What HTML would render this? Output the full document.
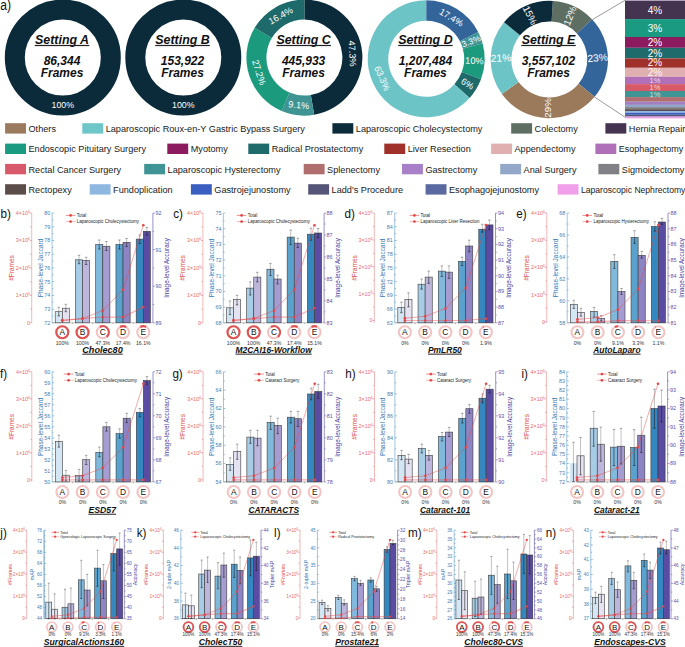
<!DOCTYPE html>
<html><head><meta charset="utf-8"><style>
html,body{margin:0;padding:0;background:#fff;width:685px;height:647px;overflow:hidden}
svg{display:block;font-family:"Liberation Sans",sans-serif}
.bi{font-weight:bold;font-style:italic;fill:#111}
</style></head><body>
<svg width="685" height="647" viewBox="0 0 685 647">
<rect width="685" height="647" fill="#fff"/>
<circle cx="62.8" cy="57.6" r="48" fill="none" stroke="#0b2b3b" stroke-width="20"/>
<text x="62.8" y="108.3" font-size="8.8" fill="#fff" text-anchor="middle">100%</text>
<text x="62" y="44" class="bi" font-size="12.4" text-anchor="middle">Setting A</text>
<rect x="34.8" y="44.9" width="54.5" height="1.2" fill="#222"/>
<text x="62" y="64.6" class="bi" font-size="12" text-anchor="middle">86,344</text>
<text x="62" y="76.7" class="bi" font-size="12" text-anchor="middle">Frames</text>
<circle cx="183.3" cy="57.6" r="48" fill="none" stroke="#0b2b3b" stroke-width="20"/>
<text x="183.3" y="108.3" font-size="8.8" fill="#fff" text-anchor="middle">100%</text>
<text x="182.5" y="44" class="bi" font-size="12.4" text-anchor="middle">Setting B</text>
<rect x="155.3" y="44.9" width="54.5" height="1.2" fill="#222"/>
<text x="182.5" y="64.6" class="bi" font-size="12" text-anchor="middle">153,922</text>
<text x="182.5" y="76.7" class="bi" font-size="12" text-anchor="middle">Frames</text>
<path d="M304.4,-0.4A58,58 0 0 1 314.19,114.77L310.82,95.05A38,38 0 0 0 304.4,19.6Z" fill="#0b2b3b"/>
<path d="M314.19,114.77A58,58 0 0 1 281.7,110.97L289.53,92.57A38,38 0 0 0 310.82,95.05Z" fill="#3f9393"/>
<path d="M281.7,110.97A58,58 0 0 1 254.66,27.76L271.81,38.05A38,38 0 0 0 289.53,92.57Z" fill="#1c9a7e"/>
<path d="M254.66,27.76A58,58 0 0 1 304.4,-0.4L304.4,19.6A38,38 0 0 0 271.81,38.05Z" fill="#1e6a6a"/>
<text x="352.23" y="53.53" transform="rotate(87 352.23 53.53)" font-size="9.2" fill="#fff" text-anchor="middle" dominant-baseline="central">47.3%</text>
<text x="298.83" y="105.28" transform="rotate(5 298.83 105.28)" font-size="9.2" fill="#fff" text-anchor="middle" dominant-baseline="central">9.1%</text>
<text x="258.75" y="72.43" transform="rotate(72 258.75 72.43)" font-size="9.2" fill="#fff" text-anchor="middle" dominant-baseline="central">27.2%</text>
<text x="280.75" y="15.83" transform="rotate(-29 280.75 15.83)" font-size="9.2" fill="#fff" text-anchor="middle" dominant-baseline="central">16.4%</text>
<text x="303.6" y="44" class="bi" font-size="12.4" text-anchor="middle">Setting C</text>
<rect x="276.4" y="44.9" width="54.5" height="1.2" fill="#222"/>
<text x="303.6" y="64.6" class="bi" font-size="12" text-anchor="middle">445,933</text>
<text x="303.6" y="76.7" class="bi" font-size="12" text-anchor="middle">Frames</text>
<path d="M426.2,0.3A58.5,58.5 0 0 1 478.16,31.91L459.95,41.34A38,38 0 0 0 426.2,20.8Z" fill="#33649a"/>
<path d="M478.16,31.91A58.5,58.5 0 0 1 482.58,43.19L462.82,48.66A38,38 0 0 0 459.95,41.34Z" fill="#3f9393"/>
<path d="M482.58,43.19A58.5,58.5 0 0 1 480.99,79.31L461.79,72.12A38,38 0 0 0 462.82,48.66Z" fill="#1c9a7e"/>
<path d="M480.99,79.31A58.5,58.5 0 0 1 469.59,98.04L454.39,84.29A38,38 0 0 0 461.79,72.12Z" fill="#1e6a6a"/>
<path d="M469.59,98.04A58.5,58.5 0 1 1 426.2,0.3L426.2,20.8A38,38 0 1 0 454.39,84.29Z" fill="#6dc4c7"/>
<text x="451.28" y="17.58" transform="rotate(31 451.28 17.58)" font-size="9.2" fill="#fff" text-anchor="middle" dominant-baseline="central">17.4%</text>
<text x="471.12" y="41.18" transform="rotate(-21 471.12 41.18)" font-size="8.6" fill="#fff" text-anchor="middle" dominant-baseline="central">3.3%</text>
<text x="474.4" y="60.92" transform="rotate(2 474.4 60.92)" font-size="9.3" fill="#fff" text-anchor="middle" dominant-baseline="central">10%</text>
<text x="467.42" y="83.88" transform="rotate(31 467.42 83.88)" font-size="9.2" fill="#fff" text-anchor="middle" dominant-baseline="central">6%</text>
<text x="382.1" y="78.38" transform="rotate(66 382.1 78.38)" font-size="9.2" fill="#fff" text-anchor="middle" dominant-baseline="central">63.3%</text>
<text x="425.4" y="44" class="bi" font-size="12.4" text-anchor="middle">Setting D</text>
<rect x="398.2" y="44.9" width="54.5" height="1.2" fill="#222"/>
<text x="425.4" y="64.6" class="bi" font-size="12" text-anchor="middle">1,207,484</text>
<text x="425.4" y="76.7" class="bi" font-size="12" text-anchor="middle">Frames</text>
<path d="M552.88,0.91A58.7,58.7 0 0 1 592.02,19.24L576.96,33.44A38,38 0 0 0 551.62,21.57Z" fill="#5e6e62"/>
<path d="M592.02,19.24A58.7,58.7 0 0 1 594.59,96.84L578.62,83.67A38,38 0 0 0 576.96,33.44Z" fill="#33649a"/>
<path d="M594.59,96.84A58.7,58.7 0 0 1 501.87,94.09L518.6,81.89A38,38 0 0 0 578.62,83.67Z" fill="#9b7a5c"/>
<path d="M501.87,94.09A58.7,58.7 0 0 1 504.01,22.16L519.98,35.33A38,38 0 0 0 518.6,81.89Z" fill="#6dc4c7"/>
<path d="M504.01,22.16A58.7,58.7 0 0 1 552.88,0.91L551.62,21.57A38,38 0 0 0 519.98,35.33Z" fill="#0b2b3b"/>
<text x="569.81" y="15.72" transform="rotate(-68 569.81 15.72)" font-size="9.8" fill="#fff" text-anchor="middle" dominant-baseline="central">12%</text>
<text x="597.62" y="57.9" transform="rotate(-5 597.62 57.9)" font-size="10.3" fill="#fff" text-anchor="middle" dominant-baseline="central">23%</text>
<text x="547.87" y="107.83" transform="rotate(-90 547.87 107.83)" font-size="9.8" fill="#fff" text-anchor="middle" dominant-baseline="central">29%</text>
<text x="500.97" y="58.07" transform="rotate(-2 500.97 58.07)" font-size="10.3" fill="#fff" text-anchor="middle" dominant-baseline="central">21%</text>
<text x="530.02" y="15.16" transform="rotate(63 530.02 15.16)" font-size="9.8" fill="#fff" text-anchor="middle" dominant-baseline="central">15%</text>
<text x="548.5" y="44" class="bi" font-size="12.4" text-anchor="middle">Setting E</text>
<rect x="521.3" y="44.9" width="54.5" height="1.2" fill="#222"/>
<text x="548.5" y="64.6" class="bi" font-size="12" text-anchor="middle">3,557,102</text>
<text x="548.5" y="76.7" class="bi" font-size="12" text-anchor="middle">Frames</text>
<path d="M592.5,19.5L625,0.3M594.5,97L625,117.2" stroke="#555" stroke-width="0.6" fill="none"/>
<rect x="625" y="0" width="60" height="0.9" fill="#b0a6c0"/>
<rect x="625" y="0.9" width="60" height="18.2" fill="#44344f"/>
<rect x="625" y="19.1" width="60" height="17.9" fill="#1a9a80"/>
<rect x="625" y="37" width="60" height="10.8" fill="#8b1a5e"/>
<rect x="625" y="47.8" width="60" height="10.6" fill="#1f6a6b"/>
<rect x="625" y="58.4" width="60" height="9.4" fill="#a0302a"/>
<rect x="625" y="67.8" width="60" height="9" fill="#e0b0b0"/>
<rect x="625" y="76.8" width="60" height="7.3" fill="#b070b8"/>
<rect x="625" y="84.1" width="60" height="6.9" fill="#d85a68"/>
<rect x="625" y="91" width="60" height="6.1" fill="#3f9595"/>
<rect x="625" y="97.1" width="60" height="4.6" fill="#b06e6e"/>
<rect x="625" y="101.7" width="60" height="3.2" fill="#a080c0"/>
<rect x="625" y="104.9" width="60" height="2.2" fill="#90a8c8"/>
<rect x="625" y="107.1" width="60" height="2.1" fill="#808085"/>
<rect x="625" y="109.2" width="60" height="1.8" fill="#5a4d4a"/>
<rect x="625" y="111" width="60" height="1.7" fill="#8fb8e0"/>
<rect x="625" y="112.7" width="60" height="2.1" fill="#3a5fc0"/>
<rect x="625" y="114.8" width="60" height="1.8" fill="#555577"/>
<rect x="625" y="116.6" width="60" height="1.8" fill="#f0a0e8"/>
<text x="655" y="13.6" font-size="10" fill="#fff" fill-opacity="1" text-anchor="middle">4%</text>
<text x="655" y="31.7" font-size="10" fill="#fff" fill-opacity="1" text-anchor="middle">3%</text>
<text x="655" y="45.5" font-size="10" fill="#fff" fill-opacity="1" text-anchor="middle">2%</text>
<text x="655" y="56.7" font-size="10" fill="#fff" fill-opacity="1" text-anchor="middle">2%</text>
<text x="655" y="66.2" font-size="10" fill="#fff" fill-opacity="1" text-anchor="middle">2%</text>
<text x="655" y="76" font-size="10" fill="#fff" fill-opacity="0.9" text-anchor="middle">2%</text>
<text x="655" y="82.8" font-size="7.5" fill="#fff" fill-opacity="0.75" text-anchor="middle">1%</text>
<text x="655" y="90.3" font-size="7.5" fill="#fff" fill-opacity="0.75" text-anchor="middle">1%</text>
<text x="655" y="96.7" font-size="7.5" fill="#fff" fill-opacity="0.75" text-anchor="middle">1%</text>
<rect x="5.1" y="123.2" width="20.9" height="10.4" fill="#9b7b5e"/>
<text x="28.5" y="131.8" font-size="9.6" fill="#1a1a1a" textLength="27.46" lengthAdjust="spacingAndGlyphs">Others</text>
<rect x="82.3" y="123.2" width="20.9" height="10.4" fill="#6ec6c9"/>
<text x="105.7" y="131.8" font-size="9.6" fill="#1a1a1a" textLength="199.18" lengthAdjust="spacingAndGlyphs">Laparoscopic Roux-en-Y Gastric Bypass Surgery</text>
<rect x="332.4" y="123.2" width="20.9" height="10.4" fill="#0b2b3b"/>
<text x="355.8" y="131.8" font-size="9.6" fill="#1a1a1a" textLength="126.63" lengthAdjust="spacingAndGlyphs">Laparoscopic Cholecystectomy</text>
<rect x="511.2" y="123.2" width="20.9" height="10.4" fill="#5e6e62"/>
<text x="534.6" y="131.8" font-size="9.6" fill="#1a1a1a" textLength="43.22" lengthAdjust="spacingAndGlyphs">Colectomy</text>
<rect x="605.4" y="123.2" width="20.9" height="10.4" fill="#44344f"/>
<text x="628.8" y="131.8" font-size="9.6" fill="#1a1a1a" textLength="56.45" lengthAdjust="spacingAndGlyphs">Hernia Repair</text>
<rect x="5.1" y="143.6" width="20.9" height="10.4" fill="#1a9a80"/>
<text x="28.5" y="152.2" font-size="9.6" fill="#1a1a1a" textLength="117.47" lengthAdjust="spacingAndGlyphs">Endoscopic Pituitary Surgery</text>
<rect x="167.3" y="143.6" width="20.9" height="10.4" fill="#8b1a5e"/>
<text x="190.7" y="152.2" font-size="9.6" fill="#1a1a1a" textLength="37.11" lengthAdjust="spacingAndGlyphs">Myotomy</text>
<rect x="248.3" y="143.6" width="20.9" height="10.4" fill="#1f6b6b"/>
<text x="271.7" y="152.2" font-size="9.6" fill="#1a1a1a" textLength="91.53" lengthAdjust="spacingAndGlyphs">Radical Prostatectomy</text>
<rect x="384.3" y="143.6" width="20.9" height="10.4" fill="#a0302a"/>
<text x="407.7" y="152.2" font-size="9.6" fill="#1a1a1a" textLength="63.06" lengthAdjust="spacingAndGlyphs">Liver Resection</text>
<rect x="491.1" y="143.6" width="20.9" height="10.4" fill="#e0b0b0"/>
<text x="514.5" y="152.2" font-size="9.6" fill="#1a1a1a" textLength="61.03" lengthAdjust="spacingAndGlyphs">Appendectomy</text>
<rect x="595.4" y="143.6" width="20.9" height="10.4" fill="#b070b8"/>
<text x="618.8" y="152.2" font-size="9.6" fill="#1a1a1a" textLength="64.5" lengthAdjust="spacingAndGlyphs">Esophagectomy</text>
<rect x="5.1" y="163.9" width="20.9" height="10.4" fill="#d85a6a"/>
<text x="28.5" y="172.5" font-size="9.6" fill="#1a1a1a" textLength="92.55" lengthAdjust="spacingAndGlyphs">Rectal Cancer Surgery</text>
<rect x="144.2" y="163.9" width="20.9" height="10.4" fill="#3f9595"/>
<text x="167.6" y="172.5" font-size="9.6" fill="#1a1a1a" textLength="112.89" lengthAdjust="spacingAndGlyphs">Laparoscopic Hysterectomy</text>
<rect x="303.7" y="163.9" width="20.9" height="10.4" fill="#b06e6e"/>
<text x="327.1" y="172.5" font-size="9.6" fill="#1a1a1a" textLength="52.89" lengthAdjust="spacingAndGlyphs">Splenectomy</text>
<rect x="402" y="163.9" width="20.9" height="10.4" fill="#a880c8"/>
<text x="425.4" y="172.5" font-size="9.6" fill="#1a1a1a" textLength="51.86" lengthAdjust="spacingAndGlyphs">Gastrectomy</text>
<rect x="500.2" y="163.9" width="20.9" height="10.4" fill="#93a8c8"/>
<text x="523.6" y="172.5" font-size="9.6" fill="#1a1a1a" textLength="52.89" lengthAdjust="spacingAndGlyphs">Anal Surgery</text>
<rect x="598.4" y="163.9" width="20.9" height="10.4" fill="#808085"/>
<text x="621.8" y="172.5" font-size="9.6" fill="#1a1a1a" textLength="62.55" lengthAdjust="spacingAndGlyphs">Sigmoidectomy</text>
<rect x="5.1" y="184.2" width="20.9" height="10.4" fill="#5a4d4a"/>
<text x="28.5" y="192.8" font-size="9.6" fill="#1a1a1a" textLength="43.23" lengthAdjust="spacingAndGlyphs">Rectopexy</text>
<rect x="89.7" y="184.2" width="20.9" height="10.4" fill="#8fb8e0"/>
<text x="113.1" y="192.8" font-size="9.6" fill="#1a1a1a" textLength="59.51" lengthAdjust="spacingAndGlyphs">Fundoplication</text>
<rect x="190.9" y="184.2" width="20.9" height="10.4" fill="#3a5fc0"/>
<text x="214.3" y="192.8" font-size="9.6" fill="#1a1a1a" textLength="76.28" lengthAdjust="spacingAndGlyphs">Gastrojejunostomy</text>
<rect x="308.2" y="184.2" width="20.9" height="10.4" fill="#555577"/>
<text x="331.6" y="192.8" font-size="9.6" fill="#1a1a1a" textLength="71.43" lengthAdjust="spacingAndGlyphs">Ladd's Procedure</text>
<rect x="425.6" y="184.2" width="20.9" height="10.4" fill="#5a6aa0"/>
<text x="449" y="192.8" font-size="9.6" fill="#1a1a1a" textLength="90.03" lengthAdjust="spacingAndGlyphs">Esophagojejunostomy</text>
<rect x="557.6" y="184.2" width="20.9" height="10.4" fill="#f0a0e8"/>
<text x="581" y="192.8" font-size="9.6" fill="#1a1a1a" textLength="104.4" lengthAdjust="spacingAndGlyphs">Laparoscopic Nephrectomy</text>
<text x="0.6" y="217.8" font-size="12.4" fill="#111" textLength="10.36" lengthAdjust="spacingAndGlyphs">b)</text>
<line x1="31.7" y1="213.1" x2="31.7" y2="322.8" stroke="#ef9a9a" stroke-width="0.7"/>
<line x1="29.7" y1="322.8" x2="31.7" y2="322.8" stroke="#e57373" stroke-width="0.6"/>
<line x1="30.4" y1="309.09" x2="31.7" y2="309.09" stroke="#e57373" stroke-width="0.6"/>
<line x1="29.7" y1="295.38" x2="31.7" y2="295.38" stroke="#e57373" stroke-width="0.6"/>
<line x1="30.4" y1="281.66" x2="31.7" y2="281.66" stroke="#e57373" stroke-width="0.6"/>
<line x1="29.7" y1="267.95" x2="31.7" y2="267.95" stroke="#e57373" stroke-width="0.6"/>
<line x1="30.4" y1="254.24" x2="31.7" y2="254.24" stroke="#e57373" stroke-width="0.6"/>
<line x1="29.7" y1="240.53" x2="31.7" y2="240.53" stroke="#e57373" stroke-width="0.6"/>
<line x1="30.4" y1="226.81" x2="31.7" y2="226.81" stroke="#e57373" stroke-width="0.6"/>
<line x1="29.7" y1="213.1" x2="31.7" y2="213.1" stroke="#e57373" stroke-width="0.6"/>
<text x="29.9" y="324.74" font-size="5.4" fill="#e86a6a" text-anchor="end">0</text>
<text x="29.9" y="297.32" font-size="5.4" fill="#e86a6a" text-anchor="end">1×10<tspan font-size="3.51" dy="-2.16">6</tspan></text>
<text x="29.9" y="269.89" font-size="5.4" fill="#e86a6a" text-anchor="end">2×10<tspan font-size="3.51" dy="-2.16">6</tspan></text>
<text x="29.9" y="242.47" font-size="5.4" fill="#e86a6a" text-anchor="end">3×10<tspan font-size="3.51" dy="-2.16">6</tspan></text>
<text x="29.9" y="215.04" font-size="5.4" fill="#e86a6a" text-anchor="end">4×10<tspan font-size="3.51" dy="-2.16">6</tspan></text>
<text transform="translate(11.5 267.95) rotate(-90)" font-size="6.5" fill="#e04a4a" text-anchor="middle" dominant-baseline="central">#Frames</text>
<line x1="52.1" y1="213.1" x2="52.1" y2="322.8" stroke="#7aaad0" stroke-width="0.7"/>
<line x1="52.1" y1="322.8" x2="54.1" y2="322.8" stroke="#5b95c5" stroke-width="0.6"/>
<text x="50.2" y="324.74" font-size="5.4" fill="#3f80b8" text-anchor="end">72</text>
<line x1="52.1" y1="315.94" x2="53.4" y2="315.94" stroke="#5b95c5" stroke-width="0.6"/>
<line x1="52.1" y1="309.09" x2="54.1" y2="309.09" stroke="#5b95c5" stroke-width="0.6"/>
<text x="50.2" y="311.03" font-size="5.4" fill="#3f80b8" text-anchor="end">73</text>
<line x1="52.1" y1="302.23" x2="53.4" y2="302.23" stroke="#5b95c5" stroke-width="0.6"/>
<line x1="52.1" y1="295.38" x2="54.1" y2="295.38" stroke="#5b95c5" stroke-width="0.6"/>
<text x="50.2" y="297.32" font-size="5.4" fill="#3f80b8" text-anchor="end">74</text>
<line x1="52.1" y1="288.52" x2="53.4" y2="288.52" stroke="#5b95c5" stroke-width="0.6"/>
<line x1="52.1" y1="281.66" x2="54.1" y2="281.66" stroke="#5b95c5" stroke-width="0.6"/>
<text x="50.2" y="283.61" font-size="5.4" fill="#3f80b8" text-anchor="end">75</text>
<line x1="52.1" y1="274.81" x2="53.4" y2="274.81" stroke="#5b95c5" stroke-width="0.6"/>
<line x1="52.1" y1="267.95" x2="54.1" y2="267.95" stroke="#5b95c5" stroke-width="0.6"/>
<text x="50.2" y="269.89" font-size="5.4" fill="#3f80b8" text-anchor="end">76</text>
<line x1="52.1" y1="261.09" x2="53.4" y2="261.09" stroke="#5b95c5" stroke-width="0.6"/>
<line x1="52.1" y1="254.24" x2="54.1" y2="254.24" stroke="#5b95c5" stroke-width="0.6"/>
<text x="50.2" y="256.18" font-size="5.4" fill="#3f80b8" text-anchor="end">77</text>
<line x1="52.1" y1="247.38" x2="53.4" y2="247.38" stroke="#5b95c5" stroke-width="0.6"/>
<line x1="52.1" y1="240.53" x2="54.1" y2="240.53" stroke="#5b95c5" stroke-width="0.6"/>
<text x="50.2" y="242.47" font-size="5.4" fill="#3f80b8" text-anchor="end">78</text>
<line x1="52.1" y1="233.67" x2="53.4" y2="233.67" stroke="#5b95c5" stroke-width="0.6"/>
<line x1="52.1" y1="226.81" x2="54.1" y2="226.81" stroke="#5b95c5" stroke-width="0.6"/>
<text x="50.2" y="228.76" font-size="5.4" fill="#3f80b8" text-anchor="end">79</text>
<line x1="52.1" y1="219.96" x2="53.4" y2="219.96" stroke="#5b95c5" stroke-width="0.6"/>
<line x1="52.1" y1="213.1" x2="54.1" y2="213.1" stroke="#5b95c5" stroke-width="0.6"/>
<text x="50.2" y="215.04" font-size="5.4" fill="#3f80b8" text-anchor="end">80</text>
<text transform="translate(40.1 267.95) rotate(-90)" font-size="6.5" fill="#2f76b3" text-anchor="middle" dominant-baseline="central">Phase-level Jaccard</text>
<line x1="152.9" y1="213.1" x2="152.9" y2="322.8" stroke="#7d77c2" stroke-width="0.8"/>
<line x1="152.9" y1="322.8" x2="154.9" y2="322.8" stroke="#6a62b0" stroke-width="0.6"/>
<text x="155.4" y="324.74" font-size="5.4" fill="#5a52a8">89</text>
<line x1="152.9" y1="304.52" x2="154.2" y2="304.52" stroke="#6a62b0" stroke-width="0.6"/>
<line x1="152.9" y1="286.23" x2="154.9" y2="286.23" stroke="#6a62b0" stroke-width="0.6"/>
<text x="155.4" y="288.18" font-size="5.4" fill="#5a52a8">90</text>
<line x1="152.9" y1="267.95" x2="154.2" y2="267.95" stroke="#6a62b0" stroke-width="0.6"/>
<line x1="152.9" y1="249.67" x2="154.9" y2="249.67" stroke="#6a62b0" stroke-width="0.6"/>
<text x="155.4" y="251.61" font-size="5.4" fill="#5a52a8">91</text>
<line x1="152.9" y1="231.38" x2="154.2" y2="231.38" stroke="#6a62b0" stroke-width="0.6"/>
<line x1="152.9" y1="213.1" x2="154.9" y2="213.1" stroke="#6a62b0" stroke-width="0.6"/>
<text x="155.4" y="215.04" font-size="5.4" fill="#5a52a8">92</text>
<text transform="translate(166.3 267.95) rotate(-90)" font-size="6.3" fill="#4a41a0" text-anchor="middle" dominant-baseline="central">Image-level Accuracy</text>
<line x1="52.1" y1="322.8" x2="152.9" y2="322.8" stroke="#999" stroke-width="0.6"/>
<line x1="72.42" y1="322.8" x2="72.42" y2="324" stroke="#666" stroke-width="0.5"/>
<line x1="92.67" y1="322.8" x2="92.67" y2="324" stroke="#666" stroke-width="0.5"/>
<line x1="112.92" y1="322.8" x2="112.92" y2="324" stroke="#666" stroke-width="0.5"/>
<line x1="133.18" y1="322.8" x2="133.18" y2="324" stroke="#666" stroke-width="0.5"/>
<rect x="55.2" y="311.7" width="7.1" height="11.1" fill="#d4e6f3" stroke="#3a3a3a" stroke-width="0.6"/>
<rect x="62.3" y="308.2" width="7.1" height="14.6" fill="#e5e3f2" stroke="#3a3a3a" stroke-width="0.6"/>
<rect x="75.45" y="259.8" width="7.1" height="63" fill="#a7cce5" stroke="#3a3a3a" stroke-width="0.6"/>
<rect x="82.55" y="260.3" width="7.1" height="62.5" fill="#bcb6dc" stroke="#3a3a3a" stroke-width="0.6"/>
<rect x="95.7" y="244.5" width="7.1" height="78.3" fill="#80b9dc" stroke="#3a3a3a" stroke-width="0.6"/>
<rect x="102.8" y="246.2" width="7.1" height="76.6" fill="#a59dd1" stroke="#3a3a3a" stroke-width="0.6"/>
<rect x="115.95" y="244.5" width="7.1" height="78.3" fill="#58a2cd" stroke="#3a3a3a" stroke-width="0.6"/>
<rect x="123.05" y="242.3" width="7.1" height="80.5" fill="#8d84c4" stroke="#3a3a3a" stroke-width="0.6"/>
<rect x="136.2" y="239.1" width="7.1" height="83.7" fill="#3587bf" stroke="#3a3a3a" stroke-width="0.6"/>
<rect x="143.3" y="231.3" width="7.1" height="91.5" fill="#5a4ca2" stroke="#3a3a3a" stroke-width="0.6"/>
<path d="M58.75,307.3V311.7" stroke="#999" stroke-width="0.6" fill="none"/>
<path d="M57.55,307.3h2.4" stroke="#666" stroke-width="0.6" fill="none"/>
<path d="M58.75,311.7V315.9M57.55,315.9h2.4" stroke="#222" stroke-width="0.6" fill="none"/>
<path d="M65.85,304.3V308.2" stroke="#999" stroke-width="0.6" fill="none"/>
<path d="M64.65,304.3h2.4" stroke="#666" stroke-width="0.6" fill="none"/>
<path d="M65.85,308.2V311.7M64.65,311.7h2.4" stroke="#222" stroke-width="0.6" fill="none"/>
<path d="M79,255.3V259.8" stroke="#999" stroke-width="0.6" fill="none"/>
<path d="M77.8,255.3h2.4" stroke="#666" stroke-width="0.6" fill="none"/>
<path d="M79,259.8V263.7M77.8,263.7h2.4" stroke="#222" stroke-width="0.6" fill="none"/>
<path d="M86.1,257.3V260.3" stroke="#999" stroke-width="0.6" fill="none"/>
<path d="M84.9,257.3h2.4" stroke="#666" stroke-width="0.6" fill="none"/>
<path d="M86.1,260.3V264.5M84.9,264.5h2.4" stroke="#222" stroke-width="0.6" fill="none"/>
<path d="M99.25,240V244.5" stroke="#999" stroke-width="0.6" fill="none"/>
<path d="M98.05,240h2.4" stroke="#666" stroke-width="0.6" fill="none"/>
<path d="M99.25,244.5V249M98.05,249h2.4" stroke="#222" stroke-width="0.6" fill="none"/>
<path d="M106.35,241.5V246.2" stroke="#999" stroke-width="0.6" fill="none"/>
<path d="M105.15,241.5h2.4" stroke="#666" stroke-width="0.6" fill="none"/>
<path d="M106.35,246.2V250.5M105.15,250.5h2.4" stroke="#222" stroke-width="0.6" fill="none"/>
<path d="M119.5,240V244.5" stroke="#999" stroke-width="0.6" fill="none"/>
<path d="M118.3,240h2.4" stroke="#666" stroke-width="0.6" fill="none"/>
<path d="M119.5,244.5V249M118.3,249h2.4" stroke="#222" stroke-width="0.6" fill="none"/>
<path d="M126.6,238.5V242.3" stroke="#999" stroke-width="0.6" fill="none"/>
<path d="M125.4,238.5h2.4" stroke="#666" stroke-width="0.6" fill="none"/>
<path d="M126.6,242.3V246.5M125.4,246.5h2.4" stroke="#222" stroke-width="0.6" fill="none"/>
<path d="M139.75,235V239.1" stroke="#999" stroke-width="0.6" fill="none"/>
<path d="M138.55,235h2.4" stroke="#666" stroke-width="0.6" fill="none"/>
<path d="M139.75,239.1V243.5M138.55,243.5h2.4" stroke="#222" stroke-width="0.6" fill="none"/>
<path d="M146.85,227.5V231.3" stroke="#999" stroke-width="0.6" fill="none"/>
<path d="M145.65,227.5h2.4" stroke="#666" stroke-width="0.6" fill="none"/>
<path d="M146.85,231.3V235M145.65,235h2.4" stroke="#222" stroke-width="0.6" fill="none"/>
<polyline points="62.3,320.43 82.55,318.58 102.8,310.57 123.05,289.68 143.3,225.25" fill="none" stroke="#e64545" stroke-opacity="0.7" stroke-width="0.65"/>
<polyline points="62.3,320.43 82.55,318.58 102.8,317.02 123.05,317.04 143.3,307.09" fill="none" stroke="#e64545" stroke-opacity="0.42" stroke-width="1.2"/>
<circle cx="62.3" cy="320.43" r="1.35" fill="#e44848"/>
<circle cx="62.3" cy="320.43" r="1.35" fill="#e44848"/>
<circle cx="82.55" cy="318.58" r="1.35" fill="#e44848"/>
<circle cx="82.55" cy="318.58" r="1.35" fill="#e44848"/>
<circle cx="102.8" cy="310.57" r="1.35" fill="#e44848"/>
<circle cx="102.8" cy="317.02" r="1.35" fill="#e44848"/>
<circle cx="123.05" cy="289.68" r="1.35" fill="#e44848"/>
<circle cx="123.05" cy="317.04" r="1.35" fill="#e44848"/>
<circle cx="143.3" cy="225.25" r="1.35" fill="#e44848"/>
<circle cx="143.3" cy="307.09" r="1.35" fill="#e44848"/>
<line x1="65.8" y1="215.4" x2="75.4" y2="215.4" stroke="#e84a4a" stroke-opacity="0.9" stroke-width="0.7"/>
<circle cx="70.6" cy="215.4" r="1.4" fill="#e44848"/>
<text x="76.8" y="217.02" font-size="4.5" fill="#222">Total</text>
<line x1="65.8" y1="221.6" x2="75.4" y2="221.6" stroke="#e84a4a" stroke-opacity="0.45" stroke-width="0.9"/>
<circle cx="70.6" cy="221.6" r="1.4" fill="#e44848"/>
<text x="76.8" y="223.22" font-size="4.5" fill="#222">Laparoscopic Cholecystectomy</text>
<circle cx="62.3" cy="332.2" r="6" fill="#fff" stroke="#f3c4c4" stroke-width="2.1"/>
<circle cx="62.3" cy="332.2" r="6" fill="none" stroke="#de5454" stroke-width="2.1"/>
<text x="62.3" y="332.2" font-size="8.4" fill="#111" text-anchor="middle" dominant-baseline="central">A</text>
<text x="62.3" y="344.5" font-size="5.2" fill="#333" text-anchor="middle">100%</text>
<circle cx="82.55" cy="332.2" r="6" fill="#fff" stroke="#f3c4c4" stroke-width="2.1"/>
<circle cx="82.55" cy="332.2" r="6" fill="none" stroke="#de5454" stroke-width="2.1"/>
<text x="82.55" y="332.2" font-size="8.4" fill="#111" text-anchor="middle" dominant-baseline="central">B</text>
<text x="82.55" y="344.5" font-size="5.2" fill="#333" text-anchor="middle">100%</text>
<circle cx="102.8" cy="332.2" r="6" fill="#fff" stroke="#f3c4c4" stroke-width="2.1"/>
<path d="M99.8,327A6.0,6.0 0 0 1 106.63,336.82" fill="none" stroke="#de5454" stroke-width="2.1"/>
<text x="102.8" y="332.2" font-size="8.4" fill="#111" text-anchor="middle" dominant-baseline="central">C</text>
<text x="102.8" y="344.5" font-size="5.2" fill="#333" text-anchor="middle">47.3%</text>
<circle cx="123.05" cy="332.2" r="6" fill="#fff" stroke="#f3c4c4" stroke-width="2.1"/>
<path d="M120.05,327A6.0,6.0 0 0 1 126.29,327.15" fill="none" stroke="#de5454" stroke-width="2.1"/>
<text x="123.05" y="332.2" font-size="8.4" fill="#111" text-anchor="middle" dominant-baseline="central">D</text>
<text x="123.05" y="344.5" font-size="5.2" fill="#333" text-anchor="middle">17.4%</text>
<circle cx="143.3" cy="332.2" r="6" fill="#fff" stroke="#f3c4c4" stroke-width="2.1"/>
<path d="M140.3,327A6.0,6.0 0 0 1 146.11,326.9" fill="none" stroke="#de5454" stroke-width="2.1"/>
<text x="143.3" y="332.2" font-size="8.4" fill="#111" text-anchor="middle" dominant-baseline="central">E</text>
<text x="143.3" y="344.5" font-size="5.2" fill="#333" text-anchor="middle">16.1%</text>
<text x="102.5" y="352.6" class="bi" font-size="8.9" text-anchor="middle" textLength="40.4" lengthAdjust="spacingAndGlyphs">Cholec80</text>
<rect x="82.3" y="353.6" width="40.4" height="1.1" fill="#333"/>
<text x="173.3" y="217.8" font-size="12.4" fill="#111" textLength="9.71" lengthAdjust="spacingAndGlyphs">c)</text>
<line x1="202.9" y1="213.1" x2="202.9" y2="322.8" stroke="#ef9a9a" stroke-width="0.7"/>
<line x1="200.9" y1="322.8" x2="202.9" y2="322.8" stroke="#e57373" stroke-width="0.6"/>
<line x1="201.6" y1="309.09" x2="202.9" y2="309.09" stroke="#e57373" stroke-width="0.6"/>
<line x1="200.9" y1="295.38" x2="202.9" y2="295.38" stroke="#e57373" stroke-width="0.6"/>
<line x1="201.6" y1="281.66" x2="202.9" y2="281.66" stroke="#e57373" stroke-width="0.6"/>
<line x1="200.9" y1="267.95" x2="202.9" y2="267.95" stroke="#e57373" stroke-width="0.6"/>
<line x1="201.6" y1="254.24" x2="202.9" y2="254.24" stroke="#e57373" stroke-width="0.6"/>
<line x1="200.9" y1="240.53" x2="202.9" y2="240.53" stroke="#e57373" stroke-width="0.6"/>
<line x1="201.6" y1="226.81" x2="202.9" y2="226.81" stroke="#e57373" stroke-width="0.6"/>
<line x1="200.9" y1="213.1" x2="202.9" y2="213.1" stroke="#e57373" stroke-width="0.6"/>
<text x="201.1" y="324.74" font-size="5.4" fill="#e86a6a" text-anchor="end">0</text>
<text x="201.1" y="297.32" font-size="5.4" fill="#e86a6a" text-anchor="end">1×10<tspan font-size="3.51" dy="-2.16">6</tspan></text>
<text x="201.1" y="269.89" font-size="5.4" fill="#e86a6a" text-anchor="end">2×10<tspan font-size="3.51" dy="-2.16">6</tspan></text>
<text x="201.1" y="242.47" font-size="5.4" fill="#e86a6a" text-anchor="end">3×10<tspan font-size="3.51" dy="-2.16">6</tspan></text>
<text x="201.1" y="215.04" font-size="5.4" fill="#e86a6a" text-anchor="end">4×10<tspan font-size="3.51" dy="-2.16">6</tspan></text>
<text transform="translate(182.7 267.95) rotate(-90)" font-size="6.5" fill="#e04a4a" text-anchor="middle" dominant-baseline="central">#Frames</text>
<line x1="223.3" y1="213.1" x2="223.3" y2="322.8" stroke="#7aaad0" stroke-width="0.7"/>
<line x1="223.3" y1="322.8" x2="225.3" y2="322.8" stroke="#5b95c5" stroke-width="0.6"/>
<text x="221.4" y="324.74" font-size="5.4" fill="#3f80b8" text-anchor="end">68</text>
<line x1="223.3" y1="314.96" x2="224.6" y2="314.96" stroke="#5b95c5" stroke-width="0.6"/>
<line x1="223.3" y1="307.13" x2="225.3" y2="307.13" stroke="#5b95c5" stroke-width="0.6"/>
<text x="221.4" y="309.07" font-size="5.4" fill="#3f80b8" text-anchor="end">69</text>
<line x1="223.3" y1="299.29" x2="224.6" y2="299.29" stroke="#5b95c5" stroke-width="0.6"/>
<line x1="223.3" y1="291.46" x2="225.3" y2="291.46" stroke="#5b95c5" stroke-width="0.6"/>
<text x="221.4" y="293.4" font-size="5.4" fill="#3f80b8" text-anchor="end">70</text>
<line x1="223.3" y1="283.62" x2="224.6" y2="283.62" stroke="#5b95c5" stroke-width="0.6"/>
<line x1="223.3" y1="275.79" x2="225.3" y2="275.79" stroke="#5b95c5" stroke-width="0.6"/>
<text x="221.4" y="277.73" font-size="5.4" fill="#3f80b8" text-anchor="end">71</text>
<line x1="223.3" y1="267.95" x2="224.6" y2="267.95" stroke="#5b95c5" stroke-width="0.6"/>
<line x1="223.3" y1="260.11" x2="225.3" y2="260.11" stroke="#5b95c5" stroke-width="0.6"/>
<text x="221.4" y="262.06" font-size="5.4" fill="#3f80b8" text-anchor="end">72</text>
<line x1="223.3" y1="252.28" x2="224.6" y2="252.28" stroke="#5b95c5" stroke-width="0.6"/>
<line x1="223.3" y1="244.44" x2="225.3" y2="244.44" stroke="#5b95c5" stroke-width="0.6"/>
<text x="221.4" y="246.39" font-size="5.4" fill="#3f80b8" text-anchor="end">73</text>
<line x1="223.3" y1="236.61" x2="224.6" y2="236.61" stroke="#5b95c5" stroke-width="0.6"/>
<line x1="223.3" y1="228.77" x2="225.3" y2="228.77" stroke="#5b95c5" stroke-width="0.6"/>
<text x="221.4" y="230.72" font-size="5.4" fill="#3f80b8" text-anchor="end">74</text>
<line x1="223.3" y1="220.94" x2="224.6" y2="220.94" stroke="#5b95c5" stroke-width="0.6"/>
<line x1="223.3" y1="213.1" x2="225.3" y2="213.1" stroke="#5b95c5" stroke-width="0.6"/>
<text x="221.4" y="215.04" font-size="5.4" fill="#3f80b8" text-anchor="end">75</text>
<text transform="translate(211.3 267.95) rotate(-90)" font-size="6.5" fill="#2f76b3" text-anchor="middle" dominant-baseline="central">Phase-level Jaccard</text>
<line x1="324.1" y1="213.1" x2="324.1" y2="322.8" stroke="#7d77c2" stroke-width="0.8"/>
<line x1="324.1" y1="322.8" x2="326.1" y2="322.8" stroke="#6a62b0" stroke-width="0.6"/>
<text x="326.6" y="324.74" font-size="5.4" fill="#5a52a8">83</text>
<line x1="324.1" y1="311.83" x2="325.4" y2="311.83" stroke="#6a62b0" stroke-width="0.6"/>
<line x1="324.1" y1="300.86" x2="326.1" y2="300.86" stroke="#6a62b0" stroke-width="0.6"/>
<text x="326.6" y="302.8" font-size="5.4" fill="#5a52a8">84</text>
<line x1="324.1" y1="289.89" x2="325.4" y2="289.89" stroke="#6a62b0" stroke-width="0.6"/>
<line x1="324.1" y1="278.92" x2="326.1" y2="278.92" stroke="#6a62b0" stroke-width="0.6"/>
<text x="326.6" y="280.86" font-size="5.4" fill="#5a52a8">85</text>
<line x1="324.1" y1="267.95" x2="325.4" y2="267.95" stroke="#6a62b0" stroke-width="0.6"/>
<line x1="324.1" y1="256.98" x2="326.1" y2="256.98" stroke="#6a62b0" stroke-width="0.6"/>
<text x="326.6" y="258.92" font-size="5.4" fill="#5a52a8">86</text>
<line x1="324.1" y1="246.01" x2="325.4" y2="246.01" stroke="#6a62b0" stroke-width="0.6"/>
<line x1="324.1" y1="235.04" x2="326.1" y2="235.04" stroke="#6a62b0" stroke-width="0.6"/>
<text x="326.6" y="236.98" font-size="5.4" fill="#5a52a8">87</text>
<line x1="324.1" y1="224.07" x2="325.4" y2="224.07" stroke="#6a62b0" stroke-width="0.6"/>
<line x1="324.1" y1="213.1" x2="326.1" y2="213.1" stroke="#6a62b0" stroke-width="0.6"/>
<text x="326.6" y="215.04" font-size="5.4" fill="#5a52a8">88</text>
<text transform="translate(337.5 267.95) rotate(-90)" font-size="6.3" fill="#4a41a0" text-anchor="middle" dominant-baseline="central">Image-level Accuracy</text>
<line x1="223.3" y1="322.8" x2="324.1" y2="322.8" stroke="#999" stroke-width="0.6"/>
<line x1="243.62" y1="322.8" x2="243.62" y2="324" stroke="#666" stroke-width="0.5"/>
<line x1="263.88" y1="322.8" x2="263.88" y2="324" stroke="#666" stroke-width="0.5"/>
<line x1="284.12" y1="322.8" x2="284.12" y2="324" stroke="#666" stroke-width="0.5"/>
<line x1="304.38" y1="322.8" x2="304.38" y2="324" stroke="#666" stroke-width="0.5"/>
<rect x="226.4" y="307.8" width="7.1" height="15" fill="#d4e6f3" stroke="#3a3a3a" stroke-width="0.6"/>
<rect x="233.5" y="299.3" width="7.1" height="23.5" fill="#e5e3f2" stroke="#3a3a3a" stroke-width="0.6"/>
<rect x="246.65" y="288.1" width="7.1" height="34.7" fill="#a7cce5" stroke="#3a3a3a" stroke-width="0.6"/>
<rect x="253.75" y="277.1" width="7.1" height="45.7" fill="#bcb6dc" stroke="#3a3a3a" stroke-width="0.6"/>
<rect x="266.9" y="269.2" width="7.1" height="53.6" fill="#80b9dc" stroke="#3a3a3a" stroke-width="0.6"/>
<rect x="274" y="279" width="7.1" height="43.8" fill="#a59dd1" stroke="#3a3a3a" stroke-width="0.6"/>
<rect x="287.15" y="237.1" width="7.1" height="85.7" fill="#58a2cd" stroke="#3a3a3a" stroke-width="0.6"/>
<rect x="294.25" y="243.1" width="7.1" height="79.7" fill="#8d84c4" stroke="#3a3a3a" stroke-width="0.6"/>
<rect x="307.4" y="234.2" width="7.1" height="88.6" fill="#3587bf" stroke="#3a3a3a" stroke-width="0.6"/>
<rect x="314.5" y="233" width="7.1" height="89.8" fill="#5a4ca2" stroke="#3a3a3a" stroke-width="0.6"/>
<path d="M229.95,301V307.8" stroke="#999" stroke-width="0.6" fill="none"/>
<path d="M228.75,301h2.4" stroke="#666" stroke-width="0.6" fill="none"/>
<path d="M229.95,307.8V314.6M228.75,314.6h2.4" stroke="#222" stroke-width="0.6" fill="none"/>
<path d="M237.05,295.3V299.3" stroke="#999" stroke-width="0.6" fill="none"/>
<path d="M235.85,295.3h2.4" stroke="#666" stroke-width="0.6" fill="none"/>
<path d="M237.05,299.3V304.9M235.85,304.9h2.4" stroke="#222" stroke-width="0.6" fill="none"/>
<path d="M250.2,281.9V288.1" stroke="#999" stroke-width="0.6" fill="none"/>
<path d="M249,281.9h2.4" stroke="#666" stroke-width="0.6" fill="none"/>
<path d="M250.2,288.1V295M249,295h2.4" stroke="#222" stroke-width="0.6" fill="none"/>
<path d="M257.3,272.3V277.1" stroke="#999" stroke-width="0.6" fill="none"/>
<path d="M256.1,272.3h2.4" stroke="#666" stroke-width="0.6" fill="none"/>
<path d="M257.3,277.1V281.9M256.1,281.9h2.4" stroke="#222" stroke-width="0.6" fill="none"/>
<path d="M270.45,263.4V269.2" stroke="#999" stroke-width="0.6" fill="none"/>
<path d="M269.25,263.4h2.4" stroke="#666" stroke-width="0.6" fill="none"/>
<path d="M270.45,269.2V275.5M269.25,275.5h2.4" stroke="#222" stroke-width="0.6" fill="none"/>
<path d="M277.55,275.2V279" stroke="#999" stroke-width="0.6" fill="none"/>
<path d="M276.35,275.2h2.4" stroke="#666" stroke-width="0.6" fill="none"/>
<path d="M277.55,279V283.9M276.35,283.9h2.4" stroke="#222" stroke-width="0.6" fill="none"/>
<path d="M290.7,230.1V237.1" stroke="#999" stroke-width="0.6" fill="none"/>
<path d="M289.5,230.1h2.4" stroke="#666" stroke-width="0.6" fill="none"/>
<path d="M290.7,237.1V244.6M289.5,244.6h2.4" stroke="#222" stroke-width="0.6" fill="none"/>
<path d="M297.8,238.2V243.1" stroke="#999" stroke-width="0.6" fill="none"/>
<path d="M296.6,238.2h2.4" stroke="#666" stroke-width="0.6" fill="none"/>
<path d="M297.8,243.1V247.5M296.6,247.5h2.4" stroke="#222" stroke-width="0.6" fill="none"/>
<path d="M310.95,228.2V234.2" stroke="#999" stroke-width="0.6" fill="none"/>
<path d="M309.75,228.2h2.4" stroke="#666" stroke-width="0.6" fill="none"/>
<path d="M310.95,234.2V240.2M309.75,240.2h2.4" stroke="#222" stroke-width="0.6" fill="none"/>
<path d="M318.05,228.6V233" stroke="#999" stroke-width="0.6" fill="none"/>
<path d="M316.85,228.6h2.4" stroke="#666" stroke-width="0.6" fill="none"/>
<path d="M318.05,233V237.5M316.85,237.5h2.4" stroke="#222" stroke-width="0.6" fill="none"/>
<polyline points="233.5,320.43 253.75,318.58 274,310.57 294.25,289.68 314.5,225.25" fill="none" stroke="#e64545" stroke-opacity="0.7" stroke-width="0.65"/>
<polyline points="233.5,320.43 253.75,318.58 274,317.02 294.25,317.04 314.5,308.07" fill="none" stroke="#e64545" stroke-opacity="0.42" stroke-width="1.2"/>
<circle cx="233.5" cy="320.43" r="1.35" fill="#e44848"/>
<circle cx="233.5" cy="320.43" r="1.35" fill="#e44848"/>
<circle cx="253.75" cy="318.58" r="1.35" fill="#e44848"/>
<circle cx="253.75" cy="318.58" r="1.35" fill="#e44848"/>
<circle cx="274" cy="310.57" r="1.35" fill="#e44848"/>
<circle cx="274" cy="317.02" r="1.35" fill="#e44848"/>
<circle cx="294.25" cy="289.68" r="1.35" fill="#e44848"/>
<circle cx="294.25" cy="317.04" r="1.35" fill="#e44848"/>
<circle cx="314.5" cy="225.25" r="1.35" fill="#e44848"/>
<circle cx="314.5" cy="308.07" r="1.35" fill="#e44848"/>
<line x1="236.8" y1="215.4" x2="246.4" y2="215.4" stroke="#e84a4a" stroke-opacity="0.9" stroke-width="0.7"/>
<circle cx="241.6" cy="215.4" r="1.4" fill="#e44848"/>
<text x="247.8" y="217.02" font-size="4.5" fill="#222">Total</text>
<line x1="236.8" y1="221.6" x2="246.4" y2="221.6" stroke="#e84a4a" stroke-opacity="0.45" stroke-width="0.9"/>
<circle cx="241.6" cy="221.6" r="1.4" fill="#e44848"/>
<text x="247.8" y="223.22" font-size="4.5" fill="#222">Laparoscopic Cholecystectomy</text>
<circle cx="233.5" cy="332.2" r="6" fill="#fff" stroke="#f3c4c4" stroke-width="2.1"/>
<circle cx="233.5" cy="332.2" r="6" fill="none" stroke="#de5454" stroke-width="2.1"/>
<text x="233.5" y="332.2" font-size="8.4" fill="#111" text-anchor="middle" dominant-baseline="central">A</text>
<text x="233.5" y="344.5" font-size="5.2" fill="#333" text-anchor="middle">100%</text>
<circle cx="253.75" cy="332.2" r="6" fill="#fff" stroke="#f3c4c4" stroke-width="2.1"/>
<circle cx="253.75" cy="332.2" r="6" fill="none" stroke="#de5454" stroke-width="2.1"/>
<text x="253.75" y="332.2" font-size="8.4" fill="#111" text-anchor="middle" dominant-baseline="central">B</text>
<text x="253.75" y="344.5" font-size="5.2" fill="#333" text-anchor="middle">100%</text>
<circle cx="274" cy="332.2" r="6" fill="#fff" stroke="#f3c4c4" stroke-width="2.1"/>
<path d="M271,327A6.0,6.0 0 0 1 277.83,336.82" fill="none" stroke="#de5454" stroke-width="2.1"/>
<text x="274" y="332.2" font-size="8.4" fill="#111" text-anchor="middle" dominant-baseline="central">C</text>
<text x="274" y="344.5" font-size="5.2" fill="#333" text-anchor="middle">47.3%</text>
<circle cx="294.25" cy="332.2" r="6" fill="#fff" stroke="#f3c4c4" stroke-width="2.1"/>
<path d="M291.25,327A6.0,6.0 0 0 1 297.49,327.15" fill="none" stroke="#de5454" stroke-width="2.1"/>
<text x="294.25" y="332.2" font-size="8.4" fill="#111" text-anchor="middle" dominant-baseline="central">D</text>
<text x="294.25" y="344.5" font-size="5.2" fill="#333" text-anchor="middle">17.4%</text>
<circle cx="314.5" cy="332.2" r="6" fill="#fff" stroke="#f3c4c4" stroke-width="2.1"/>
<path d="M311.5,327A6.0,6.0 0 0 1 316.97,326.73" fill="none" stroke="#de5454" stroke-width="2.1"/>
<text x="314.5" y="332.2" font-size="8.4" fill="#111" text-anchor="middle" dominant-baseline="central">E</text>
<text x="314.5" y="344.5" font-size="5.2" fill="#333" text-anchor="middle">15.1%</text>
<text x="273.6" y="352.6" class="bi" font-size="8.9" text-anchor="middle" textLength="76.2" lengthAdjust="spacingAndGlyphs">M2CAI16-Workflow</text>
<rect x="235.5" y="353.6" width="76.2" height="1.1" fill="#333"/>
<text x="344.6" y="217.8" font-size="12.4" fill="#111" textLength="10.36" lengthAdjust="spacingAndGlyphs">d)</text>
<line x1="374.3" y1="213.1" x2="374.3" y2="322.8" stroke="#ef9a9a" stroke-width="0.7"/>
<line x1="372.3" y1="320.5" x2="374.3" y2="320.5" stroke="#e57373" stroke-width="0.6"/>
<line x1="373" y1="307.07" x2="374.3" y2="307.07" stroke="#e57373" stroke-width="0.6"/>
<line x1="372.3" y1="293.65" x2="374.3" y2="293.65" stroke="#e57373" stroke-width="0.6"/>
<line x1="373" y1="280.23" x2="374.3" y2="280.23" stroke="#e57373" stroke-width="0.6"/>
<line x1="372.3" y1="266.8" x2="374.3" y2="266.8" stroke="#e57373" stroke-width="0.6"/>
<line x1="373" y1="253.38" x2="374.3" y2="253.38" stroke="#e57373" stroke-width="0.6"/>
<line x1="372.3" y1="239.95" x2="374.3" y2="239.95" stroke="#e57373" stroke-width="0.6"/>
<line x1="373" y1="226.52" x2="374.3" y2="226.52" stroke="#e57373" stroke-width="0.6"/>
<line x1="372.3" y1="213.1" x2="374.3" y2="213.1" stroke="#e57373" stroke-width="0.6"/>
<text x="372.5" y="322.44" font-size="5.4" fill="#e86a6a" text-anchor="end">0</text>
<text x="372.5" y="295.59" font-size="5.4" fill="#e86a6a" text-anchor="end">1×10<tspan font-size="3.51" dy="-2.16">6</tspan></text>
<text x="372.5" y="268.74" font-size="5.4" fill="#e86a6a" text-anchor="end">2×10<tspan font-size="3.51" dy="-2.16">6</tspan></text>
<text x="372.5" y="241.89" font-size="5.4" fill="#e86a6a" text-anchor="end">3×10<tspan font-size="3.51" dy="-2.16">6</tspan></text>
<text x="372.5" y="215.04" font-size="5.4" fill="#e86a6a" text-anchor="end">4×10<tspan font-size="3.51" dy="-2.16">6</tspan></text>
<text transform="translate(354.1 267.95) rotate(-90)" font-size="6.5" fill="#e04a4a" text-anchor="middle" dominant-baseline="central">#Frames</text>
<line x1="394.7" y1="213.1" x2="394.7" y2="322.8" stroke="#7aaad0" stroke-width="0.7"/>
<line x1="394.7" y1="322.8" x2="396.7" y2="322.8" stroke="#5b95c5" stroke-width="0.6"/>
<text x="392.8" y="324.74" font-size="5.4" fill="#3f80b8" text-anchor="end">63</text>
<line x1="394.7" y1="315.94" x2="396" y2="315.94" stroke="#5b95c5" stroke-width="0.6"/>
<line x1="394.7" y1="309.09" x2="396.7" y2="309.09" stroke="#5b95c5" stroke-width="0.6"/>
<text x="392.8" y="311.03" font-size="5.4" fill="#3f80b8" text-anchor="end">66</text>
<line x1="394.7" y1="302.23" x2="396" y2="302.23" stroke="#5b95c5" stroke-width="0.6"/>
<line x1="394.7" y1="295.38" x2="396.7" y2="295.38" stroke="#5b95c5" stroke-width="0.6"/>
<text x="392.8" y="297.32" font-size="5.4" fill="#3f80b8" text-anchor="end">69</text>
<line x1="394.7" y1="288.52" x2="396" y2="288.52" stroke="#5b95c5" stroke-width="0.6"/>
<line x1="394.7" y1="281.66" x2="396.7" y2="281.66" stroke="#5b95c5" stroke-width="0.6"/>
<text x="392.8" y="283.61" font-size="5.4" fill="#3f80b8" text-anchor="end">72</text>
<line x1="394.7" y1="274.81" x2="396" y2="274.81" stroke="#5b95c5" stroke-width="0.6"/>
<line x1="394.7" y1="267.95" x2="396.7" y2="267.95" stroke="#5b95c5" stroke-width="0.6"/>
<text x="392.8" y="269.89" font-size="5.4" fill="#3f80b8" text-anchor="end">75</text>
<line x1="394.7" y1="261.09" x2="396" y2="261.09" stroke="#5b95c5" stroke-width="0.6"/>
<line x1="394.7" y1="254.24" x2="396.7" y2="254.24" stroke="#5b95c5" stroke-width="0.6"/>
<text x="392.8" y="256.18" font-size="5.4" fill="#3f80b8" text-anchor="end">78</text>
<line x1="394.7" y1="247.38" x2="396" y2="247.38" stroke="#5b95c5" stroke-width="0.6"/>
<line x1="394.7" y1="240.53" x2="396.7" y2="240.53" stroke="#5b95c5" stroke-width="0.6"/>
<text x="392.8" y="242.47" font-size="5.4" fill="#3f80b8" text-anchor="end">81</text>
<line x1="394.7" y1="233.67" x2="396" y2="233.67" stroke="#5b95c5" stroke-width="0.6"/>
<line x1="394.7" y1="226.81" x2="396.7" y2="226.81" stroke="#5b95c5" stroke-width="0.6"/>
<text x="392.8" y="228.76" font-size="5.4" fill="#3f80b8" text-anchor="end">84</text>
<line x1="394.7" y1="219.96" x2="396" y2="219.96" stroke="#5b95c5" stroke-width="0.6"/>
<line x1="394.7" y1="213.1" x2="396.7" y2="213.1" stroke="#5b95c5" stroke-width="0.6"/>
<text x="392.8" y="215.04" font-size="5.4" fill="#3f80b8" text-anchor="end">87</text>
<text transform="translate(382.7 267.95) rotate(-90)" font-size="6.5" fill="#2f76b3" text-anchor="middle" dominant-baseline="central">Phase-level Jaccard</text>
<line x1="495.5" y1="213.1" x2="495.5" y2="322.8" stroke="#7d77c2" stroke-width="0.8"/>
<line x1="495.5" y1="322.8" x2="497.5" y2="322.8" stroke="#6a62b0" stroke-width="0.6"/>
<text x="498" y="324.74" font-size="5.4" fill="#5a52a8">87</text>
<line x1="495.5" y1="314.96" x2="496.8" y2="314.96" stroke="#6a62b0" stroke-width="0.6"/>
<line x1="495.5" y1="307.13" x2="497.5" y2="307.13" stroke="#6a62b0" stroke-width="0.6"/>
<text x="498" y="309.07" font-size="5.4" fill="#5a52a8">88</text>
<line x1="495.5" y1="299.29" x2="496.8" y2="299.29" stroke="#6a62b0" stroke-width="0.6"/>
<line x1="495.5" y1="291.46" x2="497.5" y2="291.46" stroke="#6a62b0" stroke-width="0.6"/>
<text x="498" y="293.4" font-size="5.4" fill="#5a52a8">89</text>
<line x1="495.5" y1="283.62" x2="496.8" y2="283.62" stroke="#6a62b0" stroke-width="0.6"/>
<line x1="495.5" y1="275.79" x2="497.5" y2="275.79" stroke="#6a62b0" stroke-width="0.6"/>
<text x="498" y="277.73" font-size="5.4" fill="#5a52a8">90</text>
<line x1="495.5" y1="267.95" x2="496.8" y2="267.95" stroke="#6a62b0" stroke-width="0.6"/>
<line x1="495.5" y1="260.11" x2="497.5" y2="260.11" stroke="#6a62b0" stroke-width="0.6"/>
<text x="498" y="262.06" font-size="5.4" fill="#5a52a8">91</text>
<line x1="495.5" y1="252.28" x2="496.8" y2="252.28" stroke="#6a62b0" stroke-width="0.6"/>
<line x1="495.5" y1="244.44" x2="497.5" y2="244.44" stroke="#6a62b0" stroke-width="0.6"/>
<text x="498" y="246.39" font-size="5.4" fill="#5a52a8">92</text>
<line x1="495.5" y1="236.61" x2="496.8" y2="236.61" stroke="#6a62b0" stroke-width="0.6"/>
<line x1="495.5" y1="228.77" x2="497.5" y2="228.77" stroke="#6a62b0" stroke-width="0.6"/>
<text x="498" y="230.72" font-size="5.4" fill="#5a52a8">93</text>
<line x1="495.5" y1="220.94" x2="496.8" y2="220.94" stroke="#6a62b0" stroke-width="0.6"/>
<line x1="495.5" y1="213.1" x2="497.5" y2="213.1" stroke="#6a62b0" stroke-width="0.6"/>
<text x="498" y="215.04" font-size="5.4" fill="#5a52a8">94</text>
<text transform="translate(508.9 267.95) rotate(-90)" font-size="6.3" fill="#4a41a0" text-anchor="middle" dominant-baseline="central">Image-level Accuracy</text>
<line x1="394.7" y1="322.8" x2="495.5" y2="322.8" stroke="#999" stroke-width="0.6"/>
<line x1="415.02" y1="322.8" x2="415.02" y2="324" stroke="#666" stroke-width="0.5"/>
<line x1="435.27" y1="322.8" x2="435.27" y2="324" stroke="#666" stroke-width="0.5"/>
<line x1="455.52" y1="322.8" x2="455.52" y2="324" stroke="#666" stroke-width="0.5"/>
<line x1="475.77" y1="322.8" x2="475.77" y2="324" stroke="#666" stroke-width="0.5"/>
<rect x="397.8" y="307.4" width="7.1" height="15.4" fill="#d4e6f3" stroke="#3a3a3a" stroke-width="0.6"/>
<rect x="404.9" y="299.3" width="7.1" height="23.5" fill="#e5e3f2" stroke="#3a3a3a" stroke-width="0.6"/>
<rect x="418.05" y="284.2" width="7.1" height="38.6" fill="#a7cce5" stroke="#3a3a3a" stroke-width="0.6"/>
<rect x="425.15" y="277.1" width="7.1" height="45.7" fill="#bcb6dc" stroke="#3a3a3a" stroke-width="0.6"/>
<rect x="438.3" y="271.1" width="7.1" height="51.7" fill="#80b9dc" stroke="#3a3a3a" stroke-width="0.6"/>
<rect x="445.4" y="272.1" width="7.1" height="50.7" fill="#a59dd1" stroke="#3a3a3a" stroke-width="0.6"/>
<rect x="458.55" y="261.4" width="7.1" height="61.4" fill="#58a2cd" stroke="#3a3a3a" stroke-width="0.6"/>
<rect x="465.65" y="246" width="7.1" height="76.8" fill="#8d84c4" stroke="#3a3a3a" stroke-width="0.6"/>
<rect x="478.8" y="229.2" width="7.1" height="93.6" fill="#3587bf" stroke="#3a3a3a" stroke-width="0.6"/>
<rect x="485.9" y="224.9" width="7.1" height="97.9" fill="#5a4ca2" stroke="#3a3a3a" stroke-width="0.6"/>
<path d="M401.35,302.2V307.4" stroke="#999" stroke-width="0.6" fill="none"/>
<path d="M400.15,302.2h2.4" stroke="#666" stroke-width="0.6" fill="none"/>
<path d="M401.35,307.4V312.7M400.15,312.7h2.4" stroke="#222" stroke-width="0.6" fill="none"/>
<path d="M408.45,292.9V299.3" stroke="#999" stroke-width="0.6" fill="none"/>
<path d="M407.25,292.9h2.4" stroke="#666" stroke-width="0.6" fill="none"/>
<path d="M408.45,299.3V306.9M407.25,306.9h2.4" stroke="#222" stroke-width="0.6" fill="none"/>
<path d="M421.6,279V284.2" stroke="#999" stroke-width="0.6" fill="none"/>
<path d="M420.4,279h2.4" stroke="#666" stroke-width="0.6" fill="none"/>
<path d="M421.6,284.2V289.1M420.4,289.1h2.4" stroke="#222" stroke-width="0.6" fill="none"/>
<path d="M428.7,271.1V277.1" stroke="#999" stroke-width="0.6" fill="none"/>
<path d="M427.5,271.1h2.4" stroke="#666" stroke-width="0.6" fill="none"/>
<path d="M428.7,277.1V283.3M427.5,283.3h2.4" stroke="#222" stroke-width="0.6" fill="none"/>
<path d="M441.85,265.9V271.1" stroke="#999" stroke-width="0.6" fill="none"/>
<path d="M440.65,265.9h2.4" stroke="#666" stroke-width="0.6" fill="none"/>
<path d="M441.85,271.1V276.5M440.65,276.5h2.4" stroke="#222" stroke-width="0.6" fill="none"/>
<path d="M448.95,265.9V272.1" stroke="#999" stroke-width="0.6" fill="none"/>
<path d="M447.75,265.9h2.4" stroke="#666" stroke-width="0.6" fill="none"/>
<path d="M448.95,272.1V278.4M447.75,278.4h2.4" stroke="#222" stroke-width="0.6" fill="none"/>
<path d="M462.1,257.2V261.4" stroke="#999" stroke-width="0.6" fill="none"/>
<path d="M460.9,257.2h2.4" stroke="#666" stroke-width="0.6" fill="none"/>
<path d="M462.1,261.4V265.5M460.9,265.5h2.4" stroke="#222" stroke-width="0.6" fill="none"/>
<path d="M469.2,240.2V246" stroke="#999" stroke-width="0.6" fill="none"/>
<path d="M468,240.2h2.4" stroke="#666" stroke-width="0.6" fill="none"/>
<path d="M469.2,246V251.8M468,251.8h2.4" stroke="#222" stroke-width="0.6" fill="none"/>
<path d="M482.35,224.3V229.2" stroke="#999" stroke-width="0.6" fill="none"/>
<path d="M481.15,224.3h2.4" stroke="#666" stroke-width="0.6" fill="none"/>
<path d="M482.35,229.2V232.1M481.15,232.1h2.4" stroke="#222" stroke-width="0.6" fill="none"/>
<path d="M489.45,220.1V224.9" stroke="#999" stroke-width="0.6" fill="none"/>
<path d="M488.25,220.1h2.4" stroke="#666" stroke-width="0.6" fill="none"/>
<path d="M489.45,224.9V229.7M488.25,229.7h2.4" stroke="#222" stroke-width="0.6" fill="none"/>
<polyline points="404.9,318.18 425.15,316.37 445.4,308.53 465.65,288.08 485.9,224.99" fill="none" stroke="#e64545" stroke-opacity="0.7" stroke-width="0.65"/>
<polyline points="404.9,320.5 425.15,320.5 445.4,320.5 465.65,320.5 485.9,318.69" fill="none" stroke="#e64545" stroke-opacity="0.42" stroke-width="1.2"/>
<circle cx="404.9" cy="318.18" r="1.35" fill="#e44848"/>
<circle cx="404.9" cy="320.5" r="1.35" fill="#e44848"/>
<circle cx="425.15" cy="316.37" r="1.35" fill="#e44848"/>
<circle cx="425.15" cy="320.5" r="1.35" fill="#e44848"/>
<circle cx="445.4" cy="308.53" r="1.35" fill="#e44848"/>
<circle cx="445.4" cy="320.5" r="1.35" fill="#e44848"/>
<circle cx="465.65" cy="288.08" r="1.35" fill="#e44848"/>
<circle cx="465.65" cy="320.5" r="1.35" fill="#e44848"/>
<circle cx="485.9" cy="224.99" r="1.35" fill="#e44848"/>
<circle cx="485.9" cy="318.69" r="1.35" fill="#e44848"/>
<line x1="409.6" y1="215.4" x2="419.2" y2="215.4" stroke="#e84a4a" stroke-opacity="0.9" stroke-width="0.7"/>
<circle cx="414.4" cy="215.4" r="1.4" fill="#e44848"/>
<text x="420.6" y="217.02" font-size="4.5" fill="#222">Total</text>
<line x1="409.6" y1="221.6" x2="419.2" y2="221.6" stroke="#e84a4a" stroke-opacity="0.45" stroke-width="0.9"/>
<circle cx="414.4" cy="221.6" r="1.4" fill="#e44848"/>
<text x="420.6" y="223.22" font-size="4.5" fill="#222">Laparoscopic Liver Resection</text>
<circle cx="404.9" cy="332.2" r="6" fill="#fff" stroke="#f3c4c4" stroke-width="2.1"/>
<text x="404.9" y="332.2" font-size="8.4" fill="#111" text-anchor="middle" dominant-baseline="central">A</text>
<text x="404.9" y="344.5" font-size="5.2" fill="#333" text-anchor="middle">0%</text>
<circle cx="425.15" cy="332.2" r="6" fill="#fff" stroke="#f3c4c4" stroke-width="2.1"/>
<text x="425.15" y="332.2" font-size="8.4" fill="#111" text-anchor="middle" dominant-baseline="central">B</text>
<text x="425.15" y="344.5" font-size="5.2" fill="#333" text-anchor="middle">0%</text>
<circle cx="445.4" cy="332.2" r="6" fill="#fff" stroke="#f3c4c4" stroke-width="2.1"/>
<text x="445.4" y="332.2" font-size="8.4" fill="#111" text-anchor="middle" dominant-baseline="central">C</text>
<text x="445.4" y="344.5" font-size="5.2" fill="#333" text-anchor="middle">0%</text>
<circle cx="465.65" cy="332.2" r="6" fill="#fff" stroke="#f3c4c4" stroke-width="2.1"/>
<text x="465.65" y="332.2" font-size="8.4" fill="#111" text-anchor="middle" dominant-baseline="central">D</text>
<text x="465.65" y="344.5" font-size="5.2" fill="#333" text-anchor="middle">0%</text>
<circle cx="485.9" cy="332.2" r="6" fill="#fff" stroke="#f3c4c4" stroke-width="2.1"/>
<path d="M482.9,327A6.0,6.0 0 0 1 483.54,326.68" fill="none" stroke="#de5454" stroke-width="2.1"/>
<text x="485.9" y="332.2" font-size="8.4" fill="#111" text-anchor="middle" dominant-baseline="central">E</text>
<text x="485.9" y="344.5" font-size="5.2" fill="#333" text-anchor="middle">1.9%</text>
<text x="444.9" y="352.6" class="bi" font-size="8.9" text-anchor="middle" textLength="33.9" lengthAdjust="spacingAndGlyphs">PmLR50</text>
<rect x="427.95" y="353.6" width="33.9" height="1.1" fill="#333"/>
<text x="516.2" y="217.8" font-size="12.4" fill="#111" textLength="10.36" lengthAdjust="spacingAndGlyphs">e)</text>
<line x1="546.8" y1="213.1" x2="546.8" y2="322.8" stroke="#ef9a9a" stroke-width="0.7"/>
<line x1="544.8" y1="321.8" x2="546.8" y2="321.8" stroke="#e57373" stroke-width="0.6"/>
<line x1="545.5" y1="308.21" x2="546.8" y2="308.21" stroke="#e57373" stroke-width="0.6"/>
<line x1="544.8" y1="294.62" x2="546.8" y2="294.62" stroke="#e57373" stroke-width="0.6"/>
<line x1="545.5" y1="281.04" x2="546.8" y2="281.04" stroke="#e57373" stroke-width="0.6"/>
<line x1="544.8" y1="267.45" x2="546.8" y2="267.45" stroke="#e57373" stroke-width="0.6"/>
<line x1="545.5" y1="253.86" x2="546.8" y2="253.86" stroke="#e57373" stroke-width="0.6"/>
<line x1="544.8" y1="240.28" x2="546.8" y2="240.28" stroke="#e57373" stroke-width="0.6"/>
<line x1="545.5" y1="226.69" x2="546.8" y2="226.69" stroke="#e57373" stroke-width="0.6"/>
<line x1="544.8" y1="213.1" x2="546.8" y2="213.1" stroke="#e57373" stroke-width="0.6"/>
<text x="545" y="323.74" font-size="5.4" fill="#e86a6a" text-anchor="end">0</text>
<text x="545" y="296.57" font-size="5.4" fill="#e86a6a" text-anchor="end">1×10<tspan font-size="3.51" dy="-2.16">6</tspan></text>
<text x="545" y="269.39" font-size="5.4" fill="#e86a6a" text-anchor="end">2×10<tspan font-size="3.51" dy="-2.16">6</tspan></text>
<text x="545" y="242.22" font-size="5.4" fill="#e86a6a" text-anchor="end">3×10<tspan font-size="3.51" dy="-2.16">6</tspan></text>
<text x="545" y="215.04" font-size="5.4" fill="#e86a6a" text-anchor="end">4×10<tspan font-size="3.51" dy="-2.16">6</tspan></text>
<text transform="translate(526.6 267.95) rotate(-90)" font-size="6.5" fill="#e04a4a" text-anchor="middle" dominant-baseline="central">#Frames</text>
<line x1="567.2" y1="213.1" x2="567.2" y2="322.8" stroke="#7aaad0" stroke-width="0.7"/>
<line x1="567.2" y1="322.8" x2="569.2" y2="322.8" stroke="#5b95c5" stroke-width="0.6"/>
<text x="565.3" y="324.74" font-size="5.4" fill="#3f80b8" text-anchor="end">58</text>
<line x1="567.2" y1="311.83" x2="568.5" y2="311.83" stroke="#5b95c5" stroke-width="0.6"/>
<line x1="567.2" y1="300.86" x2="569.2" y2="300.86" stroke="#5b95c5" stroke-width="0.6"/>
<text x="565.3" y="302.8" font-size="5.4" fill="#3f80b8" text-anchor="end">60</text>
<line x1="567.2" y1="289.89" x2="568.5" y2="289.89" stroke="#5b95c5" stroke-width="0.6"/>
<line x1="567.2" y1="278.92" x2="569.2" y2="278.92" stroke="#5b95c5" stroke-width="0.6"/>
<text x="565.3" y="280.86" font-size="5.4" fill="#3f80b8" text-anchor="end">62</text>
<line x1="567.2" y1="267.95" x2="568.5" y2="267.95" stroke="#5b95c5" stroke-width="0.6"/>
<line x1="567.2" y1="256.98" x2="569.2" y2="256.98" stroke="#5b95c5" stroke-width="0.6"/>
<text x="565.3" y="258.92" font-size="5.4" fill="#3f80b8" text-anchor="end">64</text>
<line x1="567.2" y1="246.01" x2="568.5" y2="246.01" stroke="#5b95c5" stroke-width="0.6"/>
<line x1="567.2" y1="235.04" x2="569.2" y2="235.04" stroke="#5b95c5" stroke-width="0.6"/>
<text x="565.3" y="236.98" font-size="5.4" fill="#3f80b8" text-anchor="end">66</text>
<line x1="567.2" y1="224.07" x2="568.5" y2="224.07" stroke="#5b95c5" stroke-width="0.6"/>
<line x1="567.2" y1="213.1" x2="569.2" y2="213.1" stroke="#5b95c5" stroke-width="0.6"/>
<text x="565.3" y="215.04" font-size="5.4" fill="#3f80b8" text-anchor="end">68</text>
<text transform="translate(555.2 267.95) rotate(-90)" font-size="6.5" fill="#2f76b3" text-anchor="middle" dominant-baseline="central">Phase-level Jaccard</text>
<line x1="668" y1="213.1" x2="668" y2="322.8" stroke="#7d77c2" stroke-width="0.8"/>
<line x1="668" y1="322.8" x2="670" y2="322.8" stroke="#6a62b0" stroke-width="0.6"/>
<text x="670.5" y="324.74" font-size="5.4" fill="#5a52a8">81</text>
<line x1="668" y1="314.96" x2="669.3" y2="314.96" stroke="#6a62b0" stroke-width="0.6"/>
<line x1="668" y1="307.13" x2="670" y2="307.13" stroke="#6a62b0" stroke-width="0.6"/>
<text x="670.5" y="309.07" font-size="5.4" fill="#5a52a8">82</text>
<line x1="668" y1="299.29" x2="669.3" y2="299.29" stroke="#6a62b0" stroke-width="0.6"/>
<line x1="668" y1="291.46" x2="670" y2="291.46" stroke="#6a62b0" stroke-width="0.6"/>
<text x="670.5" y="293.4" font-size="5.4" fill="#5a52a8">83</text>
<line x1="668" y1="283.62" x2="669.3" y2="283.62" stroke="#6a62b0" stroke-width="0.6"/>
<line x1="668" y1="275.79" x2="670" y2="275.79" stroke="#6a62b0" stroke-width="0.6"/>
<text x="670.5" y="277.73" font-size="5.4" fill="#5a52a8">84</text>
<line x1="668" y1="267.95" x2="669.3" y2="267.95" stroke="#6a62b0" stroke-width="0.6"/>
<line x1="668" y1="260.11" x2="670" y2="260.11" stroke="#6a62b0" stroke-width="0.6"/>
<text x="670.5" y="262.06" font-size="5.4" fill="#5a52a8">85</text>
<line x1="668" y1="252.28" x2="669.3" y2="252.28" stroke="#6a62b0" stroke-width="0.6"/>
<line x1="668" y1="244.44" x2="670" y2="244.44" stroke="#6a62b0" stroke-width="0.6"/>
<text x="670.5" y="246.39" font-size="5.4" fill="#5a52a8">86</text>
<line x1="668" y1="236.61" x2="669.3" y2="236.61" stroke="#6a62b0" stroke-width="0.6"/>
<line x1="668" y1="228.77" x2="670" y2="228.77" stroke="#6a62b0" stroke-width="0.6"/>
<text x="670.5" y="230.72" font-size="5.4" fill="#5a52a8">87</text>
<line x1="668" y1="220.94" x2="669.3" y2="220.94" stroke="#6a62b0" stroke-width="0.6"/>
<line x1="668" y1="213.1" x2="670" y2="213.1" stroke="#6a62b0" stroke-width="0.6"/>
<text x="670.5" y="215.04" font-size="5.4" fill="#5a52a8">88</text>
<text transform="translate(681.4 267.95) rotate(-90)" font-size="6.3" fill="#4a41a0" text-anchor="middle" dominant-baseline="central">Image-level Accuracy</text>
<line x1="567.2" y1="322.8" x2="668" y2="322.8" stroke="#999" stroke-width="0.6"/>
<line x1="587.52" y1="322.8" x2="587.52" y2="324" stroke="#666" stroke-width="0.5"/>
<line x1="607.77" y1="322.8" x2="607.77" y2="324" stroke="#666" stroke-width="0.5"/>
<line x1="628.02" y1="322.8" x2="628.02" y2="324" stroke="#666" stroke-width="0.5"/>
<line x1="648.27" y1="322.8" x2="648.27" y2="324" stroke="#666" stroke-width="0.5"/>
<rect x="570.3" y="304.5" width="7.1" height="18.3" fill="#d4e6f3" stroke="#3a3a3a" stroke-width="0.6"/>
<rect x="577.4" y="312.3" width="7.1" height="10.5" fill="#e5e3f2" stroke="#3a3a3a" stroke-width="0.6"/>
<rect x="590.55" y="311.3" width="7.1" height="11.5" fill="#a7cce5" stroke="#3a3a3a" stroke-width="0.6"/>
<rect x="597.65" y="318.5" width="7.1" height="4.3" fill="#bcb6dc" stroke="#3a3a3a" stroke-width="0.6"/>
<rect x="610.8" y="261.4" width="7.1" height="61.4" fill="#80b9dc" stroke="#3a3a3a" stroke-width="0.6"/>
<rect x="617.9" y="291.4" width="7.1" height="31.4" fill="#a59dd1" stroke="#3a3a3a" stroke-width="0.6"/>
<rect x="631.05" y="237.3" width="7.1" height="85.5" fill="#58a2cd" stroke="#3a3a3a" stroke-width="0.6"/>
<rect x="638.15" y="255.3" width="7.1" height="67.5" fill="#8d84c4" stroke="#3a3a3a" stroke-width="0.6"/>
<rect x="651.3" y="226.5" width="7.1" height="96.3" fill="#3587bf" stroke="#3a3a3a" stroke-width="0.6"/>
<rect x="658.4" y="222" width="7.1" height="100.8" fill="#5a4ca2" stroke="#3a3a3a" stroke-width="0.6"/>
<path d="M573.85,300.3V304.5" stroke="#999" stroke-width="0.6" fill="none"/>
<path d="M572.65,300.3h2.4" stroke="#666" stroke-width="0.6" fill="none"/>
<path d="M573.85,304.5V308.4M572.65,308.4h2.4" stroke="#222" stroke-width="0.6" fill="none"/>
<path d="M580.95,308.4V312.3" stroke="#999" stroke-width="0.6" fill="none"/>
<path d="M579.75,308.4h2.4" stroke="#666" stroke-width="0.6" fill="none"/>
<path d="M580.95,312.3V316.1M579.75,316.1h2.4" stroke="#222" stroke-width="0.6" fill="none"/>
<path d="M594.1,307.4V311.3" stroke="#999" stroke-width="0.6" fill="none"/>
<path d="M592.9,307.4h2.4" stroke="#666" stroke-width="0.6" fill="none"/>
<path d="M594.1,311.3V317.1M592.9,317.1h2.4" stroke="#222" stroke-width="0.6" fill="none"/>
<path d="M601.2,315.6V318.5" stroke="#999" stroke-width="0.6" fill="none"/>
<path d="M600,315.6h2.4" stroke="#666" stroke-width="0.6" fill="none"/>
<path d="M601.2,318.5V321M600,321h2.4" stroke="#222" stroke-width="0.6" fill="none"/>
<path d="M614.35,254.7V261.4" stroke="#999" stroke-width="0.6" fill="none"/>
<path d="M613.15,254.7h2.4" stroke="#666" stroke-width="0.6" fill="none"/>
<path d="M614.35,261.4V268.4M613.15,268.4h2.4" stroke="#222" stroke-width="0.6" fill="none"/>
<path d="M621.45,288.5V291.4" stroke="#999" stroke-width="0.6" fill="none"/>
<path d="M620.25,288.5h2.4" stroke="#666" stroke-width="0.6" fill="none"/>
<path d="M621.45,291.4V294.3M620.25,294.3h2.4" stroke="#222" stroke-width="0.6" fill="none"/>
<path d="M634.6,230.7V237.3" stroke="#999" stroke-width="0.6" fill="none"/>
<path d="M633.4,230.7h2.4" stroke="#666" stroke-width="0.6" fill="none"/>
<path d="M634.6,237.3V243.3M633.4,243.3h2.4" stroke="#222" stroke-width="0.6" fill="none"/>
<path d="M641.7,251.4V255.3" stroke="#999" stroke-width="0.6" fill="none"/>
<path d="M640.5,251.4h2.4" stroke="#666" stroke-width="0.6" fill="none"/>
<path d="M641.7,255.3V258.2M640.5,258.2h2.4" stroke="#222" stroke-width="0.6" fill="none"/>
<path d="M654.85,221.8V226.5" stroke="#999" stroke-width="0.6" fill="none"/>
<path d="M653.65,221.8h2.4" stroke="#666" stroke-width="0.6" fill="none"/>
<path d="M654.85,226.5V231.1M653.65,231.1h2.4" stroke="#222" stroke-width="0.6" fill="none"/>
<path d="M661.95,218.5V222" stroke="#999" stroke-width="0.6" fill="none"/>
<path d="M660.75,218.5h2.4" stroke="#666" stroke-width="0.6" fill="none"/>
<path d="M661.95,222V224.3M660.75,224.3h2.4" stroke="#222" stroke-width="0.6" fill="none"/>
<polyline points="577.4,319.45 597.65,317.62 617.9,309.68 638.15,288.99 658.4,225.14" fill="none" stroke="#e64545" stroke-opacity="0.7" stroke-width="0.65"/>
<polyline points="577.4,321.8 597.65,321.8 617.9,320.7 638.15,320.72 658.4,320.74" fill="none" stroke="#e64545" stroke-opacity="0.42" stroke-width="1.2"/>
<circle cx="577.4" cy="319.45" r="1.35" fill="#e44848"/>
<circle cx="577.4" cy="321.8" r="1.35" fill="#e44848"/>
<circle cx="597.65" cy="317.62" r="1.35" fill="#e44848"/>
<circle cx="597.65" cy="321.8" r="1.35" fill="#e44848"/>
<circle cx="617.9" cy="309.68" r="1.35" fill="#e44848"/>
<circle cx="617.9" cy="320.7" r="1.35" fill="#e44848"/>
<circle cx="638.15" cy="288.99" r="1.35" fill="#e44848"/>
<circle cx="638.15" cy="320.72" r="1.35" fill="#e44848"/>
<circle cx="658.4" cy="225.14" r="1.35" fill="#e44848"/>
<circle cx="658.4" cy="320.74" r="1.35" fill="#e44848"/>
<line x1="582.4" y1="215.4" x2="592" y2="215.4" stroke="#e84a4a" stroke-opacity="0.9" stroke-width="0.7"/>
<circle cx="587.2" cy="215.4" r="1.4" fill="#e44848"/>
<text x="593.4" y="217.02" font-size="4.5" fill="#222">Total</text>
<line x1="582.4" y1="221.6" x2="592" y2="221.6" stroke="#e84a4a" stroke-opacity="0.45" stroke-width="0.9"/>
<circle cx="587.2" cy="221.6" r="1.4" fill="#e44848"/>
<text x="593.4" y="223.22" font-size="4.5" fill="#222">Laparoscopic Hysterectomy</text>
<circle cx="577.4" cy="332.2" r="6" fill="#fff" stroke="#f3c4c4" stroke-width="2.1"/>
<text x="577.4" y="332.2" font-size="8.4" fill="#111" text-anchor="middle" dominant-baseline="central">A</text>
<text x="577.4" y="344.5" font-size="5.2" fill="#333" text-anchor="middle">0%</text>
<circle cx="597.65" cy="332.2" r="6" fill="#fff" stroke="#f3c4c4" stroke-width="2.1"/>
<text x="597.65" y="332.2" font-size="8.4" fill="#111" text-anchor="middle" dominant-baseline="central">B</text>
<text x="597.65" y="344.5" font-size="5.2" fill="#333" text-anchor="middle">0%</text>
<circle cx="617.9" cy="332.2" r="6" fill="#fff" stroke="#f3c4c4" stroke-width="2.1"/>
<path d="M614.9,327A6.0,6.0 0 0 1 618.19,326.21" fill="none" stroke="#de5454" stroke-width="2.1"/>
<text x="617.9" y="332.2" font-size="8.4" fill="#111" text-anchor="middle" dominant-baseline="central">C</text>
<text x="617.9" y="344.5" font-size="5.2" fill="#333" text-anchor="middle">9.1%</text>
<circle cx="638.15" cy="332.2" r="6" fill="#fff" stroke="#f3c4c4" stroke-width="2.1"/>
<path d="M635.15,327A6.0,6.0 0 0 1 636.28,326.5" fill="none" stroke="#de5454" stroke-width="2.1"/>
<text x="638.15" y="332.2" font-size="8.4" fill="#111" text-anchor="middle" dominant-baseline="central">D</text>
<text x="638.15" y="344.5" font-size="5.2" fill="#333" text-anchor="middle">3.3%</text>
<circle cx="658.4" cy="332.2" r="6" fill="#fff" stroke="#f3c4c4" stroke-width="2.1"/>
<path d="M655.4,327A6.0,6.0 0 0 1 655.77,326.81" fill="none" stroke="#de5454" stroke-width="2.1"/>
<text x="658.4" y="332.2" font-size="8.4" fill="#111" text-anchor="middle" dominant-baseline="central">E</text>
<text x="658.4" y="344.5" font-size="5.2" fill="#333" text-anchor="middle">1.1%</text>
<text x="616.9" y="352.6" class="bi" font-size="8.9" text-anchor="middle" textLength="47.3" lengthAdjust="spacingAndGlyphs">AutoLaparo</text>
<rect x="593.25" y="353.6" width="47.3" height="1.1" fill="#333"/>
<text x="0" y="377.8" font-size="12.4" fill="#111" textLength="7.12" lengthAdjust="spacingAndGlyphs">f)</text>
<line x1="31.8" y1="371.8" x2="31.8" y2="481.9" stroke="#ef9a9a" stroke-width="0.7"/>
<line x1="29.8" y1="479.9" x2="31.8" y2="479.9" stroke="#e57373" stroke-width="0.6"/>
<line x1="30.5" y1="466.39" x2="31.8" y2="466.39" stroke="#e57373" stroke-width="0.6"/>
<line x1="29.8" y1="452.88" x2="31.8" y2="452.88" stroke="#e57373" stroke-width="0.6"/>
<line x1="30.5" y1="439.36" x2="31.8" y2="439.36" stroke="#e57373" stroke-width="0.6"/>
<line x1="29.8" y1="425.85" x2="31.8" y2="425.85" stroke="#e57373" stroke-width="0.6"/>
<line x1="30.5" y1="412.34" x2="31.8" y2="412.34" stroke="#e57373" stroke-width="0.6"/>
<line x1="29.8" y1="398.82" x2="31.8" y2="398.82" stroke="#e57373" stroke-width="0.6"/>
<line x1="30.5" y1="385.31" x2="31.8" y2="385.31" stroke="#e57373" stroke-width="0.6"/>
<line x1="29.8" y1="371.8" x2="31.8" y2="371.8" stroke="#e57373" stroke-width="0.6"/>
<text x="30" y="481.84" font-size="5.4" fill="#e86a6a" text-anchor="end">0</text>
<text x="30" y="454.82" font-size="5.4" fill="#e86a6a" text-anchor="end">1×10<tspan font-size="3.51" dy="-2.16">6</tspan></text>
<text x="30" y="427.79" font-size="5.4" fill="#e86a6a" text-anchor="end">2×10<tspan font-size="3.51" dy="-2.16">6</tspan></text>
<text x="30" y="400.77" font-size="5.4" fill="#e86a6a" text-anchor="end">3×10<tspan font-size="3.51" dy="-2.16">6</tspan></text>
<text x="30" y="373.74" font-size="5.4" fill="#e86a6a" text-anchor="end">4×10<tspan font-size="3.51" dy="-2.16">6</tspan></text>
<text transform="translate(11.6 426.85) rotate(-90)" font-size="6.5" fill="#e04a4a" text-anchor="middle" dominant-baseline="central">#Frames</text>
<line x1="52.2" y1="371.8" x2="52.2" y2="481.9" stroke="#7aaad0" stroke-width="0.7"/>
<line x1="52.2" y1="481.9" x2="54.2" y2="481.9" stroke="#5b95c5" stroke-width="0.6"/>
<text x="50.3" y="483.84" font-size="5.4" fill="#3f80b8" text-anchor="end">50</text>
<line x1="52.2" y1="476.39" x2="53.5" y2="476.39" stroke="#5b95c5" stroke-width="0.6"/>
<line x1="52.2" y1="470.89" x2="54.2" y2="470.89" stroke="#5b95c5" stroke-width="0.6"/>
<text x="50.3" y="472.83" font-size="5.4" fill="#3f80b8" text-anchor="end">51</text>
<line x1="52.2" y1="465.38" x2="53.5" y2="465.38" stroke="#5b95c5" stroke-width="0.6"/>
<line x1="52.2" y1="459.88" x2="54.2" y2="459.88" stroke="#5b95c5" stroke-width="0.6"/>
<text x="50.3" y="461.82" font-size="5.4" fill="#3f80b8" text-anchor="end">52</text>
<line x1="52.2" y1="454.38" x2="53.5" y2="454.38" stroke="#5b95c5" stroke-width="0.6"/>
<line x1="52.2" y1="448.87" x2="54.2" y2="448.87" stroke="#5b95c5" stroke-width="0.6"/>
<text x="50.3" y="450.81" font-size="5.4" fill="#3f80b8" text-anchor="end">53</text>
<line x1="52.2" y1="443.37" x2="53.5" y2="443.37" stroke="#5b95c5" stroke-width="0.6"/>
<line x1="52.2" y1="437.86" x2="54.2" y2="437.86" stroke="#5b95c5" stroke-width="0.6"/>
<text x="50.3" y="439.8" font-size="5.4" fill="#3f80b8" text-anchor="end">54</text>
<line x1="52.2" y1="432.36" x2="53.5" y2="432.36" stroke="#5b95c5" stroke-width="0.6"/>
<line x1="52.2" y1="426.85" x2="54.2" y2="426.85" stroke="#5b95c5" stroke-width="0.6"/>
<text x="50.3" y="428.79" font-size="5.4" fill="#3f80b8" text-anchor="end">55</text>
<line x1="52.2" y1="421.35" x2="53.5" y2="421.35" stroke="#5b95c5" stroke-width="0.6"/>
<line x1="52.2" y1="415.84" x2="54.2" y2="415.84" stroke="#5b95c5" stroke-width="0.6"/>
<text x="50.3" y="417.78" font-size="5.4" fill="#3f80b8" text-anchor="end">56</text>
<line x1="52.2" y1="410.34" x2="53.5" y2="410.34" stroke="#5b95c5" stroke-width="0.6"/>
<line x1="52.2" y1="404.83" x2="54.2" y2="404.83" stroke="#5b95c5" stroke-width="0.6"/>
<text x="50.3" y="406.77" font-size="5.4" fill="#3f80b8" text-anchor="end">57</text>
<line x1="52.2" y1="399.32" x2="53.5" y2="399.32" stroke="#5b95c5" stroke-width="0.6"/>
<line x1="52.2" y1="393.82" x2="54.2" y2="393.82" stroke="#5b95c5" stroke-width="0.6"/>
<text x="50.3" y="395.76" font-size="5.4" fill="#3f80b8" text-anchor="end">58</text>
<line x1="52.2" y1="388.31" x2="53.5" y2="388.31" stroke="#5b95c5" stroke-width="0.6"/>
<line x1="52.2" y1="382.81" x2="54.2" y2="382.81" stroke="#5b95c5" stroke-width="0.6"/>
<text x="50.3" y="384.75" font-size="5.4" fill="#3f80b8" text-anchor="end">59</text>
<line x1="52.2" y1="377.31" x2="53.5" y2="377.31" stroke="#5b95c5" stroke-width="0.6"/>
<line x1="52.2" y1="371.8" x2="54.2" y2="371.8" stroke="#5b95c5" stroke-width="0.6"/>
<text x="50.3" y="373.74" font-size="5.4" fill="#3f80b8" text-anchor="end">60</text>
<text transform="translate(40.2 426.85) rotate(-90)" font-size="6.5" fill="#2f76b3" text-anchor="middle" dominant-baseline="central">Phase-level Jaccard</text>
<line x1="153" y1="371.8" x2="153" y2="481.9" stroke="#7d77c2" stroke-width="0.8"/>
<line x1="153" y1="481.9" x2="155" y2="481.9" stroke="#6a62b0" stroke-width="0.6"/>
<text x="155.5" y="483.84" font-size="5.4" fill="#5a52a8">67</text>
<line x1="153" y1="470.89" x2="154.3" y2="470.89" stroke="#6a62b0" stroke-width="0.6"/>
<line x1="153" y1="459.88" x2="155" y2="459.88" stroke="#6a62b0" stroke-width="0.6"/>
<text x="155.5" y="461.82" font-size="5.4" fill="#5a52a8">68</text>
<line x1="153" y1="448.87" x2="154.3" y2="448.87" stroke="#6a62b0" stroke-width="0.6"/>
<line x1="153" y1="437.86" x2="155" y2="437.86" stroke="#6a62b0" stroke-width="0.6"/>
<text x="155.5" y="439.8" font-size="5.4" fill="#5a52a8">69</text>
<line x1="153" y1="426.85" x2="154.3" y2="426.85" stroke="#6a62b0" stroke-width="0.6"/>
<line x1="153" y1="415.84" x2="155" y2="415.84" stroke="#6a62b0" stroke-width="0.6"/>
<text x="155.5" y="417.78" font-size="5.4" fill="#5a52a8">70</text>
<line x1="153" y1="404.83" x2="154.3" y2="404.83" stroke="#6a62b0" stroke-width="0.6"/>
<line x1="153" y1="393.82" x2="155" y2="393.82" stroke="#6a62b0" stroke-width="0.6"/>
<text x="155.5" y="395.76" font-size="5.4" fill="#5a52a8">71</text>
<line x1="153" y1="382.81" x2="154.3" y2="382.81" stroke="#6a62b0" stroke-width="0.6"/>
<line x1="153" y1="371.8" x2="155" y2="371.8" stroke="#6a62b0" stroke-width="0.6"/>
<text x="155.5" y="373.74" font-size="5.4" fill="#5a52a8">72</text>
<text transform="translate(166.4 426.85) rotate(-90)" font-size="6.3" fill="#4a41a0" text-anchor="middle" dominant-baseline="central">Image-level Accuracy</text>
<line x1="52.2" y1="481.9" x2="153" y2="481.9" stroke="#999" stroke-width="0.6"/>
<line x1="72.53" y1="481.9" x2="72.53" y2="483.1" stroke="#666" stroke-width="0.5"/>
<line x1="92.78" y1="481.9" x2="92.78" y2="483.1" stroke="#666" stroke-width="0.5"/>
<line x1="113.03" y1="481.9" x2="113.03" y2="483.1" stroke="#666" stroke-width="0.5"/>
<line x1="133.28" y1="481.9" x2="133.28" y2="483.1" stroke="#666" stroke-width="0.5"/>
<rect x="55.3" y="441.3" width="7.1" height="40.6" fill="#d4e6f3" stroke="#3a3a3a" stroke-width="0.6"/>
<rect x="62.4" y="475.2" width="7.1" height="6.7" fill="#e5e3f2" stroke="#3a3a3a" stroke-width="0.6"/>
<rect x="75.55" y="475.6" width="7.1" height="6.3" fill="#a7cce5" stroke="#3a3a3a" stroke-width="0.6"/>
<rect x="82.65" y="459.7" width="7.1" height="22.2" fill="#bcb6dc" stroke="#3a3a3a" stroke-width="0.6"/>
<rect x="95.8" y="452.4" width="7.1" height="29.5" fill="#80b9dc" stroke="#3a3a3a" stroke-width="0.6"/>
<rect x="102.9" y="426.8" width="7.1" height="55.1" fill="#a59dd1" stroke="#3a3a3a" stroke-width="0.6"/>
<rect x="116.05" y="433.6" width="7.1" height="48.3" fill="#58a2cd" stroke="#3a3a3a" stroke-width="0.6"/>
<rect x="123.15" y="418.2" width="7.1" height="63.7" fill="#8d84c4" stroke="#3a3a3a" stroke-width="0.6"/>
<rect x="136.3" y="412.4" width="7.1" height="69.5" fill="#3587bf" stroke="#3a3a3a" stroke-width="0.6"/>
<rect x="143.4" y="380.5" width="7.1" height="101.4" fill="#5a4ca2" stroke="#3a3a3a" stroke-width="0.6"/>
<path d="M58.85,435.2V441.3" stroke="#999" stroke-width="0.6" fill="none"/>
<path d="M57.65,435.2h2.4" stroke="#666" stroke-width="0.6" fill="none"/>
<path d="M58.85,441.3V447.1M57.65,447.1h2.4" stroke="#222" stroke-width="0.6" fill="none"/>
<path d="M65.95,470.3V475.2" stroke="#999" stroke-width="0.6" fill="none"/>
<path d="M64.75,470.3h2.4" stroke="#666" stroke-width="0.6" fill="none"/>
<path d="M65.95,475.2V481M64.75,481h2.4" stroke="#222" stroke-width="0.6" fill="none"/>
<path d="M79.1,469.4V475.6" stroke="#999" stroke-width="0.6" fill="none"/>
<path d="M77.9,469.4h2.4" stroke="#666" stroke-width="0.6" fill="none"/>
<path d="M79.1,475.6V481M77.9,481h2.4" stroke="#222" stroke-width="0.6" fill="none"/>
<path d="M86.2,455.3V459.7" stroke="#999" stroke-width="0.6" fill="none"/>
<path d="M85,455.3h2.4" stroke="#666" stroke-width="0.6" fill="none"/>
<path d="M86.2,459.7V464.5M85,464.5h2.4" stroke="#222" stroke-width="0.6" fill="none"/>
<path d="M99.35,447.1V452.4" stroke="#999" stroke-width="0.6" fill="none"/>
<path d="M98.15,447.1h2.4" stroke="#666" stroke-width="0.6" fill="none"/>
<path d="M99.35,452.4V456.8M98.15,456.8h2.4" stroke="#222" stroke-width="0.6" fill="none"/>
<path d="M106.45,422.4V426.8" stroke="#999" stroke-width="0.6" fill="none"/>
<path d="M105.25,422.4h2.4" stroke="#666" stroke-width="0.6" fill="none"/>
<path d="M106.45,426.8V431.1M105.25,431.1h2.4" stroke="#222" stroke-width="0.6" fill="none"/>
<path d="M119.6,428.8V433.6" stroke="#999" stroke-width="0.6" fill="none"/>
<path d="M118.4,428.8h2.4" stroke="#666" stroke-width="0.6" fill="none"/>
<path d="M119.6,433.6V438.1M118.4,438.1h2.4" stroke="#222" stroke-width="0.6" fill="none"/>
<path d="M126.7,413.3V418.2" stroke="#999" stroke-width="0.6" fill="none"/>
<path d="M125.5,413.3h2.4" stroke="#666" stroke-width="0.6" fill="none"/>
<path d="M126.7,418.2V422.6M125.5,422.6h2.4" stroke="#222" stroke-width="0.6" fill="none"/>
<path d="M139.85,408.5V412.4" stroke="#999" stroke-width="0.6" fill="none"/>
<path d="M138.65,408.5h2.4" stroke="#666" stroke-width="0.6" fill="none"/>
<path d="M139.85,412.4V416.8M138.65,416.8h2.4" stroke="#222" stroke-width="0.6" fill="none"/>
<path d="M146.95,376.6V380.5" stroke="#999" stroke-width="0.6" fill="none"/>
<path d="M145.75,376.6h2.4" stroke="#666" stroke-width="0.6" fill="none"/>
<path d="M146.95,380.5V384.3M145.75,384.3h2.4" stroke="#222" stroke-width="0.6" fill="none"/>
<polyline points="62.4,477.57 82.65,475.74 102.9,467.85 123.15,447.27 143.4,383.77" fill="none" stroke="#e64545" stroke-opacity="0.7" stroke-width="0.65"/>
<polyline points="62.4,479.9 82.65,479.9 102.9,479.9 123.15,479.9 143.4,479.9" fill="none" stroke="#e64545" stroke-opacity="0.42" stroke-width="1.2"/>
<circle cx="62.4" cy="477.57" r="1.35" fill="#e44848"/>
<circle cx="62.4" cy="479.9" r="1.35" fill="#e44848"/>
<circle cx="82.65" cy="475.74" r="1.35" fill="#e44848"/>
<circle cx="82.65" cy="479.9" r="1.35" fill="#e44848"/>
<circle cx="102.9" cy="467.85" r="1.35" fill="#e44848"/>
<circle cx="102.9" cy="479.9" r="1.35" fill="#e44848"/>
<circle cx="123.15" cy="447.27" r="1.35" fill="#e44848"/>
<circle cx="123.15" cy="479.9" r="1.35" fill="#e44848"/>
<circle cx="143.4" cy="383.77" r="1.35" fill="#e44848"/>
<circle cx="143.4" cy="479.9" r="1.35" fill="#e44848"/>
<line x1="63.8" y1="374.1" x2="73.4" y2="374.1" stroke="#e84a4a" stroke-opacity="0.9" stroke-width="0.7"/>
<circle cx="68.6" cy="374.1" r="1.4" fill="#e44848"/>
<text x="74.8" y="375.72" font-size="4.5" fill="#222">Total</text>
<line x1="63.8" y1="380.3" x2="73.4" y2="380.3" stroke="#e84a4a" stroke-opacity="0.45" stroke-width="0.9"/>
<circle cx="68.6" cy="380.3" r="1.4" fill="#e44848"/>
<text x="74.8" y="381.92" font-size="4.5" fill="#222">Laparoscopic Cholecystectomy</text>
<circle cx="62.4" cy="492" r="6" fill="#fff" stroke="#f3c4c4" stroke-width="2.1"/>
<text x="62.4" y="492" font-size="8.4" fill="#111" text-anchor="middle" dominant-baseline="central">A</text>
<text x="62.4" y="504.2" font-size="5.2" fill="#333" text-anchor="middle">0%</text>
<circle cx="82.65" cy="492" r="6" fill="#fff" stroke="#f3c4c4" stroke-width="2.1"/>
<text x="82.65" y="492" font-size="8.4" fill="#111" text-anchor="middle" dominant-baseline="central">B</text>
<text x="82.65" y="504.2" font-size="5.2" fill="#333" text-anchor="middle">0%</text>
<circle cx="102.9" cy="492" r="6" fill="#fff" stroke="#f3c4c4" stroke-width="2.1"/>
<text x="102.9" y="492" font-size="8.4" fill="#111" text-anchor="middle" dominant-baseline="central">C</text>
<text x="102.9" y="504.2" font-size="5.2" fill="#333" text-anchor="middle">0%</text>
<circle cx="123.15" cy="492" r="6" fill="#fff" stroke="#f3c4c4" stroke-width="2.1"/>
<text x="123.15" y="492" font-size="8.4" fill="#111" text-anchor="middle" dominant-baseline="central">D</text>
<text x="123.15" y="504.2" font-size="5.2" fill="#333" text-anchor="middle">0%</text>
<circle cx="143.4" cy="492" r="6" fill="#fff" stroke="#f3c4c4" stroke-width="2.1"/>
<text x="143.4" y="492" font-size="8.4" fill="#111" text-anchor="middle" dominant-baseline="central">E</text>
<text x="143.4" y="504.2" font-size="5.2" fill="#333" text-anchor="middle">0%</text>
<text x="102.2" y="512.7" class="bi" font-size="8.9" text-anchor="middle" textLength="27.6" lengthAdjust="spacingAndGlyphs">ESD57</text>
<rect x="88.4" y="513.7" width="27.6" height="1.1" fill="#333"/>
<text x="172.4" y="377.8" font-size="12.4" fill="#111" textLength="10.36" lengthAdjust="spacingAndGlyphs">g)</text>
<line x1="203.1" y1="371.8" x2="203.1" y2="481.9" stroke="#ef9a9a" stroke-width="0.7"/>
<line x1="201.1" y1="479.9" x2="203.1" y2="479.9" stroke="#e57373" stroke-width="0.6"/>
<line x1="201.8" y1="466.39" x2="203.1" y2="466.39" stroke="#e57373" stroke-width="0.6"/>
<line x1="201.1" y1="452.88" x2="203.1" y2="452.88" stroke="#e57373" stroke-width="0.6"/>
<line x1="201.8" y1="439.36" x2="203.1" y2="439.36" stroke="#e57373" stroke-width="0.6"/>
<line x1="201.1" y1="425.85" x2="203.1" y2="425.85" stroke="#e57373" stroke-width="0.6"/>
<line x1="201.8" y1="412.34" x2="203.1" y2="412.34" stroke="#e57373" stroke-width="0.6"/>
<line x1="201.1" y1="398.82" x2="203.1" y2="398.82" stroke="#e57373" stroke-width="0.6"/>
<line x1="201.8" y1="385.31" x2="203.1" y2="385.31" stroke="#e57373" stroke-width="0.6"/>
<line x1="201.1" y1="371.8" x2="203.1" y2="371.8" stroke="#e57373" stroke-width="0.6"/>
<text x="201.3" y="481.84" font-size="5.4" fill="#e86a6a" text-anchor="end">0</text>
<text x="201.3" y="454.82" font-size="5.4" fill="#e86a6a" text-anchor="end">1×10<tspan font-size="3.51" dy="-2.16">6</tspan></text>
<text x="201.3" y="427.79" font-size="5.4" fill="#e86a6a" text-anchor="end">2×10<tspan font-size="3.51" dy="-2.16">6</tspan></text>
<text x="201.3" y="400.77" font-size="5.4" fill="#e86a6a" text-anchor="end">3×10<tspan font-size="3.51" dy="-2.16">6</tspan></text>
<text x="201.3" y="373.74" font-size="5.4" fill="#e86a6a" text-anchor="end">4×10<tspan font-size="3.51" dy="-2.16">6</tspan></text>
<text transform="translate(182.9 426.85) rotate(-90)" font-size="6.5" fill="#e04a4a" text-anchor="middle" dominant-baseline="central">#Frames</text>
<line x1="223.5" y1="371.8" x2="223.5" y2="481.9" stroke="#7aaad0" stroke-width="0.7"/>
<line x1="223.5" y1="481.9" x2="225.5" y2="481.9" stroke="#5b95c5" stroke-width="0.6"/>
<text x="221.6" y="483.84" font-size="5.4" fill="#3f80b8" text-anchor="end">54</text>
<line x1="223.5" y1="472.72" x2="224.8" y2="472.72" stroke="#5b95c5" stroke-width="0.6"/>
<line x1="223.5" y1="463.55" x2="225.5" y2="463.55" stroke="#5b95c5" stroke-width="0.6"/>
<text x="221.6" y="465.49" font-size="5.4" fill="#3f80b8" text-anchor="end">56</text>
<line x1="223.5" y1="454.37" x2="224.8" y2="454.37" stroke="#5b95c5" stroke-width="0.6"/>
<line x1="223.5" y1="445.2" x2="225.5" y2="445.2" stroke="#5b95c5" stroke-width="0.6"/>
<text x="221.6" y="447.14" font-size="5.4" fill="#3f80b8" text-anchor="end">58</text>
<line x1="223.5" y1="436.02" x2="224.8" y2="436.02" stroke="#5b95c5" stroke-width="0.6"/>
<line x1="223.5" y1="426.85" x2="225.5" y2="426.85" stroke="#5b95c5" stroke-width="0.6"/>
<text x="221.6" y="428.79" font-size="5.4" fill="#3f80b8" text-anchor="end">60</text>
<line x1="223.5" y1="417.68" x2="224.8" y2="417.68" stroke="#5b95c5" stroke-width="0.6"/>
<line x1="223.5" y1="408.5" x2="225.5" y2="408.5" stroke="#5b95c5" stroke-width="0.6"/>
<text x="221.6" y="410.44" font-size="5.4" fill="#3f80b8" text-anchor="end">62</text>
<line x1="223.5" y1="399.32" x2="224.8" y2="399.32" stroke="#5b95c5" stroke-width="0.6"/>
<line x1="223.5" y1="390.15" x2="225.5" y2="390.15" stroke="#5b95c5" stroke-width="0.6"/>
<text x="221.6" y="392.09" font-size="5.4" fill="#3f80b8" text-anchor="end">64</text>
<line x1="223.5" y1="380.98" x2="224.8" y2="380.98" stroke="#5b95c5" stroke-width="0.6"/>
<line x1="223.5" y1="371.8" x2="225.5" y2="371.8" stroke="#5b95c5" stroke-width="0.6"/>
<text x="221.6" y="373.74" font-size="5.4" fill="#3f80b8" text-anchor="end">66</text>
<text transform="translate(211.5 426.85) rotate(-90)" font-size="6.5" fill="#2f76b3" text-anchor="middle" dominant-baseline="central">Phase-level Jaccard</text>
<line x1="324.3" y1="371.8" x2="324.3" y2="481.9" stroke="#7d77c2" stroke-width="0.8"/>
<line x1="324.3" y1="481.9" x2="326.3" y2="481.9" stroke="#6a62b0" stroke-width="0.6"/>
<text x="326.8" y="483.84" font-size="5.4" fill="#5a52a8">78</text>
<line x1="324.3" y1="470.89" x2="325.6" y2="470.89" stroke="#6a62b0" stroke-width="0.6"/>
<line x1="324.3" y1="459.88" x2="326.3" y2="459.88" stroke="#6a62b0" stroke-width="0.6"/>
<text x="326.8" y="461.82" font-size="5.4" fill="#5a52a8">79</text>
<line x1="324.3" y1="448.87" x2="325.6" y2="448.87" stroke="#6a62b0" stroke-width="0.6"/>
<line x1="324.3" y1="437.86" x2="326.3" y2="437.86" stroke="#6a62b0" stroke-width="0.6"/>
<text x="326.8" y="439.8" font-size="5.4" fill="#5a52a8">80</text>
<line x1="324.3" y1="426.85" x2="325.6" y2="426.85" stroke="#6a62b0" stroke-width="0.6"/>
<line x1="324.3" y1="415.84" x2="326.3" y2="415.84" stroke="#6a62b0" stroke-width="0.6"/>
<text x="326.8" y="417.78" font-size="5.4" fill="#5a52a8">81</text>
<line x1="324.3" y1="404.83" x2="325.6" y2="404.83" stroke="#6a62b0" stroke-width="0.6"/>
<line x1="324.3" y1="393.82" x2="326.3" y2="393.82" stroke="#6a62b0" stroke-width="0.6"/>
<text x="326.8" y="395.76" font-size="5.4" fill="#5a52a8">82</text>
<line x1="324.3" y1="382.81" x2="325.6" y2="382.81" stroke="#6a62b0" stroke-width="0.6"/>
<line x1="324.3" y1="371.8" x2="326.3" y2="371.8" stroke="#6a62b0" stroke-width="0.6"/>
<text x="326.8" y="373.74" font-size="5.4" fill="#5a52a8">83</text>
<text transform="translate(337.7 426.85) rotate(-90)" font-size="6.3" fill="#4a41a0" text-anchor="middle" dominant-baseline="central">Image-level Accuracy</text>
<line x1="223.5" y1="481.9" x2="324.3" y2="481.9" stroke="#999" stroke-width="0.6"/>
<line x1="243.82" y1="481.9" x2="243.82" y2="483.1" stroke="#666" stroke-width="0.5"/>
<line x1="264.07" y1="481.9" x2="264.07" y2="483.1" stroke="#666" stroke-width="0.5"/>
<line x1="284.32" y1="481.9" x2="284.32" y2="483.1" stroke="#666" stroke-width="0.5"/>
<line x1="304.57" y1="481.9" x2="304.57" y2="483.1" stroke="#666" stroke-width="0.5"/>
<rect x="226.6" y="464.5" width="7.1" height="17.4" fill="#d4e6f3" stroke="#3a3a3a" stroke-width="0.6"/>
<rect x="233.7" y="451.4" width="7.1" height="30.5" fill="#e5e3f2" stroke="#3a3a3a" stroke-width="0.6"/>
<rect x="246.85" y="437.1" width="7.1" height="44.8" fill="#a7cce5" stroke="#3a3a3a" stroke-width="0.6"/>
<rect x="253.95" y="438.1" width="7.1" height="43.8" fill="#bcb6dc" stroke="#3a3a3a" stroke-width="0.6"/>
<rect x="267.1" y="422.4" width="7.1" height="59.5" fill="#80b9dc" stroke="#3a3a3a" stroke-width="0.6"/>
<rect x="274.2" y="425.3" width="7.1" height="56.6" fill="#a59dd1" stroke="#3a3a3a" stroke-width="0.6"/>
<rect x="287.35" y="417.2" width="7.1" height="64.7" fill="#58a2cd" stroke="#3a3a3a" stroke-width="0.6"/>
<rect x="294.45" y="418.7" width="7.1" height="63.2" fill="#8d84c4" stroke="#3a3a3a" stroke-width="0.6"/>
<rect x="307.6" y="394" width="7.1" height="87.9" fill="#3587bf" stroke="#3a3a3a" stroke-width="0.6"/>
<rect x="314.7" y="391.5" width="7.1" height="90.4" fill="#5a4ca2" stroke="#3a3a3a" stroke-width="0.6"/>
<path d="M230.15,457.8V464.5" stroke="#999" stroke-width="0.6" fill="none"/>
<path d="M228.95,457.8h2.4" stroke="#666" stroke-width="0.6" fill="none"/>
<path d="M230.15,464.5V470.3M228.95,470.3h2.4" stroke="#222" stroke-width="0.6" fill="none"/>
<path d="M237.25,444.2V451.4" stroke="#999" stroke-width="0.6" fill="none"/>
<path d="M236.05,444.2h2.4" stroke="#666" stroke-width="0.6" fill="none"/>
<path d="M237.25,451.4V459.3M236.05,459.3h2.4" stroke="#222" stroke-width="0.6" fill="none"/>
<path d="M250.4,430.3V437.1" stroke="#999" stroke-width="0.6" fill="none"/>
<path d="M249.2,430.3h2.4" stroke="#666" stroke-width="0.6" fill="none"/>
<path d="M250.4,437.1V443.3M249.2,443.3h2.4" stroke="#222" stroke-width="0.6" fill="none"/>
<path d="M257.5,430.3V438.1" stroke="#999" stroke-width="0.6" fill="none"/>
<path d="M256.3,430.3h2.4" stroke="#666" stroke-width="0.6" fill="none"/>
<path d="M257.5,438.1V445.8M256.3,445.8h2.4" stroke="#222" stroke-width="0.6" fill="none"/>
<path d="M270.65,416.2V422.4" stroke="#999" stroke-width="0.6" fill="none"/>
<path d="M269.45,416.2h2.4" stroke="#666" stroke-width="0.6" fill="none"/>
<path d="M270.65,422.4V429.4M269.45,429.4h2.4" stroke="#222" stroke-width="0.6" fill="none"/>
<path d="M277.75,418.2V425.3" stroke="#999" stroke-width="0.6" fill="none"/>
<path d="M276.55,418.2h2.4" stroke="#666" stroke-width="0.6" fill="none"/>
<path d="M277.75,425.3V433.6M276.55,433.6h2.4" stroke="#222" stroke-width="0.6" fill="none"/>
<path d="M290.9,411.4V417.2" stroke="#999" stroke-width="0.6" fill="none"/>
<path d="M289.7,411.4h2.4" stroke="#666" stroke-width="0.6" fill="none"/>
<path d="M290.9,417.2V423M289.7,423h2.4" stroke="#222" stroke-width="0.6" fill="none"/>
<path d="M298,411.4V418.7" stroke="#999" stroke-width="0.6" fill="none"/>
<path d="M296.8,411.4h2.4" stroke="#666" stroke-width="0.6" fill="none"/>
<path d="M298,418.7V426.5M296.8,426.5h2.4" stroke="#222" stroke-width="0.6" fill="none"/>
<path d="M311.15,388.2V394" stroke="#999" stroke-width="0.6" fill="none"/>
<path d="M309.95,388.2h2.4" stroke="#666" stroke-width="0.6" fill="none"/>
<path d="M311.15,394V399.8M309.95,399.8h2.4" stroke="#222" stroke-width="0.6" fill="none"/>
<path d="M318.25,384.3V391.5" stroke="#999" stroke-width="0.6" fill="none"/>
<path d="M317.05,384.3h2.4" stroke="#666" stroke-width="0.6" fill="none"/>
<path d="M318.25,391.5V398.2M317.05,398.2h2.4" stroke="#222" stroke-width="0.6" fill="none"/>
<polyline points="233.7,477.57 253.95,475.74 274.2,467.85 294.45,447.27 314.7,383.77" fill="none" stroke="#e64545" stroke-opacity="0.7" stroke-width="0.65"/>
<polyline points="233.7,479.9 253.95,479.9 274.2,479.9 294.45,479.9 314.7,479.9" fill="none" stroke="#e64545" stroke-opacity="0.42" stroke-width="1.2"/>
<circle cx="233.7" cy="477.57" r="1.35" fill="#e44848"/>
<circle cx="233.7" cy="479.9" r="1.35" fill="#e44848"/>
<circle cx="253.95" cy="475.74" r="1.35" fill="#e44848"/>
<circle cx="253.95" cy="479.9" r="1.35" fill="#e44848"/>
<circle cx="274.2" cy="467.85" r="1.35" fill="#e44848"/>
<circle cx="274.2" cy="479.9" r="1.35" fill="#e44848"/>
<circle cx="294.45" cy="447.27" r="1.35" fill="#e44848"/>
<circle cx="294.45" cy="479.9" r="1.35" fill="#e44848"/>
<circle cx="314.7" cy="383.77" r="1.35" fill="#e44848"/>
<circle cx="314.7" cy="479.9" r="1.35" fill="#e44848"/>
<line x1="254.2" y1="374.1" x2="263.8" y2="374.1" stroke="#e84a4a" stroke-opacity="0.9" stroke-width="0.7"/>
<circle cx="259" cy="374.1" r="1.4" fill="#e44848"/>
<text x="265.2" y="375.72" font-size="4.5" fill="#222">Total</text>
<line x1="254.2" y1="380.3" x2="263.8" y2="380.3" stroke="#e84a4a" stroke-opacity="0.45" stroke-width="0.9"/>
<circle cx="259" cy="380.3" r="1.4" fill="#e44848"/>
<text x="265.2" y="381.92" font-size="4.5" fill="#222">Cataract Surgery</text>
<circle cx="233.7" cy="492" r="6" fill="#fff" stroke="#f3c4c4" stroke-width="2.1"/>
<text x="233.7" y="492" font-size="8.4" fill="#111" text-anchor="middle" dominant-baseline="central">A</text>
<text x="233.7" y="504.2" font-size="5.2" fill="#333" text-anchor="middle">0%</text>
<circle cx="253.95" cy="492" r="6" fill="#fff" stroke="#f3c4c4" stroke-width="2.1"/>
<text x="253.95" y="492" font-size="8.4" fill="#111" text-anchor="middle" dominant-baseline="central">B</text>
<text x="253.95" y="504.2" font-size="5.2" fill="#333" text-anchor="middle">0%</text>
<circle cx="274.2" cy="492" r="6" fill="#fff" stroke="#f3c4c4" stroke-width="2.1"/>
<text x="274.2" y="492" font-size="8.4" fill="#111" text-anchor="middle" dominant-baseline="central">C</text>
<text x="274.2" y="504.2" font-size="5.2" fill="#333" text-anchor="middle">0%</text>
<circle cx="294.45" cy="492" r="6" fill="#fff" stroke="#f3c4c4" stroke-width="2.1"/>
<text x="294.45" y="492" font-size="8.4" fill="#111" text-anchor="middle" dominant-baseline="central">D</text>
<text x="294.45" y="504.2" font-size="5.2" fill="#333" text-anchor="middle">0%</text>
<circle cx="314.7" cy="492" r="6" fill="#fff" stroke="#f3c4c4" stroke-width="2.1"/>
<text x="314.7" y="492" font-size="8.4" fill="#111" text-anchor="middle" dominant-baseline="central">E</text>
<text x="314.7" y="504.2" font-size="5.2" fill="#333" text-anchor="middle">0%</text>
<text x="273.7" y="512.7" class="bi" font-size="8.9" text-anchor="middle" textLength="50.6" lengthAdjust="spacingAndGlyphs">CATARACTS</text>
<rect x="248.4" y="513.7" width="50.6" height="1.1" fill="#333"/>
<text x="345.2" y="377.8" font-size="12.4" fill="#111" textLength="10.36" lengthAdjust="spacingAndGlyphs">h)</text>
<line x1="374.5" y1="371.8" x2="374.5" y2="481.9" stroke="#ef9a9a" stroke-width="0.7"/>
<line x1="372.5" y1="479.9" x2="374.5" y2="479.9" stroke="#e57373" stroke-width="0.6"/>
<line x1="373.2" y1="466.39" x2="374.5" y2="466.39" stroke="#e57373" stroke-width="0.6"/>
<line x1="372.5" y1="452.88" x2="374.5" y2="452.88" stroke="#e57373" stroke-width="0.6"/>
<line x1="373.2" y1="439.36" x2="374.5" y2="439.36" stroke="#e57373" stroke-width="0.6"/>
<line x1="372.5" y1="425.85" x2="374.5" y2="425.85" stroke="#e57373" stroke-width="0.6"/>
<line x1="373.2" y1="412.34" x2="374.5" y2="412.34" stroke="#e57373" stroke-width="0.6"/>
<line x1="372.5" y1="398.82" x2="374.5" y2="398.82" stroke="#e57373" stroke-width="0.6"/>
<line x1="373.2" y1="385.31" x2="374.5" y2="385.31" stroke="#e57373" stroke-width="0.6"/>
<line x1="372.5" y1="371.8" x2="374.5" y2="371.8" stroke="#e57373" stroke-width="0.6"/>
<text x="372.7" y="481.84" font-size="5.4" fill="#e86a6a" text-anchor="end">0</text>
<text x="372.7" y="454.82" font-size="5.4" fill="#e86a6a" text-anchor="end">1×10<tspan font-size="3.51" dy="-2.16">6</tspan></text>
<text x="372.7" y="427.79" font-size="5.4" fill="#e86a6a" text-anchor="end">2×10<tspan font-size="3.51" dy="-2.16">6</tspan></text>
<text x="372.7" y="400.77" font-size="5.4" fill="#e86a6a" text-anchor="end">3×10<tspan font-size="3.51" dy="-2.16">6</tspan></text>
<text x="372.7" y="373.74" font-size="5.4" fill="#e86a6a" text-anchor="end">4×10<tspan font-size="3.51" dy="-2.16">6</tspan></text>
<text transform="translate(354.3 426.85) rotate(-90)" font-size="6.5" fill="#e04a4a" text-anchor="middle" dominant-baseline="central">#Frames</text>
<line x1="394.9" y1="371.8" x2="394.9" y2="481.9" stroke="#7aaad0" stroke-width="0.7"/>
<line x1="394.9" y1="481.9" x2="396.9" y2="481.9" stroke="#5b95c5" stroke-width="0.6"/>
<text x="393" y="483.84" font-size="5.4" fill="#3f80b8" text-anchor="end">80</text>
<line x1="394.9" y1="470.89" x2="396.2" y2="470.89" stroke="#5b95c5" stroke-width="0.6"/>
<line x1="394.9" y1="459.88" x2="396.9" y2="459.88" stroke="#5b95c5" stroke-width="0.6"/>
<text x="393" y="461.82" font-size="5.4" fill="#3f80b8" text-anchor="end">82</text>
<line x1="394.9" y1="448.87" x2="396.2" y2="448.87" stroke="#5b95c5" stroke-width="0.6"/>
<line x1="394.9" y1="437.86" x2="396.9" y2="437.86" stroke="#5b95c5" stroke-width="0.6"/>
<text x="393" y="439.8" font-size="5.4" fill="#3f80b8" text-anchor="end">84</text>
<line x1="394.9" y1="426.85" x2="396.2" y2="426.85" stroke="#5b95c5" stroke-width="0.6"/>
<line x1="394.9" y1="415.84" x2="396.9" y2="415.84" stroke="#5b95c5" stroke-width="0.6"/>
<text x="393" y="417.78" font-size="5.4" fill="#3f80b8" text-anchor="end">86</text>
<line x1="394.9" y1="404.83" x2="396.2" y2="404.83" stroke="#5b95c5" stroke-width="0.6"/>
<line x1="394.9" y1="393.82" x2="396.9" y2="393.82" stroke="#5b95c5" stroke-width="0.6"/>
<text x="393" y="395.76" font-size="5.4" fill="#3f80b8" text-anchor="end">88</text>
<line x1="394.9" y1="382.81" x2="396.2" y2="382.81" stroke="#5b95c5" stroke-width="0.6"/>
<line x1="394.9" y1="371.8" x2="396.9" y2="371.8" stroke="#5b95c5" stroke-width="0.6"/>
<text x="393" y="373.74" font-size="5.4" fill="#3f80b8" text-anchor="end">90</text>
<text transform="translate(382.9 426.85) rotate(-90)" font-size="6.5" fill="#2f76b3" text-anchor="middle" dominant-baseline="central">Phase-level Jaccard</text>
<line x1="495.7" y1="371.8" x2="495.7" y2="481.9" stroke="#7d77c2" stroke-width="0.8"/>
<line x1="495.7" y1="481.9" x2="497.7" y2="481.9" stroke="#6a62b0" stroke-width="0.6"/>
<text x="498.2" y="483.84" font-size="5.4" fill="#5a52a8">90</text>
<line x1="495.7" y1="470.89" x2="497" y2="470.89" stroke="#6a62b0" stroke-width="0.6"/>
<line x1="495.7" y1="459.88" x2="497.7" y2="459.88" stroke="#6a62b0" stroke-width="0.6"/>
<text x="498.2" y="461.82" font-size="5.4" fill="#5a52a8">91</text>
<line x1="495.7" y1="448.87" x2="497" y2="448.87" stroke="#6a62b0" stroke-width="0.6"/>
<line x1="495.7" y1="437.86" x2="497.7" y2="437.86" stroke="#6a62b0" stroke-width="0.6"/>
<text x="498.2" y="439.8" font-size="5.4" fill="#5a52a8">92</text>
<line x1="495.7" y1="426.85" x2="497" y2="426.85" stroke="#6a62b0" stroke-width="0.6"/>
<line x1="495.7" y1="415.84" x2="497.7" y2="415.84" stroke="#6a62b0" stroke-width="0.6"/>
<text x="498.2" y="417.78" font-size="5.4" fill="#5a52a8">93</text>
<line x1="495.7" y1="404.83" x2="497" y2="404.83" stroke="#6a62b0" stroke-width="0.6"/>
<line x1="495.7" y1="393.82" x2="497.7" y2="393.82" stroke="#6a62b0" stroke-width="0.6"/>
<text x="498.2" y="395.76" font-size="5.4" fill="#5a52a8">94</text>
<line x1="495.7" y1="382.81" x2="497" y2="382.81" stroke="#6a62b0" stroke-width="0.6"/>
<line x1="495.7" y1="371.8" x2="497.7" y2="371.8" stroke="#6a62b0" stroke-width="0.6"/>
<text x="498.2" y="373.74" font-size="5.4" fill="#5a52a8">95</text>
<text transform="translate(509.1 426.85) rotate(-90)" font-size="6.3" fill="#4a41a0" text-anchor="middle" dominant-baseline="central">Image-level Accuracy</text>
<line x1="394.9" y1="481.9" x2="495.7" y2="481.9" stroke="#999" stroke-width="0.6"/>
<line x1="415.23" y1="481.9" x2="415.23" y2="483.1" stroke="#666" stroke-width="0.5"/>
<line x1="435.48" y1="481.9" x2="435.48" y2="483.1" stroke="#666" stroke-width="0.5"/>
<line x1="455.73" y1="481.9" x2="455.73" y2="483.1" stroke="#666" stroke-width="0.5"/>
<line x1="475.98" y1="481.9" x2="475.98" y2="483.1" stroke="#666" stroke-width="0.5"/>
<rect x="398" y="455.3" width="7.1" height="26.6" fill="#d4e6f3" stroke="#3a3a3a" stroke-width="0.6"/>
<rect x="405.1" y="459.1" width="7.1" height="22.8" fill="#e5e3f2" stroke="#3a3a3a" stroke-width="0.6"/>
<rect x="418.25" y="448.5" width="7.1" height="33.4" fill="#a7cce5" stroke="#3a3a3a" stroke-width="0.6"/>
<rect x="425.35" y="455.3" width="7.1" height="26.6" fill="#bcb6dc" stroke="#3a3a3a" stroke-width="0.6"/>
<rect x="438.5" y="436.5" width="7.1" height="45.4" fill="#80b9dc" stroke="#3a3a3a" stroke-width="0.6"/>
<rect x="445.6" y="432.1" width="7.1" height="49.8" fill="#a59dd1" stroke="#3a3a3a" stroke-width="0.6"/>
<rect x="458.75" y="418.3" width="7.1" height="63.6" fill="#58a2cd" stroke="#3a3a3a" stroke-width="0.6"/>
<rect x="465.85" y="408.7" width="7.1" height="73.2" fill="#8d84c4" stroke="#3a3a3a" stroke-width="0.6"/>
<rect x="479" y="398.2" width="7.1" height="83.7" fill="#3587bf" stroke="#3a3a3a" stroke-width="0.6"/>
<rect x="486.1" y="389.2" width="7.1" height="92.7" fill="#5a4ca2" stroke="#3a3a3a" stroke-width="0.6"/>
<path d="M401.55,450.4V455.3" stroke="#999" stroke-width="0.6" fill="none"/>
<path d="M400.35,450.4h2.4" stroke="#666" stroke-width="0.6" fill="none"/>
<path d="M401.55,455.3V459.7M400.35,459.7h2.4" stroke="#222" stroke-width="0.6" fill="none"/>
<path d="M408.65,454.3V459.1" stroke="#999" stroke-width="0.6" fill="none"/>
<path d="M407.45,454.3h2.4" stroke="#666" stroke-width="0.6" fill="none"/>
<path d="M408.65,459.1V463.6M407.45,463.6h2.4" stroke="#222" stroke-width="0.6" fill="none"/>
<path d="M421.8,444.2V448.5" stroke="#999" stroke-width="0.6" fill="none"/>
<path d="M420.6,444.2h2.4" stroke="#666" stroke-width="0.6" fill="none"/>
<path d="M421.8,448.5V452.9M420.6,452.9h2.4" stroke="#222" stroke-width="0.6" fill="none"/>
<path d="M428.9,450.4V455.3" stroke="#999" stroke-width="0.6" fill="none"/>
<path d="M427.7,450.4h2.4" stroke="#666" stroke-width="0.6" fill="none"/>
<path d="M428.9,455.3V460.1M427.7,460.1h2.4" stroke="#222" stroke-width="0.6" fill="none"/>
<path d="M442.05,432.5V436.5" stroke="#999" stroke-width="0.6" fill="none"/>
<path d="M440.85,432.5h2.4" stroke="#666" stroke-width="0.6" fill="none"/>
<path d="M442.05,436.5V441M440.85,441h2.4" stroke="#222" stroke-width="0.6" fill="none"/>
<path d="M449.15,427.4V432.1" stroke="#999" stroke-width="0.6" fill="none"/>
<path d="M447.95,427.4h2.4" stroke="#666" stroke-width="0.6" fill="none"/>
<path d="M449.15,432.1V436.5M447.95,436.5h2.4" stroke="#222" stroke-width="0.6" fill="none"/>
<path d="M462.3,413.3V418.3" stroke="#999" stroke-width="0.6" fill="none"/>
<path d="M461.1,413.3h2.4" stroke="#666" stroke-width="0.6" fill="none"/>
<path d="M462.3,418.3V423M461.1,423h2.4" stroke="#222" stroke-width="0.6" fill="none"/>
<path d="M469.4,404.6V408.7" stroke="#999" stroke-width="0.6" fill="none"/>
<path d="M468.2,404.6h2.4" stroke="#666" stroke-width="0.6" fill="none"/>
<path d="M469.4,408.7V413.3M468.2,413.3h2.4" stroke="#222" stroke-width="0.6" fill="none"/>
<path d="M482.55,394V398.2" stroke="#999" stroke-width="0.6" fill="none"/>
<path d="M481.35,394h2.4" stroke="#666" stroke-width="0.6" fill="none"/>
<path d="M482.55,398.2V402.7M481.35,402.7h2.4" stroke="#222" stroke-width="0.6" fill="none"/>
<path d="M489.65,385.3V389.2" stroke="#999" stroke-width="0.6" fill="none"/>
<path d="M488.45,385.3h2.4" stroke="#666" stroke-width="0.6" fill="none"/>
<path d="M489.65,389.2V393M488.45,393h2.4" stroke="#222" stroke-width="0.6" fill="none"/>
<polyline points="405.1,477.57 425.35,475.74 445.6,467.85 465.85,447.27 486.1,383.77" fill="none" stroke="#e64545" stroke-opacity="0.7" stroke-width="0.65"/>
<polyline points="405.1,479.9 425.35,479.9 445.6,479.9 465.85,479.9 486.1,479.9" fill="none" stroke="#e64545" stroke-opacity="0.42" stroke-width="1.2"/>
<circle cx="405.1" cy="477.57" r="1.35" fill="#e44848"/>
<circle cx="405.1" cy="479.9" r="1.35" fill="#e44848"/>
<circle cx="425.35" cy="475.74" r="1.35" fill="#e44848"/>
<circle cx="425.35" cy="479.9" r="1.35" fill="#e44848"/>
<circle cx="445.6" cy="467.85" r="1.35" fill="#e44848"/>
<circle cx="445.6" cy="479.9" r="1.35" fill="#e44848"/>
<circle cx="465.85" cy="447.27" r="1.35" fill="#e44848"/>
<circle cx="465.85" cy="479.9" r="1.35" fill="#e44848"/>
<circle cx="486.1" cy="383.77" r="1.35" fill="#e44848"/>
<circle cx="486.1" cy="479.9" r="1.35" fill="#e44848"/>
<line x1="426" y1="374.1" x2="435.6" y2="374.1" stroke="#e84a4a" stroke-opacity="0.9" stroke-width="0.7"/>
<circle cx="430.8" cy="374.1" r="1.4" fill="#e44848"/>
<text x="437" y="375.72" font-size="4.5" fill="#222">Total</text>
<line x1="426" y1="380.3" x2="435.6" y2="380.3" stroke="#e84a4a" stroke-opacity="0.45" stroke-width="0.9"/>
<circle cx="430.8" cy="380.3" r="1.4" fill="#e44848"/>
<text x="437" y="381.92" font-size="4.5" fill="#222">Cataract Surgery</text>
<circle cx="405.1" cy="492" r="6" fill="#fff" stroke="#f3c4c4" stroke-width="2.1"/>
<text x="405.1" y="492" font-size="8.4" fill="#111" text-anchor="middle" dominant-baseline="central">A</text>
<text x="405.1" y="504.2" font-size="5.2" fill="#333" text-anchor="middle">0%</text>
<circle cx="425.35" cy="492" r="6" fill="#fff" stroke="#f3c4c4" stroke-width="2.1"/>
<text x="425.35" y="492" font-size="8.4" fill="#111" text-anchor="middle" dominant-baseline="central">B</text>
<text x="425.35" y="504.2" font-size="5.2" fill="#333" text-anchor="middle">0%</text>
<circle cx="445.6" cy="492" r="6" fill="#fff" stroke="#f3c4c4" stroke-width="2.1"/>
<text x="445.6" y="492" font-size="8.4" fill="#111" text-anchor="middle" dominant-baseline="central">C</text>
<text x="445.6" y="504.2" font-size="5.2" fill="#333" text-anchor="middle">0%</text>
<circle cx="465.85" cy="492" r="6" fill="#fff" stroke="#f3c4c4" stroke-width="2.1"/>
<text x="465.85" y="492" font-size="8.4" fill="#111" text-anchor="middle" dominant-baseline="central">D</text>
<text x="465.85" y="504.2" font-size="5.2" fill="#333" text-anchor="middle">0%</text>
<circle cx="486.1" cy="492" r="6" fill="#fff" stroke="#f3c4c4" stroke-width="2.1"/>
<text x="486.1" y="492" font-size="8.4" fill="#111" text-anchor="middle" dominant-baseline="central">E</text>
<text x="486.1" y="504.2" font-size="5.2" fill="#333" text-anchor="middle">0%</text>
<text x="445.05" y="512.7" class="bi" font-size="8.9" text-anchor="middle" textLength="50.1" lengthAdjust="spacingAndGlyphs">Cataract-101</text>
<rect x="420" y="513.7" width="50.1" height="1.1" fill="#333"/>
<text x="521.4" y="377.8" font-size="12.4" fill="#111" textLength="6.47" lengthAdjust="spacingAndGlyphs">i)</text>
<line x1="546.4" y1="371.8" x2="546.4" y2="481.9" stroke="#ef9a9a" stroke-width="0.7"/>
<line x1="544.4" y1="479.9" x2="546.4" y2="479.9" stroke="#e57373" stroke-width="0.6"/>
<line x1="545.1" y1="466.39" x2="546.4" y2="466.39" stroke="#e57373" stroke-width="0.6"/>
<line x1="544.4" y1="452.88" x2="546.4" y2="452.88" stroke="#e57373" stroke-width="0.6"/>
<line x1="545.1" y1="439.36" x2="546.4" y2="439.36" stroke="#e57373" stroke-width="0.6"/>
<line x1="544.4" y1="425.85" x2="546.4" y2="425.85" stroke="#e57373" stroke-width="0.6"/>
<line x1="545.1" y1="412.34" x2="546.4" y2="412.34" stroke="#e57373" stroke-width="0.6"/>
<line x1="544.4" y1="398.82" x2="546.4" y2="398.82" stroke="#e57373" stroke-width="0.6"/>
<line x1="545.1" y1="385.31" x2="546.4" y2="385.31" stroke="#e57373" stroke-width="0.6"/>
<line x1="544.4" y1="371.8" x2="546.4" y2="371.8" stroke="#e57373" stroke-width="0.6"/>
<text x="544.6" y="481.84" font-size="5.4" fill="#e86a6a" text-anchor="end">0</text>
<text x="544.6" y="454.82" font-size="5.4" fill="#e86a6a" text-anchor="end">1×10<tspan font-size="3.51" dy="-2.16">6</tspan></text>
<text x="544.6" y="427.79" font-size="5.4" fill="#e86a6a" text-anchor="end">2×10<tspan font-size="3.51" dy="-2.16">6</tspan></text>
<text x="544.6" y="400.77" font-size="5.4" fill="#e86a6a" text-anchor="end">3×10<tspan font-size="3.51" dy="-2.16">6</tspan></text>
<text x="544.6" y="373.74" font-size="5.4" fill="#e86a6a" text-anchor="end">4×10<tspan font-size="3.51" dy="-2.16">6</tspan></text>
<text transform="translate(526.2 426.85) rotate(-90)" font-size="6.5" fill="#e04a4a" text-anchor="middle" dominant-baseline="central">#Frames</text>
<line x1="566.8" y1="371.8" x2="566.8" y2="481.9" stroke="#7aaad0" stroke-width="0.7"/>
<line x1="566.8" y1="481.9" x2="568.8" y2="481.9" stroke="#5b95c5" stroke-width="0.6"/>
<text x="564.9" y="483.84" font-size="5.4" fill="#3f80b8" text-anchor="end">72</text>
<line x1="566.8" y1="477.31" x2="568.1" y2="477.31" stroke="#5b95c5" stroke-width="0.6"/>
<line x1="566.8" y1="472.72" x2="568.8" y2="472.72" stroke="#5b95c5" stroke-width="0.6"/>
<text x="564.9" y="474.67" font-size="5.4" fill="#3f80b8" text-anchor="end">73</text>
<line x1="566.8" y1="468.14" x2="568.1" y2="468.14" stroke="#5b95c5" stroke-width="0.6"/>
<line x1="566.8" y1="463.55" x2="568.8" y2="463.55" stroke="#5b95c5" stroke-width="0.6"/>
<text x="564.9" y="465.49" font-size="5.4" fill="#3f80b8" text-anchor="end">74</text>
<line x1="566.8" y1="458.96" x2="568.1" y2="458.96" stroke="#5b95c5" stroke-width="0.6"/>
<line x1="566.8" y1="454.38" x2="568.8" y2="454.38" stroke="#5b95c5" stroke-width="0.6"/>
<text x="564.9" y="456.32" font-size="5.4" fill="#3f80b8" text-anchor="end">75</text>
<line x1="566.8" y1="449.79" x2="568.1" y2="449.79" stroke="#5b95c5" stroke-width="0.6"/>
<line x1="566.8" y1="445.2" x2="568.8" y2="445.2" stroke="#5b95c5" stroke-width="0.6"/>
<text x="564.9" y="447.14" font-size="5.4" fill="#3f80b8" text-anchor="end">76</text>
<line x1="566.8" y1="440.61" x2="568.1" y2="440.61" stroke="#5b95c5" stroke-width="0.6"/>
<line x1="566.8" y1="436.02" x2="568.8" y2="436.02" stroke="#5b95c5" stroke-width="0.6"/>
<text x="564.9" y="437.97" font-size="5.4" fill="#3f80b8" text-anchor="end">77</text>
<line x1="566.8" y1="431.44" x2="568.1" y2="431.44" stroke="#5b95c5" stroke-width="0.6"/>
<line x1="566.8" y1="426.85" x2="568.8" y2="426.85" stroke="#5b95c5" stroke-width="0.6"/>
<text x="564.9" y="428.79" font-size="5.4" fill="#3f80b8" text-anchor="end">78</text>
<line x1="566.8" y1="422.26" x2="568.1" y2="422.26" stroke="#5b95c5" stroke-width="0.6"/>
<line x1="566.8" y1="417.68" x2="568.8" y2="417.68" stroke="#5b95c5" stroke-width="0.6"/>
<text x="564.9" y="419.62" font-size="5.4" fill="#3f80b8" text-anchor="end">79</text>
<line x1="566.8" y1="413.09" x2="568.1" y2="413.09" stroke="#5b95c5" stroke-width="0.6"/>
<line x1="566.8" y1="408.5" x2="568.8" y2="408.5" stroke="#5b95c5" stroke-width="0.6"/>
<text x="564.9" y="410.44" font-size="5.4" fill="#3f80b8" text-anchor="end">80</text>
<line x1="566.8" y1="403.91" x2="568.1" y2="403.91" stroke="#5b95c5" stroke-width="0.6"/>
<line x1="566.8" y1="399.32" x2="568.8" y2="399.32" stroke="#5b95c5" stroke-width="0.6"/>
<text x="564.9" y="401.27" font-size="5.4" fill="#3f80b8" text-anchor="end">81</text>
<line x1="566.8" y1="394.74" x2="568.1" y2="394.74" stroke="#5b95c5" stroke-width="0.6"/>
<line x1="566.8" y1="390.15" x2="568.8" y2="390.15" stroke="#5b95c5" stroke-width="0.6"/>
<text x="564.9" y="392.09" font-size="5.4" fill="#3f80b8" text-anchor="end">82</text>
<line x1="566.8" y1="385.56" x2="568.1" y2="385.56" stroke="#5b95c5" stroke-width="0.6"/>
<line x1="566.8" y1="380.98" x2="568.8" y2="380.98" stroke="#5b95c5" stroke-width="0.6"/>
<text x="564.9" y="382.92" font-size="5.4" fill="#3f80b8" text-anchor="end">83</text>
<line x1="566.8" y1="376.39" x2="568.1" y2="376.39" stroke="#5b95c5" stroke-width="0.6"/>
<line x1="566.8" y1="371.8" x2="568.8" y2="371.8" stroke="#5b95c5" stroke-width="0.6"/>
<text x="564.9" y="373.74" font-size="5.4" fill="#3f80b8" text-anchor="end">84</text>
<text transform="translate(554.8 426.85) rotate(-90)" font-size="6.5" fill="#2f76b3" text-anchor="middle" dominant-baseline="central">Phase-level Jaccard</text>
<line x1="667.6" y1="371.8" x2="667.6" y2="481.9" stroke="#7d77c2" stroke-width="0.8"/>
<line x1="667.6" y1="481.9" x2="669.6" y2="481.9" stroke="#6a62b0" stroke-width="0.6"/>
<text x="670.1" y="483.84" font-size="5.4" fill="#5a52a8">88</text>
<line x1="667.6" y1="472.72" x2="668.9" y2="472.72" stroke="#6a62b0" stroke-width="0.6"/>
<line x1="667.6" y1="463.55" x2="669.6" y2="463.55" stroke="#6a62b0" stroke-width="0.6"/>
<text x="670.1" y="465.49" font-size="5.4" fill="#5a52a8">89</text>
<line x1="667.6" y1="454.37" x2="668.9" y2="454.37" stroke="#6a62b0" stroke-width="0.6"/>
<line x1="667.6" y1="445.2" x2="669.6" y2="445.2" stroke="#6a62b0" stroke-width="0.6"/>
<text x="670.1" y="447.14" font-size="5.4" fill="#5a52a8">90</text>
<line x1="667.6" y1="436.02" x2="668.9" y2="436.02" stroke="#6a62b0" stroke-width="0.6"/>
<line x1="667.6" y1="426.85" x2="669.6" y2="426.85" stroke="#6a62b0" stroke-width="0.6"/>
<text x="670.1" y="428.79" font-size="5.4" fill="#5a52a8">91</text>
<line x1="667.6" y1="417.68" x2="668.9" y2="417.68" stroke="#6a62b0" stroke-width="0.6"/>
<line x1="667.6" y1="408.5" x2="669.6" y2="408.5" stroke="#6a62b0" stroke-width="0.6"/>
<text x="670.1" y="410.44" font-size="5.4" fill="#5a52a8">92</text>
<line x1="667.6" y1="399.32" x2="668.9" y2="399.32" stroke="#6a62b0" stroke-width="0.6"/>
<line x1="667.6" y1="390.15" x2="669.6" y2="390.15" stroke="#6a62b0" stroke-width="0.6"/>
<text x="670.1" y="392.09" font-size="5.4" fill="#5a52a8">93</text>
<line x1="667.6" y1="380.98" x2="668.9" y2="380.98" stroke="#6a62b0" stroke-width="0.6"/>
<line x1="667.6" y1="371.8" x2="669.6" y2="371.8" stroke="#6a62b0" stroke-width="0.6"/>
<text x="670.1" y="373.74" font-size="5.4" fill="#5a52a8">94</text>
<text transform="translate(681 426.85) rotate(-90)" font-size="6.3" fill="#4a41a0" text-anchor="middle" dominant-baseline="central">Image-level Accuracy</text>
<line x1="566.8" y1="481.9" x2="667.6" y2="481.9" stroke="#999" stroke-width="0.6"/>
<line x1="587.12" y1="481.9" x2="587.12" y2="483.1" stroke="#666" stroke-width="0.5"/>
<line x1="607.38" y1="481.9" x2="607.38" y2="483.1" stroke="#666" stroke-width="0.5"/>
<line x1="627.62" y1="481.9" x2="627.62" y2="483.1" stroke="#666" stroke-width="0.5"/>
<line x1="647.88" y1="481.9" x2="647.88" y2="483.1" stroke="#666" stroke-width="0.5"/>
<rect x="569.9" y="463.2" width="7.1" height="18.7" fill="#d4e6f3" stroke="none" stroke-width="0.6"/>
<rect x="577" y="455.8" width="7.1" height="26.1" fill="#e5e3f2" stroke="#3a3a3a" stroke-width="0.6"/>
<rect x="590.15" y="428.2" width="7.1" height="53.7" fill="#a7cce5" stroke="#3a3a3a" stroke-width="0.6"/>
<rect x="597.25" y="444.2" width="7.1" height="37.7" fill="#bcb6dc" stroke="#3a3a3a" stroke-width="0.6"/>
<rect x="610.4" y="447.1" width="7.1" height="34.8" fill="#80b9dc" stroke="#3a3a3a" stroke-width="0.6"/>
<rect x="617.5" y="446.2" width="7.1" height="35.7" fill="#a59dd1" stroke="#3a3a3a" stroke-width="0.6"/>
<rect x="630.65" y="447.5" width="7.1" height="34.4" fill="#58a2cd" stroke="#3a3a3a" stroke-width="0.6"/>
<rect x="637.75" y="435.2" width="7.1" height="46.7" fill="#8d84c4" stroke="#3a3a3a" stroke-width="0.6"/>
<rect x="650.9" y="408.5" width="7.1" height="73.4" fill="#3587bf" stroke="#3a3a3a" stroke-width="0.6"/>
<rect x="658" y="406" width="7.1" height="75.9" fill="#5a4ca2" stroke="#3a3a3a" stroke-width="0.6"/>
<path d="M573.45,442.3V463.2" stroke="#999" stroke-width="0.6" fill="none"/>
<path d="M572.25,442.3h2.4" stroke="#666" stroke-width="0.6" fill="none"/>
<path d="M573.45,463.2V481.5M572.25,481.5h2.4" stroke="#222" stroke-width="0.6" fill="none"/>
<path d="M580.55,437.5V455.8" stroke="#999" stroke-width="0.6" fill="none"/>
<path d="M579.35,437.5h2.4" stroke="#666" stroke-width="0.6" fill="none"/>
<path d="M580.55,455.8V474.8M579.35,474.8h2.4" stroke="#222" stroke-width="0.6" fill="none"/>
<path d="M593.7,411.4V428.2" stroke="#999" stroke-width="0.6" fill="none"/>
<path d="M592.5,411.4h2.4" stroke="#666" stroke-width="0.6" fill="none"/>
<path d="M593.7,428.2V446.2M592.5,446.2h2.4" stroke="#222" stroke-width="0.6" fill="none"/>
<path d="M600.8,427.2V444.2" stroke="#999" stroke-width="0.6" fill="none"/>
<path d="M599.6,427.2h2.4" stroke="#666" stroke-width="0.6" fill="none"/>
<path d="M600.8,444.2V461.2M599.6,461.2h2.4" stroke="#222" stroke-width="0.6" fill="none"/>
<path d="M613.95,429.4V447.1" stroke="#999" stroke-width="0.6" fill="none"/>
<path d="M612.75,429.4h2.4" stroke="#666" stroke-width="0.6" fill="none"/>
<path d="M613.95,447.1V465.5M612.75,465.5h2.4" stroke="#222" stroke-width="0.6" fill="none"/>
<path d="M621.05,428.4V446.2" stroke="#999" stroke-width="0.6" fill="none"/>
<path d="M619.85,428.4h2.4" stroke="#666" stroke-width="0.6" fill="none"/>
<path d="M621.05,446.2V464M619.85,464h2.4" stroke="#222" stroke-width="0.6" fill="none"/>
<path d="M634.2,429.7V447.5" stroke="#999" stroke-width="0.6" fill="none"/>
<path d="M633,429.7h2.4" stroke="#666" stroke-width="0.6" fill="none"/>
<path d="M634.2,447.5V465.5M633,465.5h2.4" stroke="#222" stroke-width="0.6" fill="none"/>
<path d="M641.3,417.2V435.2" stroke="#999" stroke-width="0.6" fill="none"/>
<path d="M640.1,417.2h2.4" stroke="#666" stroke-width="0.6" fill="none"/>
<path d="M641.3,435.2V452.4M640.1,452.4h2.4" stroke="#222" stroke-width="0.6" fill="none"/>
<path d="M654.45,389.2V408.5" stroke="#999" stroke-width="0.6" fill="none"/>
<path d="M653.25,389.2h2.4" stroke="#666" stroke-width="0.6" fill="none"/>
<path d="M654.45,408.5V428.2M653.25,428.2h2.4" stroke="#222" stroke-width="0.6" fill="none"/>
<path d="M661.55,390.1V406" stroke="#999" stroke-width="0.6" fill="none"/>
<path d="M660.35,390.1h2.4" stroke="#666" stroke-width="0.6" fill="none"/>
<path d="M661.55,406V422M660.35,422h2.4" stroke="#222" stroke-width="0.6" fill="none"/>
<polyline points="577,477.57 597.25,475.74 617.5,467.85 637.75,447.27 658,383.77" fill="none" stroke="#e64545" stroke-opacity="0.7" stroke-width="0.65"/>
<polyline points="577,479.9 597.25,479.9 617.5,479.9 637.75,479.9 658,479.9" fill="none" stroke="#e64545" stroke-opacity="0.42" stroke-width="1.2"/>
<circle cx="577" cy="477.57" r="1.35" fill="#e44848"/>
<circle cx="577" cy="479.9" r="1.35" fill="#e44848"/>
<circle cx="597.25" cy="475.74" r="1.35" fill="#e44848"/>
<circle cx="597.25" cy="479.9" r="1.35" fill="#e44848"/>
<circle cx="617.5" cy="467.85" r="1.35" fill="#e44848"/>
<circle cx="617.5" cy="479.9" r="1.35" fill="#e44848"/>
<circle cx="637.75" cy="447.27" r="1.35" fill="#e44848"/>
<circle cx="637.75" cy="479.9" r="1.35" fill="#e44848"/>
<circle cx="658" cy="383.77" r="1.35" fill="#e44848"/>
<circle cx="658" cy="479.9" r="1.35" fill="#e44848"/>
<line x1="597.1" y1="374.1" x2="606.7" y2="374.1" stroke="#e84a4a" stroke-opacity="0.9" stroke-width="0.7"/>
<circle cx="601.9" cy="374.1" r="1.4" fill="#e44848"/>
<text x="608.1" y="375.72" font-size="4.5" fill="#222">Total</text>
<line x1="597.1" y1="380.3" x2="606.7" y2="380.3" stroke="#e84a4a" stroke-opacity="0.45" stroke-width="0.9"/>
<circle cx="601.9" cy="380.3" r="1.4" fill="#e44848"/>
<text x="608.1" y="381.92" font-size="4.5" fill="#222">Cataract Surgery</text>
<circle cx="577" cy="492" r="6" fill="#fff" stroke="#f3c4c4" stroke-width="2.1"/>
<text x="577" y="492" font-size="8.4" fill="#111" text-anchor="middle" dominant-baseline="central">A</text>
<text x="577" y="504.2" font-size="5.2" fill="#333" text-anchor="middle">0%</text>
<circle cx="597.25" cy="492" r="6" fill="#fff" stroke="#f3c4c4" stroke-width="2.1"/>
<text x="597.25" y="492" font-size="8.4" fill="#111" text-anchor="middle" dominant-baseline="central">B</text>
<text x="597.25" y="504.2" font-size="5.2" fill="#333" text-anchor="middle">0%</text>
<circle cx="617.5" cy="492" r="6" fill="#fff" stroke="#f3c4c4" stroke-width="2.1"/>
<text x="617.5" y="492" font-size="8.4" fill="#111" text-anchor="middle" dominant-baseline="central">C</text>
<text x="617.5" y="504.2" font-size="5.2" fill="#333" text-anchor="middle">0%</text>
<circle cx="637.75" cy="492" r="6" fill="#fff" stroke="#f3c4c4" stroke-width="2.1"/>
<text x="637.75" y="492" font-size="8.4" fill="#111" text-anchor="middle" dominant-baseline="central">D</text>
<text x="637.75" y="504.2" font-size="5.2" fill="#333" text-anchor="middle">0%</text>
<circle cx="658" cy="492" r="6" fill="#fff" stroke="#f3c4c4" stroke-width="2.1"/>
<text x="658" y="492" font-size="8.4" fill="#111" text-anchor="middle" dominant-baseline="central">E</text>
<text x="658" y="504.2" font-size="5.2" fill="#333" text-anchor="middle">0%</text>
<text x="616.8" y="512.7" class="bi" font-size="8.9" text-anchor="middle" textLength="45.7" lengthAdjust="spacingAndGlyphs">Cataract-21</text>
<rect x="593.95" y="513.7" width="45.7" height="1.1" fill="#333"/>
<text x="0.3" y="536.7" font-size="12.4" fill="#111" textLength="6.47" lengthAdjust="spacingAndGlyphs">j)</text>
<line x1="26.7" y1="530.2" x2="26.7" y2="618.7" stroke="#ef9a9a" stroke-width="0.7"/>
<line x1="24.7" y1="618.2" x2="26.7" y2="618.2" stroke="#e57373" stroke-width="0.6"/>
<line x1="25.4" y1="607.2" x2="26.7" y2="607.2" stroke="#e57373" stroke-width="0.6"/>
<line x1="24.7" y1="596.2" x2="26.7" y2="596.2" stroke="#e57373" stroke-width="0.6"/>
<line x1="25.4" y1="585.2" x2="26.7" y2="585.2" stroke="#e57373" stroke-width="0.6"/>
<line x1="24.7" y1="574.2" x2="26.7" y2="574.2" stroke="#e57373" stroke-width="0.6"/>
<line x1="25.4" y1="563.2" x2="26.7" y2="563.2" stroke="#e57373" stroke-width="0.6"/>
<line x1="24.7" y1="552.2" x2="26.7" y2="552.2" stroke="#e57373" stroke-width="0.6"/>
<line x1="25.4" y1="541.2" x2="26.7" y2="541.2" stroke="#e57373" stroke-width="0.6"/>
<line x1="24.7" y1="530.2" x2="26.7" y2="530.2" stroke="#e57373" stroke-width="0.6"/>
<text x="24.9" y="619.86" font-size="4.6" fill="#e86a6a" text-anchor="end">0</text>
<text x="24.9" y="597.86" font-size="4.6" fill="#e86a6a" text-anchor="end">1×10<tspan font-size="2.99" dy="-1.84">6</tspan></text>
<text x="24.9" y="575.86" font-size="4.6" fill="#e86a6a" text-anchor="end">2×10<tspan font-size="2.99" dy="-1.84">6</tspan></text>
<text x="24.9" y="553.86" font-size="4.6" fill="#e86a6a" text-anchor="end">3×10<tspan font-size="2.99" dy="-1.84">6</tspan></text>
<text x="24.9" y="531.86" font-size="4.6" fill="#e86a6a" text-anchor="end">4×10<tspan font-size="2.99" dy="-1.84">6</tspan></text>
<text transform="translate(9.6 574.45) rotate(-90)" font-size="5.3" fill="#e04a4a" text-anchor="middle" dominant-baseline="central">#Frames</text>
<line x1="44.1" y1="530.2" x2="44.1" y2="618.7" stroke="#4f8cc2" stroke-width="0.9"/>
<line x1="44.1" y1="618.7" x2="46.1" y2="618.7" stroke="#5b95c5" stroke-width="0.6"/>
<text x="42.2" y="620.36" font-size="4.6" fill="#3f80b8" text-anchor="end">44</text>
<line x1="44.1" y1="613.17" x2="45.4" y2="613.17" stroke="#5b95c5" stroke-width="0.6"/>
<line x1="44.1" y1="607.64" x2="46.1" y2="607.64" stroke="#5b95c5" stroke-width="0.6"/>
<text x="42.2" y="609.29" font-size="4.6" fill="#3f80b8" text-anchor="end">48</text>
<line x1="44.1" y1="602.11" x2="45.4" y2="602.11" stroke="#5b95c5" stroke-width="0.6"/>
<line x1="44.1" y1="596.58" x2="46.1" y2="596.58" stroke="#5b95c5" stroke-width="0.6"/>
<text x="42.2" y="598.23" font-size="4.6" fill="#3f80b8" text-anchor="end">52</text>
<line x1="44.1" y1="591.04" x2="45.4" y2="591.04" stroke="#5b95c5" stroke-width="0.6"/>
<line x1="44.1" y1="585.51" x2="46.1" y2="585.51" stroke="#5b95c5" stroke-width="0.6"/>
<text x="42.2" y="587.17" font-size="4.6" fill="#3f80b8" text-anchor="end">56</text>
<line x1="44.1" y1="579.98" x2="45.4" y2="579.98" stroke="#5b95c5" stroke-width="0.6"/>
<line x1="44.1" y1="574.45" x2="46.1" y2="574.45" stroke="#5b95c5" stroke-width="0.6"/>
<text x="42.2" y="576.11" font-size="4.6" fill="#3f80b8" text-anchor="end">60</text>
<line x1="44.1" y1="568.92" x2="45.4" y2="568.92" stroke="#5b95c5" stroke-width="0.6"/>
<line x1="44.1" y1="563.39" x2="46.1" y2="563.39" stroke="#5b95c5" stroke-width="0.6"/>
<text x="42.2" y="565.04" font-size="4.6" fill="#3f80b8" text-anchor="end">64</text>
<line x1="44.1" y1="557.86" x2="45.4" y2="557.86" stroke="#5b95c5" stroke-width="0.6"/>
<line x1="44.1" y1="552.33" x2="46.1" y2="552.33" stroke="#5b95c5" stroke-width="0.6"/>
<text x="42.2" y="553.98" font-size="4.6" fill="#3f80b8" text-anchor="end">68</text>
<line x1="44.1" y1="546.79" x2="45.4" y2="546.79" stroke="#5b95c5" stroke-width="0.6"/>
<line x1="44.1" y1="541.26" x2="46.1" y2="541.26" stroke="#5b95c5" stroke-width="0.6"/>
<text x="42.2" y="542.92" font-size="4.6" fill="#3f80b8" text-anchor="end">72</text>
<line x1="44.1" y1="535.73" x2="45.4" y2="535.73" stroke="#5b95c5" stroke-width="0.6"/>
<line x1="44.1" y1="530.2" x2="46.1" y2="530.2" stroke="#5b95c5" stroke-width="0.6"/>
<text x="42.2" y="531.86" font-size="4.6" fill="#3f80b8" text-anchor="end">76</text>
<text transform="translate(32.4 574.45) rotate(-90)" font-size="5.3" fill="#2f76b3" text-anchor="middle" dominant-baseline="central">mAP</text>
<line x1="124.3" y1="530.2" x2="124.3" y2="618.7" stroke="#7d77c2" stroke-width="0.8"/>
<line x1="124.3" y1="618.7" x2="126.3" y2="618.7" stroke="#6a62b0" stroke-width="0.6"/>
<text x="126.8" y="620.36" font-size="4.6" fill="#5a52a8">35</text>
<line x1="124.3" y1="613.17" x2="125.6" y2="613.17" stroke="#6a62b0" stroke-width="0.6"/>
<line x1="124.3" y1="607.64" x2="126.3" y2="607.64" stroke="#6a62b0" stroke-width="0.6"/>
<text x="126.8" y="609.29" font-size="4.6" fill="#5a52a8">40</text>
<line x1="124.3" y1="602.11" x2="125.6" y2="602.11" stroke="#6a62b0" stroke-width="0.6"/>
<line x1="124.3" y1="596.58" x2="126.3" y2="596.58" stroke="#6a62b0" stroke-width="0.6"/>
<text x="126.8" y="598.23" font-size="4.6" fill="#5a52a8">45</text>
<line x1="124.3" y1="591.04" x2="125.6" y2="591.04" stroke="#6a62b0" stroke-width="0.6"/>
<line x1="124.3" y1="585.51" x2="126.3" y2="585.51" stroke="#6a62b0" stroke-width="0.6"/>
<text x="126.8" y="587.17" font-size="4.6" fill="#5a52a8">50</text>
<line x1="124.3" y1="579.98" x2="125.6" y2="579.98" stroke="#6a62b0" stroke-width="0.6"/>
<line x1="124.3" y1="574.45" x2="126.3" y2="574.45" stroke="#6a62b0" stroke-width="0.6"/>
<text x="126.8" y="576.11" font-size="4.6" fill="#5a52a8">55</text>
<line x1="124.3" y1="568.92" x2="125.6" y2="568.92" stroke="#6a62b0" stroke-width="0.6"/>
<line x1="124.3" y1="563.39" x2="126.3" y2="563.39" stroke="#6a62b0" stroke-width="0.6"/>
<text x="126.8" y="565.04" font-size="4.6" fill="#5a52a8">60</text>
<line x1="124.3" y1="557.86" x2="125.6" y2="557.86" stroke="#6a62b0" stroke-width="0.6"/>
<line x1="124.3" y1="552.33" x2="126.3" y2="552.33" stroke="#6a62b0" stroke-width="0.6"/>
<text x="126.8" y="553.98" font-size="4.6" fill="#5a52a8">65</text>
<line x1="124.3" y1="546.79" x2="125.6" y2="546.79" stroke="#6a62b0" stroke-width="0.6"/>
<line x1="124.3" y1="541.26" x2="126.3" y2="541.26" stroke="#6a62b0" stroke-width="0.6"/>
<text x="126.8" y="542.92" font-size="4.6" fill="#5a52a8">70</text>
<line x1="124.3" y1="535.73" x2="125.6" y2="535.73" stroke="#6a62b0" stroke-width="0.6"/>
<line x1="124.3" y1="530.2" x2="126.3" y2="530.2" stroke="#6a62b0" stroke-width="0.6"/>
<text x="126.8" y="531.86" font-size="4.6" fill="#5a52a8">75</text>
<text transform="translate(135 574.45) rotate(-90)" font-size="5.3" fill="#4a41a0" text-anchor="middle" dominant-baseline="central">Accuracy</text>
<line x1="44.1" y1="618.7" x2="124.3" y2="618.7" stroke="#999" stroke-width="0.6"/>
<line x1="59.83" y1="618.7" x2="59.83" y2="619.9" stroke="#666" stroke-width="0.5"/>
<line x1="76.08" y1="618.7" x2="76.08" y2="619.9" stroke="#666" stroke-width="0.5"/>
<line x1="92.33" y1="618.7" x2="92.33" y2="619.9" stroke="#666" stroke-width="0.5"/>
<line x1="108.58" y1="618.7" x2="108.58" y2="619.9" stroke="#666" stroke-width="0.5"/>
<rect x="45.8" y="602.1" width="5.9" height="16.6" fill="#d4e6f3" stroke="#3a3a3a" stroke-width="0.6"/>
<rect x="51.7" y="609.2" width="5.9" height="9.5" fill="#e5e3f2" stroke="#3a3a3a" stroke-width="0.6"/>
<rect x="62.05" y="607.2" width="5.9" height="11.5" fill="#a7cce5" stroke="#3a3a3a" stroke-width="0.6"/>
<rect x="67.95" y="603.8" width="5.9" height="14.9" fill="#bcb6dc" stroke="#3a3a3a" stroke-width="0.6"/>
<rect x="78.3" y="579.8" width="5.9" height="38.9" fill="#80b9dc" stroke="#3a3a3a" stroke-width="0.6"/>
<rect x="84.2" y="590" width="5.9" height="28.7" fill="#a59dd1" stroke="#3a3a3a" stroke-width="0.6"/>
<rect x="94.55" y="568.1" width="5.9" height="50.6" fill="#58a2cd" stroke="#3a3a3a" stroke-width="0.6"/>
<rect x="100.45" y="580.8" width="5.9" height="37.9" fill="#8d84c4" stroke="#3a3a3a" stroke-width="0.6"/>
<rect x="110.8" y="553.6" width="5.9" height="65.1" fill="#3587bf" stroke="#3a3a3a" stroke-width="0.6"/>
<rect x="116.7" y="548.9" width="5.9" height="69.8" fill="#5a4ca2" stroke="#3a3a3a" stroke-width="0.6"/>
<path d="M48.75,583.2V602.1" stroke="#999" stroke-width="0.6" fill="none"/>
<path d="M47.75,583.2h2" stroke="#666" stroke-width="0.6" fill="none"/>
<path d="M48.75,602.1V618.7M47.75,618.7h2" stroke="#222" stroke-width="0.6" fill="none"/>
<path d="M54.65,593.9V609.2" stroke="#999" stroke-width="0.6" fill="none"/>
<path d="M53.65,593.9h2" stroke="#666" stroke-width="0.6" fill="none"/>
<path d="M54.65,609.2V618.7M53.65,618.7h2" stroke="#222" stroke-width="0.6" fill="none"/>
<path d="M65,589.3V607.2" stroke="#999" stroke-width="0.6" fill="none"/>
<path d="M64,589.3h2" stroke="#666" stroke-width="0.6" fill="none"/>
<path d="M65,607.2V618.7M64,618.7h2" stroke="#222" stroke-width="0.6" fill="none"/>
<path d="M70.9,588V603.8" stroke="#999" stroke-width="0.6" fill="none"/>
<path d="M69.9,588h2" stroke="#666" stroke-width="0.6" fill="none"/>
<path d="M70.9,603.8V618.7M69.9,618.7h2" stroke="#222" stroke-width="0.6" fill="none"/>
<path d="M81.25,560.3V579.8" stroke="#999" stroke-width="0.6" fill="none"/>
<path d="M80.25,560.3h2" stroke="#666" stroke-width="0.6" fill="none"/>
<path d="M81.25,579.8V598.5M80.25,598.5h2" stroke="#222" stroke-width="0.6" fill="none"/>
<path d="M87.15,574.4V590" stroke="#999" stroke-width="0.6" fill="none"/>
<path d="M86.15,574.4h2" stroke="#666" stroke-width="0.6" fill="none"/>
<path d="M87.15,590V605.8M86.15,605.8h2" stroke="#222" stroke-width="0.6" fill="none"/>
<path d="M97.5,550.2V568.1" stroke="#999" stroke-width="0.6" fill="none"/>
<path d="M96.5,550.2h2" stroke="#666" stroke-width="0.6" fill="none"/>
<path d="M97.5,568.1V586.3M96.5,586.3h2" stroke="#222" stroke-width="0.6" fill="none"/>
<path d="M103.4,564.5V580.8" stroke="#999" stroke-width="0.6" fill="none"/>
<path d="M102.4,564.5h2" stroke="#666" stroke-width="0.6" fill="none"/>
<path d="M103.4,580.8V598.5M102.4,598.5h2" stroke="#222" stroke-width="0.6" fill="none"/>
<path d="M113.75,538.7V553.6" stroke="#999" stroke-width="0.6" fill="none"/>
<path d="M112.75,538.7h2" stroke="#666" stroke-width="0.6" fill="none"/>
<path d="M113.75,553.6V571M112.75,571h2" stroke="#222" stroke-width="0.6" fill="none"/>
<path d="M119.65,533.1V548.9" stroke="#999" stroke-width="0.6" fill="none"/>
<path d="M118.65,533.1h2" stroke="#666" stroke-width="0.6" fill="none"/>
<path d="M119.65,548.9V565M118.65,565h2" stroke="#222" stroke-width="0.6" fill="none"/>
<polyline points="51.7,616.3 67.95,614.81 84.2,608.39 100.45,591.64 116.7,539.94" fill="none" stroke="#e64545" stroke-opacity="0.7" stroke-width="0.65"/>
<polyline points="51.7,618.2 67.95,618.2 84.2,617.31 100.45,617.32 116.7,617.34" fill="none" stroke="#e64545" stroke-opacity="0.42" stroke-width="1.2"/>
<circle cx="51.7" cy="616.3" r="1.15" fill="#e44848"/>
<circle cx="51.7" cy="618.2" r="1.15" fill="#e44848"/>
<circle cx="67.95" cy="614.81" r="1.15" fill="#e44848"/>
<circle cx="67.95" cy="618.2" r="1.15" fill="#e44848"/>
<circle cx="84.2" cy="608.39" r="1.15" fill="#e44848"/>
<circle cx="84.2" cy="617.31" r="1.15" fill="#e44848"/>
<circle cx="100.45" cy="591.64" r="1.15" fill="#e44848"/>
<circle cx="100.45" cy="617.32" r="1.15" fill="#e44848"/>
<circle cx="116.7" cy="539.94" r="1.15" fill="#e44848"/>
<circle cx="116.7" cy="617.34" r="1.15" fill="#e44848"/>
<line x1="51.4" y1="532.3" x2="58.8" y2="532.3" stroke="#e84a4a" stroke-opacity="0.9" stroke-width="0.7"/>
<circle cx="55.1" cy="532.3" r="1.1" fill="#e44848"/>
<text x="60.2" y="533.6" font-size="3.6" fill="#222">Total</text>
<line x1="51.4" y1="536.7" x2="58.8" y2="536.7" stroke="#e84a4a" stroke-opacity="0.45" stroke-width="0.9"/>
<circle cx="55.1" cy="536.7" r="1.1" fill="#e44848"/>
<text x="60.2" y="538" font-size="3.6" fill="#222">Gynecologic Laparoscopic Surgery</text>
<circle cx="51.7" cy="627.1" r="4.9" fill="#fff" stroke="#f3c4c4" stroke-width="1.8"/>
<text x="51.7" y="627.1" font-size="8" fill="#111" text-anchor="middle" dominant-baseline="central">A</text>
<text x="51.7" y="635.6" font-size="4.6" fill="#333" text-anchor="middle">0%</text>
<circle cx="67.95" cy="627.1" r="4.9" fill="#fff" stroke="#f3c4c4" stroke-width="1.8"/>
<text x="67.95" y="627.1" font-size="8" fill="#111" text-anchor="middle" dominant-baseline="central">B</text>
<text x="67.95" y="635.6" font-size="4.6" fill="#333" text-anchor="middle">0%</text>
<circle cx="84.2" cy="627.1" r="4.9" fill="#fff" stroke="#f3c4c4" stroke-width="1.8"/>
<path d="M81.75,622.86A4.9,4.9 0 0 1 84.44,622.21" fill="none" stroke="#de5454" stroke-width="1.8"/>
<text x="84.2" y="627.1" font-size="8" fill="#111" text-anchor="middle" dominant-baseline="central">C</text>
<text x="84.2" y="635.6" font-size="4.6" fill="#333" text-anchor="middle">9.1%</text>
<circle cx="100.45" cy="627.1" r="4.9" fill="#fff" stroke="#f3c4c4" stroke-width="1.8"/>
<path d="M98,622.86A4.9,4.9 0 0 1 98.93,622.44" fill="none" stroke="#de5454" stroke-width="1.8"/>
<text x="100.45" y="627.1" font-size="8" fill="#111" text-anchor="middle" dominant-baseline="central">D</text>
<text x="100.45" y="635.6" font-size="4.6" fill="#333" text-anchor="middle">3.3%</text>
<circle cx="116.7" cy="627.1" r="4.9" fill="#fff" stroke="#f3c4c4" stroke-width="1.8"/>
<path d="M114.25,622.86A4.9,4.9 0 0 1 114.55,622.7" fill="none" stroke="#de5454" stroke-width="1.8"/>
<text x="116.7" y="627.1" font-size="8" fill="#111" text-anchor="middle" dominant-baseline="central">E</text>
<text x="116.7" y="635.6" font-size="4.6" fill="#333" text-anchor="middle">1.1%</text>
<text x="84" y="644.8" class="bi" font-size="8.7" text-anchor="middle" textLength="80.4" lengthAdjust="spacingAndGlyphs">SurgicalActions160</text>
<rect x="43.8" y="645.8" width="80.4" height="1.1" fill="#333"/>
<text x="136.7" y="536.7" font-size="12.4" fill="#111" textLength="9.71" lengthAdjust="spacingAndGlyphs">k)</text>
<line x1="163.4" y1="530.2" x2="163.4" y2="618.7" stroke="#ef9a9a" stroke-width="0.7"/>
<line x1="161.4" y1="618.2" x2="163.4" y2="618.2" stroke="#e57373" stroke-width="0.6"/>
<line x1="162.1" y1="607.2" x2="163.4" y2="607.2" stroke="#e57373" stroke-width="0.6"/>
<line x1="161.4" y1="596.2" x2="163.4" y2="596.2" stroke="#e57373" stroke-width="0.6"/>
<line x1="162.1" y1="585.2" x2="163.4" y2="585.2" stroke="#e57373" stroke-width="0.6"/>
<line x1="161.4" y1="574.2" x2="163.4" y2="574.2" stroke="#e57373" stroke-width="0.6"/>
<line x1="162.1" y1="563.2" x2="163.4" y2="563.2" stroke="#e57373" stroke-width="0.6"/>
<line x1="161.4" y1="552.2" x2="163.4" y2="552.2" stroke="#e57373" stroke-width="0.6"/>
<line x1="162.1" y1="541.2" x2="163.4" y2="541.2" stroke="#e57373" stroke-width="0.6"/>
<line x1="161.4" y1="530.2" x2="163.4" y2="530.2" stroke="#e57373" stroke-width="0.6"/>
<text x="161.6" y="619.86" font-size="4.6" fill="#e86a6a" text-anchor="end">0</text>
<text x="161.6" y="597.86" font-size="4.6" fill="#e86a6a" text-anchor="end">1×10<tspan font-size="2.99" dy="-1.84">6</tspan></text>
<text x="161.6" y="575.86" font-size="4.6" fill="#e86a6a" text-anchor="end">2×10<tspan font-size="2.99" dy="-1.84">6</tspan></text>
<text x="161.6" y="553.86" font-size="4.6" fill="#e86a6a" text-anchor="end">3×10<tspan font-size="2.99" dy="-1.84">6</tspan></text>
<text x="161.6" y="531.86" font-size="4.6" fill="#e86a6a" text-anchor="end">4×10<tspan font-size="2.99" dy="-1.84">6</tspan></text>
<text transform="translate(146.3 574.45) rotate(-90)" font-size="5.3" fill="#e04a4a" text-anchor="middle" dominant-baseline="central">#Frames</text>
<line x1="180.8" y1="530.2" x2="180.8" y2="618.7" stroke="#7aaad0" stroke-width="0.7"/>
<line x1="180.8" y1="618.7" x2="182.8" y2="618.7" stroke="#5b95c5" stroke-width="0.6"/>
<text x="178.9" y="620.36" font-size="4.6" fill="#3f80b8" text-anchor="end">36</text>
<line x1="180.8" y1="609.85" x2="182.1" y2="609.85" stroke="#5b95c5" stroke-width="0.6"/>
<line x1="180.8" y1="601" x2="182.8" y2="601" stroke="#5b95c5" stroke-width="0.6"/>
<text x="178.9" y="602.66" font-size="4.6" fill="#3f80b8" text-anchor="end">38</text>
<line x1="180.8" y1="592.15" x2="182.1" y2="592.15" stroke="#5b95c5" stroke-width="0.6"/>
<line x1="180.8" y1="583.3" x2="182.8" y2="583.3" stroke="#5b95c5" stroke-width="0.6"/>
<text x="178.9" y="584.96" font-size="4.6" fill="#3f80b8" text-anchor="end">40</text>
<line x1="180.8" y1="574.45" x2="182.1" y2="574.45" stroke="#5b95c5" stroke-width="0.6"/>
<line x1="180.8" y1="565.6" x2="182.8" y2="565.6" stroke="#5b95c5" stroke-width="0.6"/>
<text x="178.9" y="567.26" font-size="4.6" fill="#3f80b8" text-anchor="end">42</text>
<line x1="180.8" y1="556.75" x2="182.1" y2="556.75" stroke="#5b95c5" stroke-width="0.6"/>
<line x1="180.8" y1="547.9" x2="182.8" y2="547.9" stroke="#5b95c5" stroke-width="0.6"/>
<text x="178.9" y="549.56" font-size="4.6" fill="#3f80b8" text-anchor="end">44</text>
<line x1="180.8" y1="539.05" x2="182.1" y2="539.05" stroke="#5b95c5" stroke-width="0.6"/>
<line x1="180.8" y1="530.2" x2="182.8" y2="530.2" stroke="#5b95c5" stroke-width="0.6"/>
<text x="178.9" y="531.86" font-size="4.6" fill="#3f80b8" text-anchor="end">46</text>
<text transform="translate(169.1 574.45) rotate(-90)" font-size="5.3" fill="#2f76b3" text-anchor="middle" dominant-baseline="central">2-tuple mAP</text>
<line x1="261" y1="530.2" x2="261" y2="618.7" stroke="#7d77c2" stroke-width="0.8"/>
<line x1="261" y1="618.7" x2="263" y2="618.7" stroke="#6a62b0" stroke-width="0.6"/>
<text x="263.5" y="620.36" font-size="4.6" fill="#5a52a8">34</text>
<line x1="261" y1="609.85" x2="262.3" y2="609.85" stroke="#6a62b0" stroke-width="0.6"/>
<line x1="261" y1="601" x2="263" y2="601" stroke="#6a62b0" stroke-width="0.6"/>
<text x="263.5" y="602.66" font-size="4.6" fill="#5a52a8">36</text>
<line x1="261" y1="592.15" x2="262.3" y2="592.15" stroke="#6a62b0" stroke-width="0.6"/>
<line x1="261" y1="583.3" x2="263" y2="583.3" stroke="#6a62b0" stroke-width="0.6"/>
<text x="263.5" y="584.96" font-size="4.6" fill="#5a52a8">38</text>
<line x1="261" y1="574.45" x2="262.3" y2="574.45" stroke="#6a62b0" stroke-width="0.6"/>
<line x1="261" y1="565.6" x2="263" y2="565.6" stroke="#6a62b0" stroke-width="0.6"/>
<text x="263.5" y="567.26" font-size="4.6" fill="#5a52a8">40</text>
<line x1="261" y1="556.75" x2="262.3" y2="556.75" stroke="#6a62b0" stroke-width="0.6"/>
<line x1="261" y1="547.9" x2="263" y2="547.9" stroke="#6a62b0" stroke-width="0.6"/>
<text x="263.5" y="549.56" font-size="4.6" fill="#5a52a8">42</text>
<line x1="261" y1="539.05" x2="262.3" y2="539.05" stroke="#6a62b0" stroke-width="0.6"/>
<line x1="261" y1="530.2" x2="263" y2="530.2" stroke="#6a62b0" stroke-width="0.6"/>
<text x="263.5" y="531.86" font-size="4.6" fill="#5a52a8">44</text>
<text transform="translate(271.7 574.45) rotate(-90)" font-size="5.3" fill="#4a41a0" text-anchor="middle" dominant-baseline="central">Triplet mAP</text>
<line x1="180.8" y1="618.7" x2="261" y2="618.7" stroke="#999" stroke-width="0.6"/>
<line x1="196.53" y1="618.7" x2="196.53" y2="619.9" stroke="#666" stroke-width="0.5"/>
<line x1="212.78" y1="618.7" x2="212.78" y2="619.9" stroke="#666" stroke-width="0.5"/>
<line x1="229.03" y1="618.7" x2="229.03" y2="619.9" stroke="#666" stroke-width="0.5"/>
<line x1="245.28" y1="618.7" x2="245.28" y2="619.9" stroke="#666" stroke-width="0.5"/>
<rect x="182.5" y="604.9" width="5.9" height="13.8" fill="#d4e6f3" stroke="#3a3a3a" stroke-width="0.6"/>
<rect x="188.4" y="605.8" width="5.9" height="12.9" fill="#e5e3f2" stroke="#3a3a3a" stroke-width="0.6"/>
<rect x="198.75" y="574" width="5.9" height="44.7" fill="#a7cce5" stroke="#3a3a3a" stroke-width="0.6"/>
<rect x="204.65" y="570.1" width="5.9" height="48.6" fill="#bcb6dc" stroke="#3a3a3a" stroke-width="0.6"/>
<rect x="215" y="576.1" width="5.9" height="42.6" fill="#80b9dc" stroke="#3a3a3a" stroke-width="0.6"/>
<rect x="220.9" y="565" width="5.9" height="53.7" fill="#a59dd1" stroke="#3a3a3a" stroke-width="0.6"/>
<rect x="231.25" y="564.2" width="5.9" height="54.5" fill="#58a2cd" stroke="#3a3a3a" stroke-width="0.6"/>
<rect x="237.15" y="570.3" width="5.9" height="48.4" fill="#8d84c4" stroke="#3a3a3a" stroke-width="0.6"/>
<rect x="247.5" y="557.9" width="5.9" height="60.8" fill="#3587bf" stroke="#3a3a3a" stroke-width="0.6"/>
<rect x="253.4" y="556.2" width="5.9" height="62.5" fill="#5a4ca2" stroke="#3a3a3a" stroke-width="0.6"/>
<path d="M185.45,593.1V604.9" stroke="#999" stroke-width="0.6" fill="none"/>
<path d="M184.45,593.1h2" stroke="#666" stroke-width="0.6" fill="none"/>
<path d="M185.45,604.9V618.5M184.45,618.5h2" stroke="#222" stroke-width="0.6" fill="none"/>
<path d="M191.35,595.1V605.8" stroke="#999" stroke-width="0.6" fill="none"/>
<path d="M190.35,595.1h2" stroke="#666" stroke-width="0.6" fill="none"/>
<path d="M191.35,605.8V618.5M190.35,618.5h2" stroke="#222" stroke-width="0.6" fill="none"/>
<path d="M201.7,560.1V574" stroke="#999" stroke-width="0.6" fill="none"/>
<path d="M200.7,560.1h2" stroke="#666" stroke-width="0.6" fill="none"/>
<path d="M201.7,574V587.6M200.7,587.6h2" stroke="#222" stroke-width="0.6" fill="none"/>
<path d="M207.6,557V570.1" stroke="#999" stroke-width="0.6" fill="none"/>
<path d="M206.6,557h2" stroke="#666" stroke-width="0.6" fill="none"/>
<path d="M207.6,570.1V582.5M206.6,582.5h2" stroke="#222" stroke-width="0.6" fill="none"/>
<path d="M217.95,562.5V576.1" stroke="#999" stroke-width="0.6" fill="none"/>
<path d="M216.95,562.5h2" stroke="#666" stroke-width="0.6" fill="none"/>
<path d="M217.95,576.1V588.8M216.95,588.8h2" stroke="#222" stroke-width="0.6" fill="none"/>
<path d="M223.85,553.1V565" stroke="#999" stroke-width="0.6" fill="none"/>
<path d="M222.85,553.1h2" stroke="#666" stroke-width="0.6" fill="none"/>
<path d="M223.85,565V577.3M222.85,577.3h2" stroke="#222" stroke-width="0.6" fill="none"/>
<path d="M234.2,550.2V564.2" stroke="#999" stroke-width="0.6" fill="none"/>
<path d="M233.2,550.2h2" stroke="#666" stroke-width="0.6" fill="none"/>
<path d="M234.2,564.2V577.4M233.2,577.4h2" stroke="#222" stroke-width="0.6" fill="none"/>
<path d="M240.1,557V570.3" stroke="#999" stroke-width="0.6" fill="none"/>
<path d="M239.1,557h2" stroke="#666" stroke-width="0.6" fill="none"/>
<path d="M240.1,570.3V583.7M239.1,583.7h2" stroke="#222" stroke-width="0.6" fill="none"/>
<path d="M250.45,540V557.9" stroke="#999" stroke-width="0.6" fill="none"/>
<path d="M249.45,540h2" stroke="#666" stroke-width="0.6" fill="none"/>
<path d="M250.45,557.9V575.7M249.45,575.7h2" stroke="#222" stroke-width="0.6" fill="none"/>
<path d="M256.35,542.1V556.2" stroke="#999" stroke-width="0.6" fill="none"/>
<path d="M255.35,542.1h2" stroke="#666" stroke-width="0.6" fill="none"/>
<path d="M256.35,556.2V570.6M255.35,570.6h2" stroke="#222" stroke-width="0.6" fill="none"/>
<polyline points="188.4,616.3 204.65,614.81 220.9,608.39 237.15,591.64 253.4,539.94" fill="none" stroke="#e64545" stroke-opacity="0.7" stroke-width="0.65"/>
<polyline points="188.4,616.3 204.65,614.81 220.9,613.56 237.15,613.58 253.4,606.38" fill="none" stroke="#e64545" stroke-opacity="0.42" stroke-width="1.2"/>
<circle cx="188.4" cy="616.3" r="1.15" fill="#e44848"/>
<circle cx="188.4" cy="616.3" r="1.15" fill="#e44848"/>
<circle cx="204.65" cy="614.81" r="1.15" fill="#e44848"/>
<circle cx="204.65" cy="614.81" r="1.15" fill="#e44848"/>
<circle cx="220.9" cy="608.39" r="1.15" fill="#e44848"/>
<circle cx="220.9" cy="613.56" r="1.15" fill="#e44848"/>
<circle cx="237.15" cy="591.64" r="1.15" fill="#e44848"/>
<circle cx="237.15" cy="613.58" r="1.15" fill="#e44848"/>
<circle cx="253.4" cy="539.94" r="1.15" fill="#e44848"/>
<circle cx="253.4" cy="606.38" r="1.15" fill="#e44848"/>
<line x1="191.5" y1="532.3" x2="198.9" y2="532.3" stroke="#e84a4a" stroke-opacity="0.9" stroke-width="0.7"/>
<circle cx="195.2" cy="532.3" r="1.1" fill="#e44848"/>
<text x="200.3" y="533.6" font-size="3.6" fill="#222">Total</text>
<line x1="191.5" y1="536.7" x2="198.9" y2="536.7" stroke="#e84a4a" stroke-opacity="0.45" stroke-width="0.9"/>
<circle cx="195.2" cy="536.7" r="1.1" fill="#e44848"/>
<text x="200.3" y="538" font-size="3.6" fill="#222">Laparoscopic Cholecystectomy</text>
<circle cx="188.4" cy="627.1" r="4.9" fill="#fff" stroke="#f3c4c4" stroke-width="1.8"/>
<circle cx="188.4" cy="627.1" r="4.9" fill="none" stroke="#de5454" stroke-width="1.8"/>
<text x="188.4" y="627.1" font-size="8" fill="#111" text-anchor="middle" dominant-baseline="central">A</text>
<text x="188.4" y="635.6" font-size="4.6" fill="#333" text-anchor="middle">100%</text>
<circle cx="204.65" cy="627.1" r="4.9" fill="#fff" stroke="#f3c4c4" stroke-width="1.8"/>
<circle cx="204.65" cy="627.1" r="4.9" fill="none" stroke="#de5454" stroke-width="1.8"/>
<text x="204.65" y="627.1" font-size="8" fill="#111" text-anchor="middle" dominant-baseline="central">B</text>
<text x="204.65" y="635.6" font-size="4.6" fill="#333" text-anchor="middle">100%</text>
<circle cx="220.9" cy="627.1" r="4.9" fill="#fff" stroke="#f3c4c4" stroke-width="1.8"/>
<path d="M218.45,622.86A4.9,4.9 0 0 1 224.03,630.87" fill="none" stroke="#de5454" stroke-width="1.8"/>
<text x="220.9" y="627.1" font-size="8" fill="#111" text-anchor="middle" dominant-baseline="central">C</text>
<text x="220.9" y="635.6" font-size="4.6" fill="#333" text-anchor="middle">47.3%</text>
<circle cx="237.15" cy="627.1" r="4.9" fill="#fff" stroke="#f3c4c4" stroke-width="1.8"/>
<path d="M234.7,622.86A4.9,4.9 0 0 1 239.79,622.97" fill="none" stroke="#de5454" stroke-width="1.8"/>
<text x="237.15" y="627.1" font-size="8" fill="#111" text-anchor="middle" dominant-baseline="central">D</text>
<text x="237.15" y="635.6" font-size="4.6" fill="#333" text-anchor="middle">17.4%</text>
<circle cx="253.4" cy="627.1" r="4.9" fill="#fff" stroke="#f3c4c4" stroke-width="1.8"/>
<path d="M250.95,622.86A4.9,4.9 0 0 1 255.42,622.64" fill="none" stroke="#de5454" stroke-width="1.8"/>
<text x="253.4" y="627.1" font-size="8" fill="#111" text-anchor="middle" dominant-baseline="central">E</text>
<text x="253.4" y="635.6" font-size="4.6" fill="#333" text-anchor="middle">15.1%</text>
<text x="220.5" y="644.8" class="bi" font-size="8.7" text-anchor="middle" textLength="43.5" lengthAdjust="spacingAndGlyphs">CholecT50</text>
<rect x="198.75" y="645.8" width="43.5" height="1.1" fill="#333"/>
<text x="274.1" y="536.7" font-size="12.4" fill="#111" textLength="6.47" lengthAdjust="spacingAndGlyphs">l)</text>
<line x1="300" y1="530.2" x2="300" y2="618.7" stroke="#ef9a9a" stroke-width="0.7"/>
<line x1="298" y1="618.2" x2="300" y2="618.2" stroke="#e57373" stroke-width="0.6"/>
<line x1="298.7" y1="607.2" x2="300" y2="607.2" stroke="#e57373" stroke-width="0.6"/>
<line x1="298" y1="596.2" x2="300" y2="596.2" stroke="#e57373" stroke-width="0.6"/>
<line x1="298.7" y1="585.2" x2="300" y2="585.2" stroke="#e57373" stroke-width="0.6"/>
<line x1="298" y1="574.2" x2="300" y2="574.2" stroke="#e57373" stroke-width="0.6"/>
<line x1="298.7" y1="563.2" x2="300" y2="563.2" stroke="#e57373" stroke-width="0.6"/>
<line x1="298" y1="552.2" x2="300" y2="552.2" stroke="#e57373" stroke-width="0.6"/>
<line x1="298.7" y1="541.2" x2="300" y2="541.2" stroke="#e57373" stroke-width="0.6"/>
<line x1="298" y1="530.2" x2="300" y2="530.2" stroke="#e57373" stroke-width="0.6"/>
<text x="298.2" y="619.86" font-size="4.6" fill="#e86a6a" text-anchor="end">0</text>
<text x="298.2" y="597.86" font-size="4.6" fill="#e86a6a" text-anchor="end">1×10<tspan font-size="2.99" dy="-1.84">6</tspan></text>
<text x="298.2" y="575.86" font-size="4.6" fill="#e86a6a" text-anchor="end">2×10<tspan font-size="2.99" dy="-1.84">6</tspan></text>
<text x="298.2" y="553.86" font-size="4.6" fill="#e86a6a" text-anchor="end">3×10<tspan font-size="2.99" dy="-1.84">6</tspan></text>
<text x="298.2" y="531.86" font-size="4.6" fill="#e86a6a" text-anchor="end">4×10<tspan font-size="2.99" dy="-1.84">6</tspan></text>
<text transform="translate(282.9 574.45) rotate(-90)" font-size="5.3" fill="#e04a4a" text-anchor="middle" dominant-baseline="central">#Frames</text>
<line x1="317.4" y1="530.2" x2="317.4" y2="618.7" stroke="#7aaad0" stroke-width="0.7"/>
<line x1="317.4" y1="618.7" x2="319.4" y2="618.7" stroke="#5b95c5" stroke-width="0.6"/>
<text x="315.5" y="620.36" font-size="4.6" fill="#3f80b8" text-anchor="end">20</text>
<line x1="317.4" y1="609.85" x2="318.7" y2="609.85" stroke="#5b95c5" stroke-width="0.6"/>
<line x1="317.4" y1="601" x2="319.4" y2="601" stroke="#5b95c5" stroke-width="0.6"/>
<text x="315.5" y="602.66" font-size="4.6" fill="#3f80b8" text-anchor="end">25</text>
<line x1="317.4" y1="592.15" x2="318.7" y2="592.15" stroke="#5b95c5" stroke-width="0.6"/>
<line x1="317.4" y1="583.3" x2="319.4" y2="583.3" stroke="#5b95c5" stroke-width="0.6"/>
<text x="315.5" y="584.96" font-size="4.6" fill="#3f80b8" text-anchor="end">30</text>
<line x1="317.4" y1="574.45" x2="318.7" y2="574.45" stroke="#5b95c5" stroke-width="0.6"/>
<line x1="317.4" y1="565.6" x2="319.4" y2="565.6" stroke="#5b95c5" stroke-width="0.6"/>
<text x="315.5" y="567.26" font-size="4.6" fill="#3f80b8" text-anchor="end">35</text>
<line x1="317.4" y1="556.75" x2="318.7" y2="556.75" stroke="#5b95c5" stroke-width="0.6"/>
<line x1="317.4" y1="547.9" x2="319.4" y2="547.9" stroke="#5b95c5" stroke-width="0.6"/>
<text x="315.5" y="549.56" font-size="4.6" fill="#3f80b8" text-anchor="end">40</text>
<line x1="317.4" y1="539.05" x2="318.7" y2="539.05" stroke="#5b95c5" stroke-width="0.6"/>
<line x1="317.4" y1="530.2" x2="319.4" y2="530.2" stroke="#5b95c5" stroke-width="0.6"/>
<text x="315.5" y="531.86" font-size="4.6" fill="#3f80b8" text-anchor="end">45</text>
<text transform="translate(305.7 574.45) rotate(-90)" font-size="5.3" fill="#2f76b3" text-anchor="middle" dominant-baseline="central">2-tuple mAP</text>
<line x1="397.6" y1="530.2" x2="397.6" y2="618.7" stroke="#7d77c2" stroke-width="0.8"/>
<line x1="397.6" y1="618.7" x2="399.6" y2="618.7" stroke="#6a62b0" stroke-width="0.6"/>
<text x="400.1" y="620.36" font-size="4.6" fill="#5a52a8">14</text>
<line x1="397.6" y1="613.78" x2="398.9" y2="613.78" stroke="#6a62b0" stroke-width="0.6"/>
<line x1="397.6" y1="608.87" x2="399.6" y2="608.87" stroke="#6a62b0" stroke-width="0.6"/>
<text x="400.1" y="610.52" font-size="4.6" fill="#5a52a8">16</text>
<line x1="397.6" y1="603.95" x2="398.9" y2="603.95" stroke="#6a62b0" stroke-width="0.6"/>
<line x1="397.6" y1="599.03" x2="399.6" y2="599.03" stroke="#6a62b0" stroke-width="0.6"/>
<text x="400.1" y="600.69" font-size="4.6" fill="#5a52a8">18</text>
<line x1="397.6" y1="594.12" x2="398.9" y2="594.12" stroke="#6a62b0" stroke-width="0.6"/>
<line x1="397.6" y1="589.2" x2="399.6" y2="589.2" stroke="#6a62b0" stroke-width="0.6"/>
<text x="400.1" y="590.86" font-size="4.6" fill="#5a52a8">20</text>
<line x1="397.6" y1="584.28" x2="398.9" y2="584.28" stroke="#6a62b0" stroke-width="0.6"/>
<line x1="397.6" y1="579.37" x2="399.6" y2="579.37" stroke="#6a62b0" stroke-width="0.6"/>
<text x="400.1" y="581.02" font-size="4.6" fill="#5a52a8">22</text>
<line x1="397.6" y1="574.45" x2="398.9" y2="574.45" stroke="#6a62b0" stroke-width="0.6"/>
<line x1="397.6" y1="569.53" x2="399.6" y2="569.53" stroke="#6a62b0" stroke-width="0.6"/>
<text x="400.1" y="571.19" font-size="4.6" fill="#5a52a8">24</text>
<line x1="397.6" y1="564.62" x2="398.9" y2="564.62" stroke="#6a62b0" stroke-width="0.6"/>
<line x1="397.6" y1="559.7" x2="399.6" y2="559.7" stroke="#6a62b0" stroke-width="0.6"/>
<text x="400.1" y="561.36" font-size="4.6" fill="#5a52a8">26</text>
<line x1="397.6" y1="554.78" x2="398.9" y2="554.78" stroke="#6a62b0" stroke-width="0.6"/>
<line x1="397.6" y1="549.87" x2="399.6" y2="549.87" stroke="#6a62b0" stroke-width="0.6"/>
<text x="400.1" y="551.52" font-size="4.6" fill="#5a52a8">28</text>
<line x1="397.6" y1="544.95" x2="398.9" y2="544.95" stroke="#6a62b0" stroke-width="0.6"/>
<line x1="397.6" y1="540.03" x2="399.6" y2="540.03" stroke="#6a62b0" stroke-width="0.6"/>
<text x="400.1" y="541.69" font-size="4.6" fill="#5a52a8">30</text>
<line x1="397.6" y1="535.12" x2="398.9" y2="535.12" stroke="#6a62b0" stroke-width="0.6"/>
<line x1="397.6" y1="530.2" x2="399.6" y2="530.2" stroke="#6a62b0" stroke-width="0.6"/>
<text x="400.1" y="531.86" font-size="4.6" fill="#5a52a8">32</text>
<text transform="translate(408.3 574.45) rotate(-90)" font-size="5.3" fill="#4a41a0" text-anchor="middle" dominant-baseline="central">Triplet mAP</text>
<line x1="317.4" y1="618.7" x2="397.6" y2="618.7" stroke="#999" stroke-width="0.6"/>
<line x1="333.12" y1="618.7" x2="333.12" y2="619.9" stroke="#666" stroke-width="0.5"/>
<line x1="349.38" y1="618.7" x2="349.38" y2="619.9" stroke="#666" stroke-width="0.5"/>
<line x1="365.62" y1="618.7" x2="365.62" y2="619.9" stroke="#666" stroke-width="0.5"/>
<line x1="381.88" y1="618.7" x2="381.88" y2="619.9" stroke="#666" stroke-width="0.5"/>
<rect x="319.1" y="602.4" width="5.9" height="16.3" fill="#d4e6f3" stroke="#3a3a3a" stroke-width="0.6"/>
<rect x="325" y="608.3" width="5.9" height="10.4" fill="#e5e3f2" stroke="#3a3a3a" stroke-width="0.6"/>
<rect x="335.35" y="597.3" width="5.9" height="21.4" fill="#a7cce5" stroke="#3a3a3a" stroke-width="0.6"/>
<rect x="341.25" y="603.2" width="5.9" height="15.5" fill="#bcb6dc" stroke="#3a3a3a" stroke-width="0.6"/>
<rect x="351.6" y="578.6" width="5.9" height="40.1" fill="#80b9dc" stroke="#3a3a3a" stroke-width="0.6"/>
<rect x="357.5" y="583.2" width="5.9" height="35.5" fill="#a59dd1" stroke="#3a3a3a" stroke-width="0.6"/>
<rect x="367.85" y="580" width="5.9" height="38.7" fill="#58a2cd" stroke="#3a3a3a" stroke-width="0.6"/>
<rect x="373.75" y="588.8" width="5.9" height="29.9" fill="#8d84c4" stroke="#3a3a3a" stroke-width="0.6"/>
<rect x="384.1" y="549.4" width="5.9" height="69.3" fill="#3587bf" stroke="#3a3a3a" stroke-width="0.6"/>
<rect x="390" y="543.4" width="5.9" height="75.3" fill="#5a4ca2" stroke="#3a3a3a" stroke-width="0.6"/>
<path d="M322.05,600.2V602.4" stroke="#999" stroke-width="0.6" fill="none"/>
<path d="M321.05,600.2h2" stroke="#666" stroke-width="0.6" fill="none"/>
<path d="M322.05,602.4V604.6M321.05,604.6h2" stroke="#222" stroke-width="0.6" fill="none"/>
<path d="M327.95,605.8V608.3" stroke="#999" stroke-width="0.6" fill="none"/>
<path d="M326.95,605.8h2" stroke="#666" stroke-width="0.6" fill="none"/>
<path d="M327.95,608.3V610.9M326.95,610.9h2" stroke="#222" stroke-width="0.6" fill="none"/>
<path d="M338.3,595.3V597.3" stroke="#999" stroke-width="0.6" fill="none"/>
<path d="M337.3,595.3h2" stroke="#666" stroke-width="0.6" fill="none"/>
<path d="M338.3,597.3V599.5M337.3,599.5h2" stroke="#222" stroke-width="0.6" fill="none"/>
<path d="M344.2,599.9V603.2" stroke="#999" stroke-width="0.6" fill="none"/>
<path d="M343.2,599.9h2" stroke="#666" stroke-width="0.6" fill="none"/>
<path d="M344.2,603.2V605M343.2,605h2" stroke="#222" stroke-width="0.6" fill="none"/>
<path d="M354.55,576.4V578.6" stroke="#999" stroke-width="0.6" fill="none"/>
<path d="M353.55,576.4h2" stroke="#666" stroke-width="0.6" fill="none"/>
<path d="M354.55,578.6V580.8M353.55,580.8h2" stroke="#222" stroke-width="0.6" fill="none"/>
<path d="M360.45,580.3V583.2" stroke="#999" stroke-width="0.6" fill="none"/>
<path d="M359.45,580.3h2" stroke="#666" stroke-width="0.6" fill="none"/>
<path d="M360.45,583.2V585.4M359.45,585.4h2" stroke="#222" stroke-width="0.6" fill="none"/>
<path d="M370.8,577.8V580" stroke="#999" stroke-width="0.6" fill="none"/>
<path d="M369.8,577.8h2" stroke="#666" stroke-width="0.6" fill="none"/>
<path d="M370.8,580V582.2M369.8,582.2h2" stroke="#222" stroke-width="0.6" fill="none"/>
<path d="M376.7,586.3V588.8" stroke="#999" stroke-width="0.6" fill="none"/>
<path d="M375.7,586.3h2" stroke="#666" stroke-width="0.6" fill="none"/>
<path d="M376.7,588.8V591.4M375.7,591.4h2" stroke="#222" stroke-width="0.6" fill="none"/>
<path d="M387.05,546.8V549.4" stroke="#999" stroke-width="0.6" fill="none"/>
<path d="M386.05,546.8h2" stroke="#666" stroke-width="0.6" fill="none"/>
<path d="M387.05,549.4V552.3M386.05,552.3h2" stroke="#222" stroke-width="0.6" fill="none"/>
<path d="M392.95,540.4V543.4" stroke="#999" stroke-width="0.6" fill="none"/>
<path d="M391.95,540.4h2" stroke="#666" stroke-width="0.6" fill="none"/>
<path d="M392.95,543.4V544.6M391.95,544.6h2" stroke="#222" stroke-width="0.6" fill="none"/>
<polyline points="325,616.3 341.25,614.81 357.5,608.39 373.75,591.64 390,539.94" fill="none" stroke="#e64545" stroke-opacity="0.7" stroke-width="0.65"/>
<polyline points="325,618.2 341.25,618.2 357.5,616.69 373.75,616.61 390,616.63" fill="none" stroke="#e64545" stroke-opacity="0.42" stroke-width="1.2"/>
<circle cx="325" cy="616.3" r="1.15" fill="#e44848"/>
<circle cx="325" cy="618.2" r="1.15" fill="#e44848"/>
<circle cx="341.25" cy="614.81" r="1.15" fill="#e44848"/>
<circle cx="341.25" cy="618.2" r="1.15" fill="#e44848"/>
<circle cx="357.5" cy="608.39" r="1.15" fill="#e44848"/>
<circle cx="357.5" cy="616.69" r="1.15" fill="#e44848"/>
<circle cx="373.75" cy="591.64" r="1.15" fill="#e44848"/>
<circle cx="373.75" cy="616.61" r="1.15" fill="#e44848"/>
<circle cx="390" cy="539.94" r="1.15" fill="#e44848"/>
<circle cx="390" cy="616.63" r="1.15" fill="#e44848"/>
<line x1="329.4" y1="532.3" x2="336.8" y2="532.3" stroke="#e84a4a" stroke-opacity="0.9" stroke-width="0.7"/>
<circle cx="333.1" cy="532.3" r="1.1" fill="#e44848"/>
<text x="338.2" y="533.6" font-size="3.6" fill="#222">Total</text>
<line x1="329.4" y1="536.7" x2="336.8" y2="536.7" stroke="#e84a4a" stroke-opacity="0.45" stroke-width="0.9"/>
<circle cx="333.1" cy="536.7" r="1.1" fill="#e44848"/>
<text x="338.2" y="538" font-size="3.6" fill="#222">Radical Prostatectomy</text>
<circle cx="325" cy="627.1" r="4.9" fill="#fff" stroke="#f3c4c4" stroke-width="1.8"/>
<text x="325" y="627.1" font-size="8" fill="#111" text-anchor="middle" dominant-baseline="central">A</text>
<text x="325" y="635.6" font-size="4.6" fill="#333" text-anchor="middle">0%</text>
<circle cx="341.25" cy="627.1" r="4.9" fill="#fff" stroke="#f3c4c4" stroke-width="1.8"/>
<text x="341.25" y="627.1" font-size="8" fill="#111" text-anchor="middle" dominant-baseline="central">B</text>
<text x="341.25" y="635.6" font-size="4.6" fill="#333" text-anchor="middle">0%</text>
<circle cx="357.5" cy="627.1" r="4.9" fill="#fff" stroke="#f3c4c4" stroke-width="1.8"/>
<path d="M355.05,622.86A4.9,4.9 0 0 1 359.6,622.68" fill="none" stroke="#de5454" stroke-width="1.8"/>
<text x="357.5" y="627.1" font-size="8" fill="#111" text-anchor="middle" dominant-baseline="central">C</text>
<text x="357.5" y="635.6" font-size="4.6" fill="#333" text-anchor="middle">15.4%</text>
<circle cx="373.75" cy="627.1" r="4.9" fill="#fff" stroke="#f3c4c4" stroke-width="1.8"/>
<path d="M371.3,622.86A4.9,4.9 0 0 1 373.03,622.25" fill="none" stroke="#de5454" stroke-width="1.8"/>
<text x="373.75" y="627.1" font-size="8" fill="#111" text-anchor="middle" dominant-baseline="central">D</text>
<text x="373.75" y="635.6" font-size="4.6" fill="#333" text-anchor="middle">6%</text>
<circle cx="390" cy="627.1" r="4.9" fill="#fff" stroke="#f3c4c4" stroke-width="1.8"/>
<path d="M387.55,622.86A4.9,4.9 0 0 1 388.1,622.58" fill="none" stroke="#de5454" stroke-width="1.8"/>
<text x="390" y="627.1" font-size="8" fill="#111" text-anchor="middle" dominant-baseline="central">E</text>
<text x="390" y="635.6" font-size="4.6" fill="#333" text-anchor="middle">2%</text>
<text x="357.1" y="644.8" class="bi" font-size="8.7" text-anchor="middle" textLength="43.8" lengthAdjust="spacingAndGlyphs">Prostate21</text>
<rect x="335.2" y="645.8" width="43.8" height="1.1" fill="#333"/>
<text x="408.1" y="536.7" font-size="12.4" fill="#111" textLength="13.59" lengthAdjust="spacingAndGlyphs">m)</text>
<line x1="436.8" y1="530.2" x2="436.8" y2="618.7" stroke="#ef9a9a" stroke-width="0.7"/>
<line x1="434.8" y1="618.2" x2="436.8" y2="618.2" stroke="#e57373" stroke-width="0.6"/>
<line x1="435.5" y1="607.2" x2="436.8" y2="607.2" stroke="#e57373" stroke-width="0.6"/>
<line x1="434.8" y1="596.2" x2="436.8" y2="596.2" stroke="#e57373" stroke-width="0.6"/>
<line x1="435.5" y1="585.2" x2="436.8" y2="585.2" stroke="#e57373" stroke-width="0.6"/>
<line x1="434.8" y1="574.2" x2="436.8" y2="574.2" stroke="#e57373" stroke-width="0.6"/>
<line x1="435.5" y1="563.2" x2="436.8" y2="563.2" stroke="#e57373" stroke-width="0.6"/>
<line x1="434.8" y1="552.2" x2="436.8" y2="552.2" stroke="#e57373" stroke-width="0.6"/>
<line x1="435.5" y1="541.2" x2="436.8" y2="541.2" stroke="#e57373" stroke-width="0.6"/>
<line x1="434.8" y1="530.2" x2="436.8" y2="530.2" stroke="#e57373" stroke-width="0.6"/>
<text x="435" y="619.86" font-size="4.6" fill="#e86a6a" text-anchor="end">0</text>
<text x="435" y="597.86" font-size="4.6" fill="#e86a6a" text-anchor="end">1×10<tspan font-size="2.99" dy="-1.84">6</tspan></text>
<text x="435" y="575.86" font-size="4.6" fill="#e86a6a" text-anchor="end">2×10<tspan font-size="2.99" dy="-1.84">6</tspan></text>
<text x="435" y="553.86" font-size="4.6" fill="#e86a6a" text-anchor="end">3×10<tspan font-size="2.99" dy="-1.84">6</tspan></text>
<text x="435" y="531.86" font-size="4.6" fill="#e86a6a" text-anchor="end">4×10<tspan font-size="2.99" dy="-1.84">6</tspan></text>
<text transform="translate(419.7 574.45) rotate(-90)" font-size="5.3" fill="#e04a4a" text-anchor="middle" dominant-baseline="central">#Frames</text>
<line x1="454.2" y1="530.2" x2="454.2" y2="618.7" stroke="#7aaad0" stroke-width="0.7"/>
<line x1="454.2" y1="618.7" x2="456.2" y2="618.7" stroke="#5b95c5" stroke-width="0.6"/>
<text x="452.3" y="620.36" font-size="4.6" fill="#3f80b8" text-anchor="end">26</text>
<line x1="454.2" y1="614.28" x2="455.5" y2="614.28" stroke="#5b95c5" stroke-width="0.6"/>
<line x1="454.2" y1="609.85" x2="456.2" y2="609.85" stroke="#5b95c5" stroke-width="0.6"/>
<text x="452.3" y="611.51" font-size="4.6" fill="#3f80b8" text-anchor="end">27</text>
<line x1="454.2" y1="605.43" x2="455.5" y2="605.43" stroke="#5b95c5" stroke-width="0.6"/>
<line x1="454.2" y1="601" x2="456.2" y2="601" stroke="#5b95c5" stroke-width="0.6"/>
<text x="452.3" y="602.66" font-size="4.6" fill="#3f80b8" text-anchor="end">28</text>
<line x1="454.2" y1="596.58" x2="455.5" y2="596.58" stroke="#5b95c5" stroke-width="0.6"/>
<line x1="454.2" y1="592.15" x2="456.2" y2="592.15" stroke="#5b95c5" stroke-width="0.6"/>
<text x="452.3" y="593.81" font-size="4.6" fill="#3f80b8" text-anchor="end">29</text>
<line x1="454.2" y1="587.73" x2="455.5" y2="587.73" stroke="#5b95c5" stroke-width="0.6"/>
<line x1="454.2" y1="583.3" x2="456.2" y2="583.3" stroke="#5b95c5" stroke-width="0.6"/>
<text x="452.3" y="584.96" font-size="4.6" fill="#3f80b8" text-anchor="end">30</text>
<line x1="454.2" y1="578.88" x2="455.5" y2="578.88" stroke="#5b95c5" stroke-width="0.6"/>
<line x1="454.2" y1="574.45" x2="456.2" y2="574.45" stroke="#5b95c5" stroke-width="0.6"/>
<text x="452.3" y="576.11" font-size="4.6" fill="#3f80b8" text-anchor="end">31</text>
<line x1="454.2" y1="570.03" x2="455.5" y2="570.03" stroke="#5b95c5" stroke-width="0.6"/>
<line x1="454.2" y1="565.6" x2="456.2" y2="565.6" stroke="#5b95c5" stroke-width="0.6"/>
<text x="452.3" y="567.26" font-size="4.6" fill="#3f80b8" text-anchor="end">32</text>
<line x1="454.2" y1="561.18" x2="455.5" y2="561.18" stroke="#5b95c5" stroke-width="0.6"/>
<line x1="454.2" y1="556.75" x2="456.2" y2="556.75" stroke="#5b95c5" stroke-width="0.6"/>
<text x="452.3" y="558.41" font-size="4.6" fill="#3f80b8" text-anchor="end">33</text>
<line x1="454.2" y1="552.33" x2="455.5" y2="552.33" stroke="#5b95c5" stroke-width="0.6"/>
<line x1="454.2" y1="547.9" x2="456.2" y2="547.9" stroke="#5b95c5" stroke-width="0.6"/>
<text x="452.3" y="549.56" font-size="4.6" fill="#3f80b8" text-anchor="end">34</text>
<line x1="454.2" y1="543.48" x2="455.5" y2="543.48" stroke="#5b95c5" stroke-width="0.6"/>
<line x1="454.2" y1="539.05" x2="456.2" y2="539.05" stroke="#5b95c5" stroke-width="0.6"/>
<text x="452.3" y="540.71" font-size="4.6" fill="#3f80b8" text-anchor="end">35</text>
<line x1="454.2" y1="534.63" x2="455.5" y2="534.63" stroke="#5b95c5" stroke-width="0.6"/>
<line x1="454.2" y1="530.2" x2="456.2" y2="530.2" stroke="#5b95c5" stroke-width="0.6"/>
<text x="452.3" y="531.86" font-size="4.6" fill="#3f80b8" text-anchor="end">36</text>
<text transform="translate(442.5 574.45) rotate(-90)" font-size="5.3" fill="#2f76b3" text-anchor="middle" dominant-baseline="central">mAP</text>
<line x1="534.4" y1="530.2" x2="534.4" y2="618.7" stroke="#7d77c2" stroke-width="0.8"/>
<line x1="534.4" y1="618.7" x2="536.4" y2="618.7" stroke="#6a62b0" stroke-width="0.6"/>
<text x="536.9" y="620.36" font-size="4.6" fill="#5a52a8">46</text>
<line x1="534.4" y1="614.28" x2="535.7" y2="614.28" stroke="#6a62b0" stroke-width="0.6"/>
<line x1="534.4" y1="609.85" x2="536.4" y2="609.85" stroke="#6a62b0" stroke-width="0.6"/>
<text x="536.9" y="611.51" font-size="4.6" fill="#5a52a8">48</text>
<line x1="534.4" y1="605.43" x2="535.7" y2="605.43" stroke="#6a62b0" stroke-width="0.6"/>
<line x1="534.4" y1="601" x2="536.4" y2="601" stroke="#6a62b0" stroke-width="0.6"/>
<text x="536.9" y="602.66" font-size="4.6" fill="#5a52a8">50</text>
<line x1="534.4" y1="596.58" x2="535.7" y2="596.58" stroke="#6a62b0" stroke-width="0.6"/>
<line x1="534.4" y1="592.15" x2="536.4" y2="592.15" stroke="#6a62b0" stroke-width="0.6"/>
<text x="536.9" y="593.81" font-size="4.6" fill="#5a52a8">52</text>
<line x1="534.4" y1="587.73" x2="535.7" y2="587.73" stroke="#6a62b0" stroke-width="0.6"/>
<line x1="534.4" y1="583.3" x2="536.4" y2="583.3" stroke="#6a62b0" stroke-width="0.6"/>
<text x="536.9" y="584.96" font-size="4.6" fill="#5a52a8">54</text>
<line x1="534.4" y1="578.88" x2="535.7" y2="578.88" stroke="#6a62b0" stroke-width="0.6"/>
<line x1="534.4" y1="574.45" x2="536.4" y2="574.45" stroke="#6a62b0" stroke-width="0.6"/>
<text x="536.9" y="576.11" font-size="4.6" fill="#5a52a8">56</text>
<line x1="534.4" y1="570.03" x2="535.7" y2="570.03" stroke="#6a62b0" stroke-width="0.6"/>
<line x1="534.4" y1="565.6" x2="536.4" y2="565.6" stroke="#6a62b0" stroke-width="0.6"/>
<text x="536.9" y="567.26" font-size="4.6" fill="#5a52a8">58</text>
<line x1="534.4" y1="561.18" x2="535.7" y2="561.18" stroke="#6a62b0" stroke-width="0.6"/>
<line x1="534.4" y1="556.75" x2="536.4" y2="556.75" stroke="#6a62b0" stroke-width="0.6"/>
<text x="536.9" y="558.41" font-size="4.6" fill="#5a52a8">60</text>
<line x1="534.4" y1="552.33" x2="535.7" y2="552.33" stroke="#6a62b0" stroke-width="0.6"/>
<line x1="534.4" y1="547.9" x2="536.4" y2="547.9" stroke="#6a62b0" stroke-width="0.6"/>
<text x="536.9" y="549.56" font-size="4.6" fill="#5a52a8">62</text>
<line x1="534.4" y1="543.48" x2="535.7" y2="543.48" stroke="#6a62b0" stroke-width="0.6"/>
<line x1="534.4" y1="539.05" x2="536.4" y2="539.05" stroke="#6a62b0" stroke-width="0.6"/>
<text x="536.9" y="540.71" font-size="4.6" fill="#5a52a8">64</text>
<line x1="534.4" y1="534.63" x2="535.7" y2="534.63" stroke="#6a62b0" stroke-width="0.6"/>
<line x1="534.4" y1="530.2" x2="536.4" y2="530.2" stroke="#6a62b0" stroke-width="0.6"/>
<text x="536.9" y="531.86" font-size="4.6" fill="#5a52a8">66</text>
<text transform="translate(545.1 574.45) rotate(-90)" font-size="5.3" fill="#4a41a0" text-anchor="middle" dominant-baseline="central">Accuracy</text>
<line x1="454.2" y1="618.7" x2="534.4" y2="618.7" stroke="#999" stroke-width="0.6"/>
<line x1="469.93" y1="618.7" x2="469.93" y2="619.9" stroke="#666" stroke-width="0.5"/>
<line x1="486.18" y1="618.7" x2="486.18" y2="619.9" stroke="#666" stroke-width="0.5"/>
<line x1="502.43" y1="618.7" x2="502.43" y2="619.9" stroke="#666" stroke-width="0.5"/>
<line x1="518.67" y1="618.7" x2="518.67" y2="619.9" stroke="#666" stroke-width="0.5"/>
<rect x="455.9" y="580" width="5.9" height="38.7" fill="#d4e6f3" stroke="#3a3a3a" stroke-width="0.6"/>
<rect x="461.8" y="590.5" width="5.9" height="28.2" fill="#e5e3f2" stroke="#3a3a3a" stroke-width="0.6"/>
<rect x="472.15" y="598.2" width="5.9" height="20.5" fill="#a7cce5" stroke="#3a3a3a" stroke-width="0.6"/>
<rect x="478.05" y="597" width="5.9" height="21.7" fill="#bcb6dc" stroke="#3a3a3a" stroke-width="0.6"/>
<rect x="488.4" y="575.2" width="5.9" height="43.5" fill="#80b9dc" stroke="#3a3a3a" stroke-width="0.6"/>
<rect x="494.3" y="584.6" width="5.9" height="34.1" fill="#a59dd1" stroke="#3a3a3a" stroke-width="0.6"/>
<rect x="504.65" y="574" width="5.9" height="44.7" fill="#58a2cd" stroke="#3a3a3a" stroke-width="0.6"/>
<rect x="510.55" y="580.8" width="5.9" height="37.9" fill="#8d84c4" stroke="#3a3a3a" stroke-width="0.6"/>
<rect x="520.9" y="554" width="5.9" height="64.7" fill="#3587bf" stroke="#3a3a3a" stroke-width="0.6"/>
<rect x="526.8" y="555" width="5.9" height="63.7" fill="#5a4ca2" stroke="#3a3a3a" stroke-width="0.6"/>
<path d="M458.85,560.3V580" stroke="#999" stroke-width="0.6" fill="none"/>
<path d="M457.85,560.3h2" stroke="#666" stroke-width="0.6" fill="none"/>
<path d="M458.85,580V599.5M457.85,599.5h2" stroke="#222" stroke-width="0.6" fill="none"/>
<path d="M464.75,571.8V590.5" stroke="#999" stroke-width="0.6" fill="none"/>
<path d="M463.75,571.8h2" stroke="#666" stroke-width="0.6" fill="none"/>
<path d="M464.75,590.5V609.7M463.75,609.7h2" stroke="#222" stroke-width="0.6" fill="none"/>
<path d="M475.1,581.2V598.2" stroke="#999" stroke-width="0.6" fill="none"/>
<path d="M474.1,581.2h2" stroke="#666" stroke-width="0.6" fill="none"/>
<path d="M475.1,598.2V616.5M474.1,616.5h2" stroke="#222" stroke-width="0.6" fill="none"/>
<path d="M481,579.1V597" stroke="#999" stroke-width="0.6" fill="none"/>
<path d="M480,579.1h2" stroke="#666" stroke-width="0.6" fill="none"/>
<path d="M481,597V614.3M480,614.3h2" stroke="#222" stroke-width="0.6" fill="none"/>
<path d="M491.35,556.5V575.2" stroke="#999" stroke-width="0.6" fill="none"/>
<path d="M490.35,556.5h2" stroke="#666" stroke-width="0.6" fill="none"/>
<path d="M491.35,575.2V594.4M490.35,594.4h2" stroke="#222" stroke-width="0.6" fill="none"/>
<path d="M497.25,566.2V584.6" stroke="#999" stroke-width="0.6" fill="none"/>
<path d="M496.25,566.2h2" stroke="#666" stroke-width="0.6" fill="none"/>
<path d="M497.25,584.6V603.2M496.25,603.2h2" stroke="#222" stroke-width="0.6" fill="none"/>
<path d="M507.6,549.2V574" stroke="#999" stroke-width="0.6" fill="none"/>
<path d="M506.6,549.2h2" stroke="#666" stroke-width="0.6" fill="none"/>
<path d="M507.6,574V598.5M506.6,598.5h2" stroke="#222" stroke-width="0.6" fill="none"/>
<path d="M513.5,562.1V580.8" stroke="#999" stroke-width="0.6" fill="none"/>
<path d="M512.5,562.1h2" stroke="#666" stroke-width="0.6" fill="none"/>
<path d="M513.5,580.8V599.5M512.5,599.5h2" stroke="#222" stroke-width="0.6" fill="none"/>
<path d="M523.85,534.4V554" stroke="#999" stroke-width="0.6" fill="none"/>
<path d="M522.85,534.4h2" stroke="#666" stroke-width="0.6" fill="none"/>
<path d="M523.85,554V573.5M522.85,573.5h2" stroke="#222" stroke-width="0.6" fill="none"/>
<path d="M529.75,535.6V555" stroke="#999" stroke-width="0.6" fill="none"/>
<path d="M528.75,535.6h2" stroke="#666" stroke-width="0.6" fill="none"/>
<path d="M529.75,555V574M528.75,574h2" stroke="#222" stroke-width="0.6" fill="none"/>
<polyline points="461.8,616.3 478.05,614.81 494.3,608.39 510.55,591.64 526.8,539.94" fill="none" stroke="#e64545" stroke-opacity="0.7" stroke-width="0.65"/>
<polyline points="461.8,616.3 478.05,614.81 494.3,613.56 510.55,613.58 526.8,606.38" fill="none" stroke="#e64545" stroke-opacity="0.42" stroke-width="1.2"/>
<circle cx="461.8" cy="616.3" r="1.15" fill="#e44848"/>
<circle cx="461.8" cy="616.3" r="1.15" fill="#e44848"/>
<circle cx="478.05" cy="614.81" r="1.15" fill="#e44848"/>
<circle cx="478.05" cy="614.81" r="1.15" fill="#e44848"/>
<circle cx="494.3" cy="608.39" r="1.15" fill="#e44848"/>
<circle cx="494.3" cy="613.56" r="1.15" fill="#e44848"/>
<circle cx="510.55" cy="591.64" r="1.15" fill="#e44848"/>
<circle cx="510.55" cy="613.58" r="1.15" fill="#e44848"/>
<circle cx="526.8" cy="539.94" r="1.15" fill="#e44848"/>
<circle cx="526.8" cy="606.38" r="1.15" fill="#e44848"/>
<line x1="461" y1="532.3" x2="468.4" y2="532.3" stroke="#e84a4a" stroke-opacity="0.9" stroke-width="0.7"/>
<circle cx="464.7" cy="532.3" r="1.1" fill="#e44848"/>
<text x="469.8" y="533.6" font-size="3.6" fill="#222">Total</text>
<line x1="461" y1="536.7" x2="468.4" y2="536.7" stroke="#e84a4a" stroke-opacity="0.45" stroke-width="0.9"/>
<circle cx="464.7" cy="536.7" r="1.1" fill="#e44848"/>
<text x="469.8" y="538" font-size="3.6" fill="#222">Laparoscopic Cholecystectomy</text>
<circle cx="461.8" cy="627.1" r="4.9" fill="#fff" stroke="#f3c4c4" stroke-width="1.8"/>
<circle cx="461.8" cy="627.1" r="4.9" fill="none" stroke="#de5454" stroke-width="1.8"/>
<text x="461.8" y="627.1" font-size="8" fill="#111" text-anchor="middle" dominant-baseline="central">A</text>
<text x="461.8" y="635.6" font-size="4.6" fill="#333" text-anchor="middle">100%</text>
<circle cx="478.05" cy="627.1" r="4.9" fill="#fff" stroke="#f3c4c4" stroke-width="1.8"/>
<circle cx="478.05" cy="627.1" r="4.9" fill="none" stroke="#de5454" stroke-width="1.8"/>
<text x="478.05" y="627.1" font-size="8" fill="#111" text-anchor="middle" dominant-baseline="central">B</text>
<text x="478.05" y="635.6" font-size="4.6" fill="#333" text-anchor="middle">100%</text>
<circle cx="494.3" cy="627.1" r="4.9" fill="#fff" stroke="#f3c4c4" stroke-width="1.8"/>
<path d="M491.85,622.86A4.9,4.9 0 0 1 497.43,630.87" fill="none" stroke="#de5454" stroke-width="1.8"/>
<text x="494.3" y="627.1" font-size="8" fill="#111" text-anchor="middle" dominant-baseline="central">C</text>
<text x="494.3" y="635.6" font-size="4.6" fill="#333" text-anchor="middle">47.3%</text>
<circle cx="510.55" cy="627.1" r="4.9" fill="#fff" stroke="#f3c4c4" stroke-width="1.8"/>
<path d="M508.1,622.86A4.9,4.9 0 0 1 513.19,622.97" fill="none" stroke="#de5454" stroke-width="1.8"/>
<text x="510.55" y="627.1" font-size="8" fill="#111" text-anchor="middle" dominant-baseline="central">D</text>
<text x="510.55" y="635.6" font-size="4.6" fill="#333" text-anchor="middle">17.4%</text>
<circle cx="526.8" cy="627.1" r="4.9" fill="#fff" stroke="#f3c4c4" stroke-width="1.8"/>
<path d="M524.35,622.86A4.9,4.9 0 0 1 528.82,622.64" fill="none" stroke="#de5454" stroke-width="1.8"/>
<text x="526.8" y="627.1" font-size="8" fill="#111" text-anchor="middle" dominant-baseline="central">E</text>
<text x="526.8" y="635.6" font-size="4.6" fill="#333" text-anchor="middle">15.1%</text>
<text x="493.7" y="644.8" class="bi" font-size="8.7" text-anchor="middle" textLength="58.7" lengthAdjust="spacingAndGlyphs">Cholec80-CVS</text>
<rect x="464.35" y="645.8" width="58.7" height="1.1" fill="#333"/>
<text x="545.8" y="536.7" font-size="12.4" fill="#111" textLength="10.36" lengthAdjust="spacingAndGlyphs">n)</text>
<line x1="573.4" y1="530.2" x2="573.4" y2="618.7" stroke="#ef9a9a" stroke-width="0.7"/>
<line x1="571.4" y1="618.2" x2="573.4" y2="618.2" stroke="#e57373" stroke-width="0.6"/>
<line x1="572.1" y1="607.2" x2="573.4" y2="607.2" stroke="#e57373" stroke-width="0.6"/>
<line x1="571.4" y1="596.2" x2="573.4" y2="596.2" stroke="#e57373" stroke-width="0.6"/>
<line x1="572.1" y1="585.2" x2="573.4" y2="585.2" stroke="#e57373" stroke-width="0.6"/>
<line x1="571.4" y1="574.2" x2="573.4" y2="574.2" stroke="#e57373" stroke-width="0.6"/>
<line x1="572.1" y1="563.2" x2="573.4" y2="563.2" stroke="#e57373" stroke-width="0.6"/>
<line x1="571.4" y1="552.2" x2="573.4" y2="552.2" stroke="#e57373" stroke-width="0.6"/>
<line x1="572.1" y1="541.2" x2="573.4" y2="541.2" stroke="#e57373" stroke-width="0.6"/>
<line x1="571.4" y1="530.2" x2="573.4" y2="530.2" stroke="#e57373" stroke-width="0.6"/>
<text x="571.6" y="619.86" font-size="4.6" fill="#e86a6a" text-anchor="end">0</text>
<text x="571.6" y="597.86" font-size="4.6" fill="#e86a6a" text-anchor="end">1×10<tspan font-size="2.99" dy="-1.84">6</tspan></text>
<text x="571.6" y="575.86" font-size="4.6" fill="#e86a6a" text-anchor="end">2×10<tspan font-size="2.99" dy="-1.84">6</tspan></text>
<text x="571.6" y="553.86" font-size="4.6" fill="#e86a6a" text-anchor="end">3×10<tspan font-size="2.99" dy="-1.84">6</tspan></text>
<text x="571.6" y="531.86" font-size="4.6" fill="#e86a6a" text-anchor="end">4×10<tspan font-size="2.99" dy="-1.84">6</tspan></text>
<text transform="translate(556.3 574.45) rotate(-90)" font-size="5.3" fill="#e04a4a" text-anchor="middle" dominant-baseline="central">#Frames</text>
<line x1="590.8" y1="530.2" x2="590.8" y2="618.7" stroke="#7aaad0" stroke-width="0.7"/>
<line x1="590.8" y1="618.7" x2="592.8" y2="618.7" stroke="#5b95c5" stroke-width="0.6"/>
<text x="588.9" y="620.36" font-size="4.6" fill="#3f80b8" text-anchor="end">37</text>
<line x1="590.8" y1="611.33" x2="592.1" y2="611.33" stroke="#5b95c5" stroke-width="0.6"/>
<line x1="590.8" y1="603.95" x2="592.8" y2="603.95" stroke="#5b95c5" stroke-width="0.6"/>
<text x="588.9" y="605.61" font-size="4.6" fill="#3f80b8" text-anchor="end">38</text>
<line x1="590.8" y1="596.58" x2="592.1" y2="596.58" stroke="#5b95c5" stroke-width="0.6"/>
<line x1="590.8" y1="589.2" x2="592.8" y2="589.2" stroke="#5b95c5" stroke-width="0.6"/>
<text x="588.9" y="590.86" font-size="4.6" fill="#3f80b8" text-anchor="end">39</text>
<line x1="590.8" y1="581.83" x2="592.1" y2="581.83" stroke="#5b95c5" stroke-width="0.6"/>
<line x1="590.8" y1="574.45" x2="592.8" y2="574.45" stroke="#5b95c5" stroke-width="0.6"/>
<text x="588.9" y="576.11" font-size="4.6" fill="#3f80b8" text-anchor="end">40</text>
<line x1="590.8" y1="567.08" x2="592.1" y2="567.08" stroke="#5b95c5" stroke-width="0.6"/>
<line x1="590.8" y1="559.7" x2="592.8" y2="559.7" stroke="#5b95c5" stroke-width="0.6"/>
<text x="588.9" y="561.36" font-size="4.6" fill="#3f80b8" text-anchor="end">41</text>
<line x1="590.8" y1="552.33" x2="592.1" y2="552.33" stroke="#5b95c5" stroke-width="0.6"/>
<line x1="590.8" y1="544.95" x2="592.8" y2="544.95" stroke="#5b95c5" stroke-width="0.6"/>
<text x="588.9" y="546.61" font-size="4.6" fill="#3f80b8" text-anchor="end">42</text>
<line x1="590.8" y1="537.58" x2="592.1" y2="537.58" stroke="#5b95c5" stroke-width="0.6"/>
<line x1="590.8" y1="530.2" x2="592.8" y2="530.2" stroke="#5b95c5" stroke-width="0.6"/>
<text x="588.9" y="531.86" font-size="4.6" fill="#3f80b8" text-anchor="end">43</text>
<text transform="translate(579.1 574.45) rotate(-90)" font-size="5.3" fill="#2f76b3" text-anchor="middle" dominant-baseline="central">mAP</text>
<line x1="671" y1="530.2" x2="671" y2="618.7" stroke="#7d77c2" stroke-width="0.8"/>
<line x1="671" y1="618.7" x2="673" y2="618.7" stroke="#6a62b0" stroke-width="0.6"/>
<text x="673.5" y="620.36" font-size="4.6" fill="#5a52a8">43</text>
<line x1="671" y1="609.85" x2="672.3" y2="609.85" stroke="#6a62b0" stroke-width="0.6"/>
<line x1="671" y1="601" x2="673" y2="601" stroke="#6a62b0" stroke-width="0.6"/>
<text x="673.5" y="602.66" font-size="4.6" fill="#5a52a8">44</text>
<line x1="671" y1="592.15" x2="672.3" y2="592.15" stroke="#6a62b0" stroke-width="0.6"/>
<line x1="671" y1="583.3" x2="673" y2="583.3" stroke="#6a62b0" stroke-width="0.6"/>
<text x="673.5" y="584.96" font-size="4.6" fill="#5a52a8">45</text>
<line x1="671" y1="574.45" x2="672.3" y2="574.45" stroke="#6a62b0" stroke-width="0.6"/>
<line x1="671" y1="565.6" x2="673" y2="565.6" stroke="#6a62b0" stroke-width="0.6"/>
<text x="673.5" y="567.26" font-size="4.6" fill="#5a52a8">46</text>
<line x1="671" y1="556.75" x2="672.3" y2="556.75" stroke="#6a62b0" stroke-width="0.6"/>
<line x1="671" y1="547.9" x2="673" y2="547.9" stroke="#6a62b0" stroke-width="0.6"/>
<text x="673.5" y="549.56" font-size="4.6" fill="#5a52a8">47</text>
<line x1="671" y1="539.05" x2="672.3" y2="539.05" stroke="#6a62b0" stroke-width="0.6"/>
<line x1="671" y1="530.2" x2="673" y2="530.2" stroke="#6a62b0" stroke-width="0.6"/>
<text x="673.5" y="531.86" font-size="4.6" fill="#5a52a8">48</text>
<text transform="translate(681.7 574.45) rotate(-90)" font-size="5.3" fill="#4a41a0" text-anchor="middle" dominant-baseline="central">Accuracy</text>
<line x1="590.8" y1="618.7" x2="671" y2="618.7" stroke="#999" stroke-width="0.6"/>
<line x1="606.52" y1="618.7" x2="606.52" y2="619.9" stroke="#666" stroke-width="0.5"/>
<line x1="622.77" y1="618.7" x2="622.77" y2="619.9" stroke="#666" stroke-width="0.5"/>
<line x1="639.02" y1="618.7" x2="639.02" y2="619.9" stroke="#666" stroke-width="0.5"/>
<line x1="655.27" y1="618.7" x2="655.27" y2="619.9" stroke="#666" stroke-width="0.5"/>
<rect x="592.5" y="597.3" width="5.9" height="21.4" fill="#d4e6f3" stroke="#3a3a3a" stroke-width="0.6"/>
<rect x="598.4" y="594.2" width="5.9" height="24.5" fill="#e5e3f2" stroke="#3a3a3a" stroke-width="0.6"/>
<rect x="608.75" y="578.6" width="5.9" height="40.1" fill="#a7cce5" stroke="#3a3a3a" stroke-width="0.6"/>
<rect x="614.65" y="589.7" width="5.9" height="29" fill="#bcb6dc" stroke="#3a3a3a" stroke-width="0.6"/>
<rect x="625" y="565.9" width="5.9" height="52.8" fill="#80b9dc" stroke="#3a3a3a" stroke-width="0.6"/>
<rect x="630.9" y="580.3" width="5.9" height="38.4" fill="#a59dd1" stroke="#3a3a3a" stroke-width="0.6"/>
<rect x="641.25" y="560.3" width="5.9" height="58.4" fill="#58a2cd" stroke="#3a3a3a" stroke-width="0.6"/>
<rect x="647.15" y="570.1" width="5.9" height="48.6" fill="#8d84c4" stroke="#3a3a3a" stroke-width="0.6"/>
<rect x="657.5" y="548" width="5.9" height="70.7" fill="#3587bf" stroke="#3a3a3a" stroke-width="0.6"/>
<rect x="663.4" y="549.7" width="5.9" height="69" fill="#5a4ca2" stroke="#3a3a3a" stroke-width="0.6"/>
<path d="M595.45,592.2V597.3" stroke="#999" stroke-width="0.6" fill="none"/>
<path d="M594.45,592.2h2" stroke="#666" stroke-width="0.6" fill="none"/>
<path d="M595.45,597.3V603.6M594.45,603.6h2" stroke="#222" stroke-width="0.6" fill="none"/>
<path d="M601.35,586.3V594.2" stroke="#999" stroke-width="0.6" fill="none"/>
<path d="M600.35,586.3h2" stroke="#666" stroke-width="0.6" fill="none"/>
<path d="M601.35,594.2V602.4M600.35,602.4h2" stroke="#222" stroke-width="0.6" fill="none"/>
<path d="M611.7,572.3V578.6" stroke="#999" stroke-width="0.6" fill="none"/>
<path d="M610.7,572.3h2" stroke="#666" stroke-width="0.6" fill="none"/>
<path d="M611.7,578.6V584.6M610.7,584.6h2" stroke="#222" stroke-width="0.6" fill="none"/>
<path d="M617.6,582V589.7" stroke="#999" stroke-width="0.6" fill="none"/>
<path d="M616.6,582h2" stroke="#666" stroke-width="0.6" fill="none"/>
<path d="M617.6,589.7V597.3M616.6,597.3h2" stroke="#222" stroke-width="0.6" fill="none"/>
<path d="M627.95,560.8V565.9" stroke="#999" stroke-width="0.6" fill="none"/>
<path d="M626.95,560.8h2" stroke="#666" stroke-width="0.6" fill="none"/>
<path d="M627.95,565.9V571.8M626.95,571.8h2" stroke="#222" stroke-width="0.6" fill="none"/>
<path d="M633.85,572.3V580.3" stroke="#999" stroke-width="0.6" fill="none"/>
<path d="M632.85,572.3h2" stroke="#666" stroke-width="0.6" fill="none"/>
<path d="M633.85,580.3V588.8M632.85,588.8h2" stroke="#222" stroke-width="0.6" fill="none"/>
<path d="M644.2,554V560.3" stroke="#999" stroke-width="0.6" fill="none"/>
<path d="M643.2,554h2" stroke="#666" stroke-width="0.6" fill="none"/>
<path d="M644.2,560.3V566.7M643.2,566.7h2" stroke="#222" stroke-width="0.6" fill="none"/>
<path d="M650.1,562.1V570.1" stroke="#999" stroke-width="0.6" fill="none"/>
<path d="M649.1,562.1h2" stroke="#666" stroke-width="0.6" fill="none"/>
<path d="M650.1,570.1V578.6M649.1,578.6h2" stroke="#222" stroke-width="0.6" fill="none"/>
<path d="M660.45,542.1V548" stroke="#999" stroke-width="0.6" fill="none"/>
<path d="M659.45,542.1h2" stroke="#666" stroke-width="0.6" fill="none"/>
<path d="M660.45,548V554M659.45,554h2" stroke="#222" stroke-width="0.6" fill="none"/>
<path d="M666.35,541.2V549.7" stroke="#999" stroke-width="0.6" fill="none"/>
<path d="M665.35,541.2h2" stroke="#666" stroke-width="0.6" fill="none"/>
<path d="M666.35,549.7V554M665.35,554h2" stroke="#222" stroke-width="0.6" fill="none"/>
<polyline points="598.4,616.3 614.65,614.81 630.9,608.39 647.15,591.64 663.4,539.94" fill="none" stroke="#e64545" stroke-opacity="0.7" stroke-width="0.65"/>
<polyline points="598.4,616.3 614.65,614.81 630.9,613.56 647.15,613.58 663.4,606.38" fill="none" stroke="#e64545" stroke-opacity="0.42" stroke-width="1.2"/>
<circle cx="598.4" cy="616.3" r="1.15" fill="#e44848"/>
<circle cx="598.4" cy="616.3" r="1.15" fill="#e44848"/>
<circle cx="614.65" cy="614.81" r="1.15" fill="#e44848"/>
<circle cx="614.65" cy="614.81" r="1.15" fill="#e44848"/>
<circle cx="630.9" cy="608.39" r="1.15" fill="#e44848"/>
<circle cx="630.9" cy="613.56" r="1.15" fill="#e44848"/>
<circle cx="647.15" cy="591.64" r="1.15" fill="#e44848"/>
<circle cx="647.15" cy="613.58" r="1.15" fill="#e44848"/>
<circle cx="663.4" cy="539.94" r="1.15" fill="#e44848"/>
<circle cx="663.4" cy="606.38" r="1.15" fill="#e44848"/>
<line x1="599" y1="532.3" x2="606.4" y2="532.3" stroke="#e84a4a" stroke-opacity="0.9" stroke-width="0.7"/>
<circle cx="602.7" cy="532.3" r="1.1" fill="#e44848"/>
<text x="607.8" y="533.6" font-size="3.6" fill="#222">Total</text>
<line x1="599" y1="536.7" x2="606.4" y2="536.7" stroke="#e84a4a" stroke-opacity="0.45" stroke-width="0.9"/>
<circle cx="602.7" cy="536.7" r="1.1" fill="#e44848"/>
<text x="607.8" y="538" font-size="3.6" fill="#222">Laparoscopic Cholecystectomy</text>
<circle cx="598.4" cy="627.1" r="4.9" fill="#fff" stroke="#f3c4c4" stroke-width="1.8"/>
<circle cx="598.4" cy="627.1" r="4.9" fill="none" stroke="#de5454" stroke-width="1.8"/>
<text x="598.4" y="627.1" font-size="8" fill="#111" text-anchor="middle" dominant-baseline="central">A</text>
<text x="598.4" y="635.6" font-size="4.6" fill="#333" text-anchor="middle">100%</text>
<circle cx="614.65" cy="627.1" r="4.9" fill="#fff" stroke="#f3c4c4" stroke-width="1.8"/>
<circle cx="614.65" cy="627.1" r="4.9" fill="none" stroke="#de5454" stroke-width="1.8"/>
<text x="614.65" y="627.1" font-size="8" fill="#111" text-anchor="middle" dominant-baseline="central">B</text>
<text x="614.65" y="635.6" font-size="4.6" fill="#333" text-anchor="middle">100%</text>
<circle cx="630.9" cy="627.1" r="4.9" fill="#fff" stroke="#f3c4c4" stroke-width="1.8"/>
<path d="M628.45,622.86A4.9,4.9 0 0 1 634.03,630.87" fill="none" stroke="#de5454" stroke-width="1.8"/>
<text x="630.9" y="627.1" font-size="8" fill="#111" text-anchor="middle" dominant-baseline="central">C</text>
<text x="630.9" y="635.6" font-size="4.6" fill="#333" text-anchor="middle">47.3%</text>
<circle cx="647.15" cy="627.1" r="4.9" fill="#fff" stroke="#f3c4c4" stroke-width="1.8"/>
<path d="M644.7,622.86A4.9,4.9 0 0 1 649.79,622.97" fill="none" stroke="#de5454" stroke-width="1.8"/>
<text x="647.15" y="627.1" font-size="8" fill="#111" text-anchor="middle" dominant-baseline="central">D</text>
<text x="647.15" y="635.6" font-size="4.6" fill="#333" text-anchor="middle">17.4%</text>
<circle cx="663.4" cy="627.1" r="4.9" fill="#fff" stroke="#f3c4c4" stroke-width="1.8"/>
<path d="M660.95,622.86A4.9,4.9 0 0 1 665.42,622.64" fill="none" stroke="#de5454" stroke-width="1.8"/>
<text x="663.4" y="627.1" font-size="8" fill="#111" text-anchor="middle" dominant-baseline="central">E</text>
<text x="663.4" y="635.6" font-size="4.6" fill="#333" text-anchor="middle">15.1%</text>
<text x="630" y="644.8" class="bi" font-size="8.7" text-anchor="middle" textLength="71.4" lengthAdjust="spacingAndGlyphs">Endoscapes-CVS</text>
<rect x="594.3" y="645.8" width="71.4" height="1.1" fill="#333"/>
<text x="0.3" y="9.9" font-size="14" fill="#111" textLength="10.8" lengthAdjust="spacingAndGlyphs">a)</text>
</svg></body></html>
